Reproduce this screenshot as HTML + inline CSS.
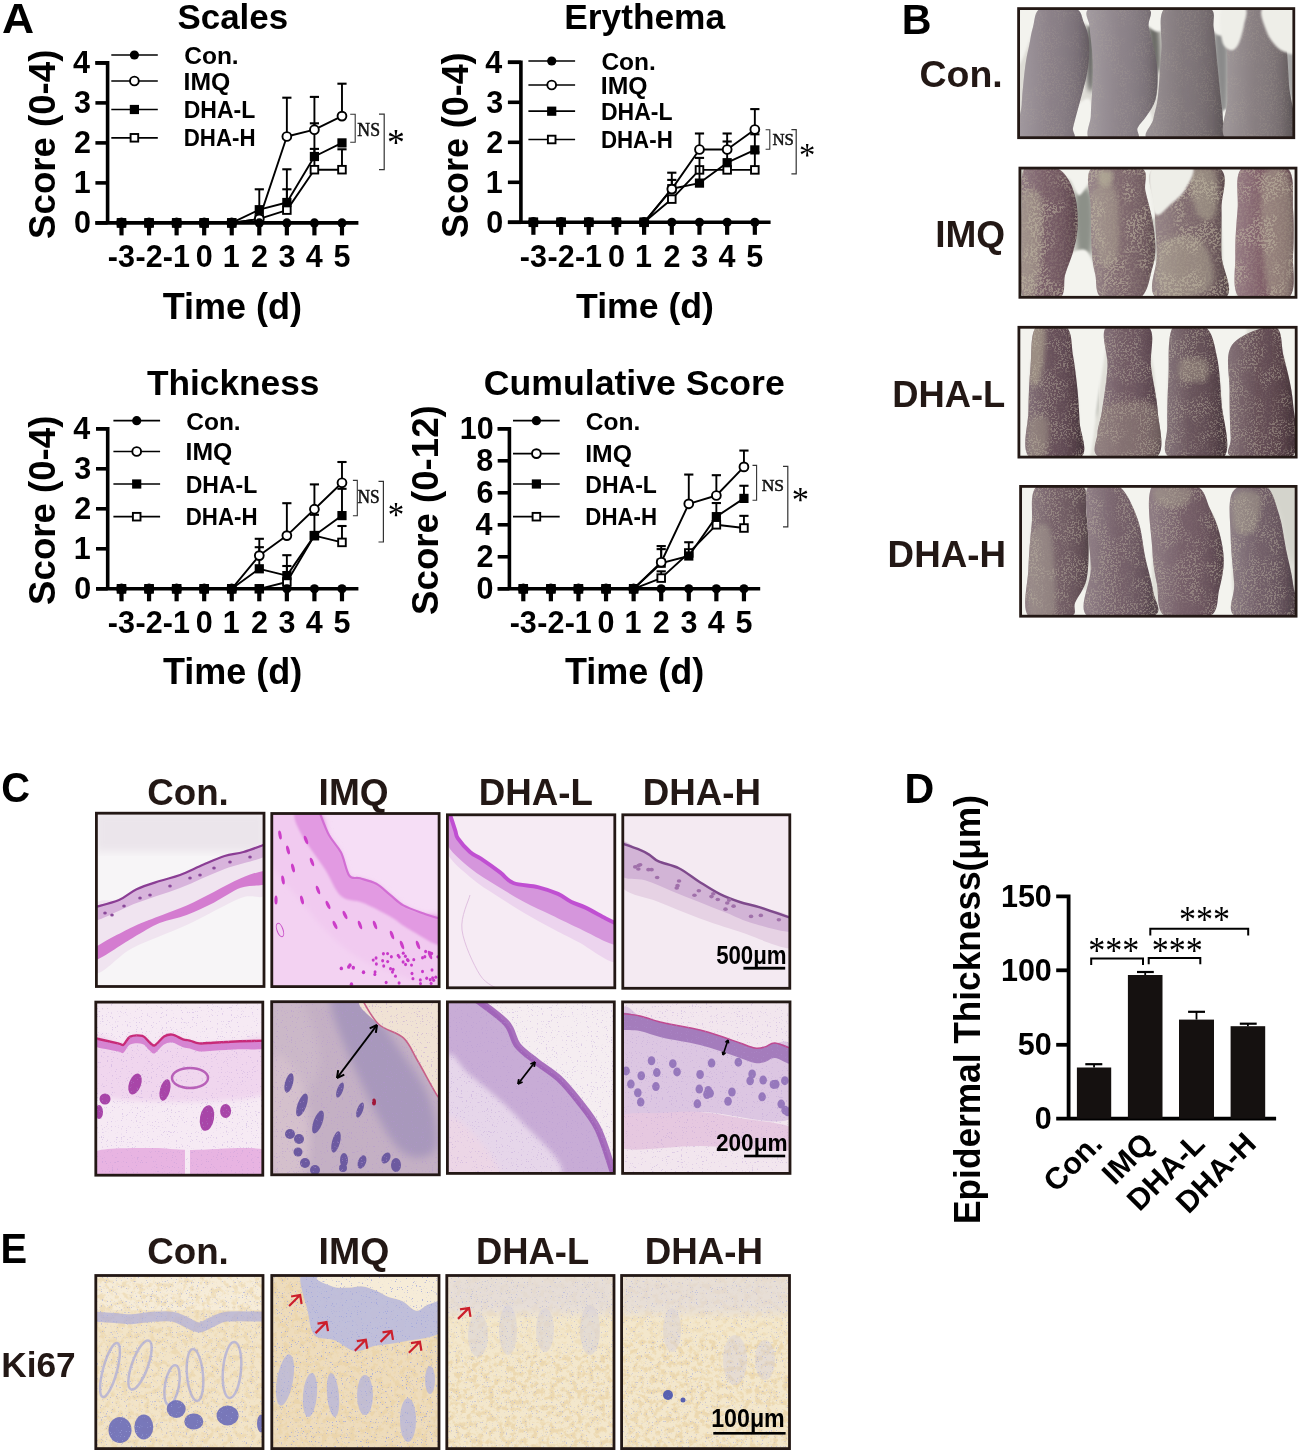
<!DOCTYPE html>
<html><head><meta charset="utf-8"><title>Figure</title>
<style>html,body{margin:0;padding:0;background:#fff;} svg{display:block;}</style></head>
<body><svg width="1301" height="1454" viewBox="0 0 1301 1454">
<rect width="1301" height="1454" fill="#fff"/>
<text transform="translate(2.09 32.8) scale(1.06 1)" font-family='"Liberation Sans", Arial, sans-serif' font-weight="bold" font-size="42" fill="#000" >A</text>
<text transform="translate(901.83 33.7) scale(0.98 1)" font-family='"Liberation Sans", Arial, sans-serif' font-weight="bold" font-size="42" fill="#000" >B</text>
<text transform="translate(1.21 802.3) scale(0.95 1)" font-family='"Liberation Sans", Arial, sans-serif' font-weight="bold" font-size="42" fill="#000" >C</text>
<text transform="translate(904.52 802.8) scale(0.98 1)" font-family='"Liberation Sans", Arial, sans-serif' font-weight="bold" font-size="42" fill="#000" >D</text>
<text transform="translate(0.6 1262.9) scale(0.95 1)" font-family='"Liberation Sans", Arial, sans-serif' font-weight="bold" font-size="42" fill="#000" >E</text>
<text transform="translate(177.45 29) scale(0.97 1)" font-family='"Liberation Sans", Arial, sans-serif' font-weight="bold" font-size="36" fill="#000" >Scales</text>
<text transform="translate(54.7 238.9) rotate(-90) scale(0.99 1)" font-family='"Liberation Sans", Arial, sans-serif' font-weight="bold" font-size="37" fill="#000">Score (0-4)</text>
<path d="M95.4 222.9 H358.4 M107.6 224.7 V61.1 M107.6 62.9 H95.4" fill="none" stroke="#000" stroke-width="3.6"/>
<line x1="95.4" y1="222.9" x2="107.6" y2="222.9" stroke="#000" stroke-width="3.6" stroke-linecap="butt"/>
<text transform="translate(74.09 233.3) scale(1 1)" font-family='"Liberation Sans", Arial, sans-serif' font-weight="bold" font-size="30.5" fill="#000" >0</text>
<line x1="95.4" y1="182.9" x2="107.6" y2="182.9" stroke="#000" stroke-width="3.6" stroke-linecap="butt"/>
<text transform="translate(73.64 193.3) scale(1 1)" font-family='"Liberation Sans", Arial, sans-serif' font-weight="bold" font-size="30.5" fill="#000" >1</text>
<line x1="95.4" y1="142.9" x2="107.6" y2="142.9" stroke="#000" stroke-width="3.6" stroke-linecap="butt"/>
<text transform="translate(74.09 153.3) scale(1 1)" font-family='"Liberation Sans", Arial, sans-serif' font-weight="bold" font-size="30.5" fill="#000" >2</text>
<line x1="95.4" y1="102.9" x2="107.6" y2="102.9" stroke="#000" stroke-width="3.6" stroke-linecap="butt"/>
<text transform="translate(73.94 113.3) scale(1 1)" font-family='"Liberation Sans", Arial, sans-serif' font-weight="bold" font-size="30.5" fill="#000" >3</text>
<line x1="95.4" y1="62.9" x2="107.6" y2="62.9" stroke="#000" stroke-width="3.6" stroke-linecap="butt"/>
<text transform="translate(73.03 73.3) scale(1 1)" font-family='"Liberation Sans", Arial, sans-serif' font-weight="bold" font-size="30.5" fill="#000" >4</text>
<line x1="121.5" y1="222.9" x2="121.5" y2="235.4" stroke="#000" stroke-width="4.2" stroke-linecap="butt"/>
<text transform="translate(107.85 267.2) scale(1 1)" font-family='"Liberation Sans", Arial, sans-serif' font-weight="bold" font-size="30.5" fill="#000" >-3</text>
<line x1="149.06" y1="222.9" x2="149.06" y2="235.4" stroke="#000" stroke-width="4.2" stroke-linecap="butt"/>
<text transform="translate(135.49 267.2) scale(1 1)" font-family='"Liberation Sans", Arial, sans-serif' font-weight="bold" font-size="30.5" fill="#000" >-2</text>
<line x1="176.62" y1="222.9" x2="176.62" y2="235.4" stroke="#000" stroke-width="4.2" stroke-linecap="butt"/>
<text transform="translate(162.82 267.2) scale(1 1)" font-family='"Liberation Sans", Arial, sans-serif' font-weight="bold" font-size="30.5" fill="#000" >-1</text>
<line x1="204.18" y1="222.9" x2="204.18" y2="235.4" stroke="#000" stroke-width="4.2" stroke-linecap="butt"/>
<text transform="translate(195.72 267.2) scale(1 1)" font-family='"Liberation Sans", Arial, sans-serif' font-weight="bold" font-size="30.5" fill="#000" >0</text>
<line x1="231.74" y1="222.9" x2="231.74" y2="235.4" stroke="#000" stroke-width="4.2" stroke-linecap="butt"/>
<text transform="translate(222.74 267.2) scale(1 1)" font-family='"Liberation Sans", Arial, sans-serif' font-weight="bold" font-size="30.5" fill="#000" >1</text>
<line x1="259.3" y1="222.9" x2="259.3" y2="235.4" stroke="#000" stroke-width="4.2" stroke-linecap="butt"/>
<text transform="translate(250.91 267.2) scale(1 1)" font-family='"Liberation Sans", Arial, sans-serif' font-weight="bold" font-size="30.5" fill="#000" >2</text>
<line x1="286.86" y1="222.9" x2="286.86" y2="235.4" stroke="#000" stroke-width="4.2" stroke-linecap="butt"/>
<text transform="translate(278.55 267.2) scale(1 1)" font-family='"Liberation Sans", Arial, sans-serif' font-weight="bold" font-size="30.5" fill="#000" >3</text>
<line x1="314.42" y1="222.9" x2="314.42" y2="235.4" stroke="#000" stroke-width="4.2" stroke-linecap="butt"/>
<text transform="translate(305.8 267.2) scale(1 1)" font-family='"Liberation Sans", Arial, sans-serif' font-weight="bold" font-size="30.5" fill="#000" >4</text>
<line x1="341.98" y1="222.9" x2="341.98" y2="235.4" stroke="#000" stroke-width="4.2" stroke-linecap="butt"/>
<text transform="translate(333.44 267.2) scale(1 1)" font-family='"Liberation Sans", Arial, sans-serif' font-weight="bold" font-size="30.5" fill="#000" >5</text>
<text transform="translate(162.64 319) scale(1 1)" font-family='"Liberation Sans", Arial, sans-serif' font-weight="bold" font-size="36" fill="#000" >Time (d)</text>
<line x1="286.86" y1="210.1" x2="286.86" y2="189.3" stroke="#000" stroke-width="1.9" stroke-linecap="butt"/>
<line x1="282.26" y1="189.3" x2="291.46" y2="189.3" stroke="#000" stroke-width="2.1" stroke-linecap="butt"/>
<line x1="314.42" y1="169.7" x2="314.42" y2="148.9" stroke="#000" stroke-width="1.9" stroke-linecap="butt"/>
<line x1="309.82" y1="148.9" x2="319.02" y2="148.9" stroke="#000" stroke-width="2.1" stroke-linecap="butt"/>
<line x1="341.98" y1="169.7" x2="341.98" y2="149.3" stroke="#000" stroke-width="1.9" stroke-linecap="butt"/>
<line x1="337.38" y1="149.3" x2="346.58" y2="149.3" stroke="#000" stroke-width="2.1" stroke-linecap="butt"/>
<polyline points="121.5,222.9 149.06,222.9 176.62,222.9 204.18,222.9 231.74,222.9 259.3,218.9 286.86,210.1 314.42,169.7 341.98,169.7" fill="none" stroke="#000" stroke-width="1.9" stroke-linejoin="round"/>
<rect x="117.7" y="219.1" width="7.6" height="7.6" fill="#fff" stroke="#000" stroke-width="1.9"/>
<rect x="145.26" y="219.1" width="7.6" height="7.6" fill="#fff" stroke="#000" stroke-width="1.9"/>
<rect x="172.82" y="219.1" width="7.6" height="7.6" fill="#fff" stroke="#000" stroke-width="1.9"/>
<rect x="200.38" y="219.1" width="7.6" height="7.6" fill="#fff" stroke="#000" stroke-width="1.9"/>
<rect x="227.94" y="219.1" width="7.6" height="7.6" fill="#fff" stroke="#000" stroke-width="1.9"/>
<rect x="255.5" y="215.1" width="7.6" height="7.6" fill="#fff" stroke="#000" stroke-width="1.9"/>
<rect x="283.06" y="206.3" width="7.6" height="7.6" fill="#fff" stroke="#000" stroke-width="1.9"/>
<rect x="310.62" y="165.9" width="7.6" height="7.6" fill="#fff" stroke="#000" stroke-width="1.9"/>
<rect x="338.18" y="165.9" width="7.6" height="7.6" fill="#fff" stroke="#000" stroke-width="1.9"/>
<line x1="259.3" y1="209.7" x2="259.3" y2="189.3" stroke="#000" stroke-width="1.9" stroke-linecap="butt"/>
<line x1="254.7" y1="189.3" x2="263.9" y2="189.3" stroke="#000" stroke-width="2.1" stroke-linecap="butt"/>
<line x1="286.86" y1="202.5" x2="286.86" y2="169.3" stroke="#000" stroke-width="1.9" stroke-linecap="butt"/>
<line x1="282.26" y1="169.3" x2="291.46" y2="169.3" stroke="#000" stroke-width="2.1" stroke-linecap="butt"/>
<line x1="314.42" y1="156.5" x2="314.42" y2="123.3" stroke="#000" stroke-width="1.9" stroke-linecap="butt"/>
<line x1="309.82" y1="123.3" x2="319.02" y2="123.3" stroke="#000" stroke-width="2.1" stroke-linecap="butt"/>
<polyline points="121.5,222.9 149.06,222.9 176.62,222.9 204.18,222.9 231.74,222.9 259.3,209.7 286.86,202.5 314.42,156.5 341.98,142.9" fill="none" stroke="#000" stroke-width="1.9" stroke-linejoin="round"/>
<rect x="116.9" y="218.3" width="9.2" height="9.2" fill="#000"/>
<rect x="144.46" y="218.3" width="9.2" height="9.2" fill="#000"/>
<rect x="172.02" y="218.3" width="9.2" height="9.2" fill="#000"/>
<rect x="199.58" y="218.3" width="9.2" height="9.2" fill="#000"/>
<rect x="227.14" y="218.3" width="9.2" height="9.2" fill="#000"/>
<rect x="254.7" y="205.1" width="9.2" height="9.2" fill="#000"/>
<rect x="282.26" y="197.9" width="9.2" height="9.2" fill="#000"/>
<rect x="309.82" y="151.9" width="9.2" height="9.2" fill="#000"/>
<rect x="337.38" y="138.3" width="9.2" height="9.2" fill="#000"/>
<line x1="286.86" y1="136.5" x2="286.86" y2="97.7" stroke="#000" stroke-width="1.9" stroke-linecap="butt"/>
<line x1="282.26" y1="97.7" x2="291.46" y2="97.7" stroke="#000" stroke-width="2.1" stroke-linecap="butt"/>
<line x1="314.42" y1="129.7" x2="314.42" y2="96.9" stroke="#000" stroke-width="1.9" stroke-linecap="butt"/>
<line x1="309.82" y1="96.9" x2="319.02" y2="96.9" stroke="#000" stroke-width="2.1" stroke-linecap="butt"/>
<line x1="341.98" y1="116.1" x2="341.98" y2="83.7" stroke="#000" stroke-width="1.9" stroke-linecap="butt"/>
<line x1="337.38" y1="83.7" x2="346.58" y2="83.7" stroke="#000" stroke-width="2.1" stroke-linecap="butt"/>
<polyline points="121.5,222.9 149.06,222.9 176.62,222.9 204.18,222.9 231.74,222.9 259.3,218.9 286.86,136.5 314.42,129.7 341.98,116.1" fill="none" stroke="#000" stroke-width="1.9" stroke-linejoin="round"/>
<circle cx="121.5" cy="222.9" r="4.4" fill="#fff" stroke="#000" stroke-width="1.9"/>
<circle cx="149.06" cy="222.9" r="4.4" fill="#fff" stroke="#000" stroke-width="1.9"/>
<circle cx="176.62" cy="222.9" r="4.4" fill="#fff" stroke="#000" stroke-width="1.9"/>
<circle cx="204.18" cy="222.9" r="4.4" fill="#fff" stroke="#000" stroke-width="1.9"/>
<circle cx="231.74" cy="222.9" r="4.4" fill="#fff" stroke="#000" stroke-width="1.9"/>
<circle cx="259.3" cy="218.9" r="4.4" fill="#fff" stroke="#000" stroke-width="1.9"/>
<circle cx="286.86" cy="136.5" r="4.4" fill="#fff" stroke="#000" stroke-width="1.9"/>
<circle cx="314.42" cy="129.7" r="4.4" fill="#fff" stroke="#000" stroke-width="1.9"/>
<circle cx="341.98" cy="116.1" r="4.4" fill="#fff" stroke="#000" stroke-width="1.9"/>
<polyline points="121.5,222.9 149.06,222.9 176.62,222.9 204.18,222.9 231.74,222.9 259.3,222.9 286.86,222.9 314.42,222.9 341.98,222.9" fill="none" stroke="#000" stroke-width="1.9" stroke-linejoin="round"/>
<circle cx="121.5" cy="222.9" r="4.6" fill="#000"/>
<circle cx="149.06" cy="222.9" r="4.6" fill="#000"/>
<circle cx="176.62" cy="222.9" r="4.6" fill="#000"/>
<circle cx="204.18" cy="222.9" r="4.6" fill="#000"/>
<circle cx="231.74" cy="222.9" r="4.6" fill="#000"/>
<circle cx="259.3" cy="222.9" r="4.6" fill="#000"/>
<circle cx="286.86" cy="222.9" r="4.6" fill="#000"/>
<circle cx="314.42" cy="222.9" r="4.6" fill="#000"/>
<circle cx="341.98" cy="222.9" r="4.6" fill="#000"/>
<line x1="111.3" y1="55" x2="157.8" y2="55" stroke="#000" stroke-width="1.7" stroke-linecap="butt"/>
<circle cx="134.4" cy="55" r="4.6" fill="#000"/>
<text transform="translate(184.22 63.6) scale(1 1)" font-family='"Liberation Sans", Arial, sans-serif' font-weight="bold" font-size="24.5" fill="#000" >Con.</text>
<line x1="111.3" y1="81" x2="157.8" y2="81" stroke="#000" stroke-width="1.7" stroke-linecap="butt"/>
<circle cx="134.4" cy="81" r="4.4" fill="#fff" stroke="#000" stroke-width="1.9"/>
<text transform="translate(183.59 89.8) scale(1.01 1)" font-family='"Liberation Sans", Arial, sans-serif' font-weight="bold" font-size="24.5" fill="#000" >IMQ</text>
<line x1="111.3" y1="109.5" x2="157.8" y2="109.5" stroke="#000" stroke-width="1.7" stroke-linecap="butt"/>
<rect x="129.8" y="104.9" width="9.2" height="9.2" fill="#000"/>
<text transform="translate(183.7 117.8) scale(0.94 1)" font-family='"Liberation Sans", Arial, sans-serif' font-weight="bold" font-size="24.5" fill="#000" >DHA-L</text>
<line x1="111.3" y1="137.8" x2="157.8" y2="137.8" stroke="#000" stroke-width="1.7" stroke-linecap="butt"/>
<rect x="130.6" y="134" width="7.6" height="7.6" fill="#fff" stroke="#000" stroke-width="1.9"/>
<text transform="translate(183.74 146) scale(0.91 1)" font-family='"Liberation Sans", Arial, sans-serif' font-weight="bold" font-size="24.5" fill="#000" >DHA-H</text>
<path d="M350.2 114.2 H355.2 V142.2 H350.2" fill="none" stroke="#333" stroke-width="1.1"/>
<text transform="translate(357.37 135.7) scale(0.96 1)" font-family='"Liberation Serif", "Times New Roman", serif' font-weight="normal" font-size="18.5" fill="#111" stroke="#111" stroke-width="0.5">NS</text>
<path d="M379 114.2 H384.2 V169.7 H379" fill="none" stroke="#333" stroke-width="1.2"/>
<text transform="translate(386.91 154.62) scale(0.93 1)" font-family='"Liberation Serif", "Times New Roman", serif' font-weight="normal" font-size="38.36" fill="#000">*</text>
<text transform="translate(564.31 29) scale(0.98 1)" font-family='"Liberation Sans", Arial, sans-serif' font-weight="bold" font-size="36" fill="#000" >Erythema</text>
<text transform="translate(467.5 237.88) rotate(-90) scale(0.97 1)" font-family='"Liberation Sans", Arial, sans-serif' font-weight="bold" font-size="37" fill="#000">Score (0-4)</text>
<path d="M507.9 222.3 H770.6 M520.9 224.1 V60.5 M520.9 62.3 H507.9" fill="none" stroke="#000" stroke-width="3.6"/>
<line x1="507.9" y1="222.3" x2="520.9" y2="222.3" stroke="#000" stroke-width="3.6" stroke-linecap="butt"/>
<text transform="translate(486.29 232.7) scale(1 1)" font-family='"Liberation Sans", Arial, sans-serif' font-weight="bold" font-size="30.5" fill="#000" >0</text>
<line x1="507.9" y1="182.3" x2="520.9" y2="182.3" stroke="#000" stroke-width="3.6" stroke-linecap="butt"/>
<text transform="translate(485.84 192.7) scale(1 1)" font-family='"Liberation Sans", Arial, sans-serif' font-weight="bold" font-size="30.5" fill="#000" >1</text>
<line x1="507.9" y1="142.3" x2="520.9" y2="142.3" stroke="#000" stroke-width="3.6" stroke-linecap="butt"/>
<text transform="translate(486.29 152.7) scale(1 1)" font-family='"Liberation Sans", Arial, sans-serif' font-weight="bold" font-size="30.5" fill="#000" >2</text>
<line x1="507.9" y1="102.3" x2="520.9" y2="102.3" stroke="#000" stroke-width="3.6" stroke-linecap="butt"/>
<text transform="translate(486.14 112.7) scale(1 1)" font-family='"Liberation Sans", Arial, sans-serif' font-weight="bold" font-size="30.5" fill="#000" >3</text>
<line x1="507.9" y1="62.3" x2="520.9" y2="62.3" stroke="#000" stroke-width="3.6" stroke-linecap="butt"/>
<text transform="translate(485.23 72.7) scale(1 1)" font-family='"Liberation Sans", Arial, sans-serif' font-weight="bold" font-size="30.5" fill="#000" >4</text>
<line x1="533.4" y1="222.3" x2="533.4" y2="234.8" stroke="#000" stroke-width="4.2" stroke-linecap="butt"/>
<text transform="translate(519.75 266.9) scale(1 1)" font-family='"Liberation Sans", Arial, sans-serif' font-weight="bold" font-size="30.5" fill="#000" >-3</text>
<line x1="561.08" y1="222.3" x2="561.08" y2="234.8" stroke="#000" stroke-width="4.2" stroke-linecap="butt"/>
<text transform="translate(547.51 266.9) scale(1 1)" font-family='"Liberation Sans", Arial, sans-serif' font-weight="bold" font-size="30.5" fill="#000" >-2</text>
<line x1="588.76" y1="222.3" x2="588.76" y2="234.8" stroke="#000" stroke-width="4.2" stroke-linecap="butt"/>
<text transform="translate(574.96 266.9) scale(1 1)" font-family='"Liberation Sans", Arial, sans-serif' font-weight="bold" font-size="30.5" fill="#000" >-1</text>
<line x1="616.44" y1="222.3" x2="616.44" y2="234.8" stroke="#000" stroke-width="4.2" stroke-linecap="butt"/>
<text transform="translate(607.98 266.9) scale(1 1)" font-family='"Liberation Sans", Arial, sans-serif' font-weight="bold" font-size="30.5" fill="#000" >0</text>
<line x1="644.12" y1="222.3" x2="644.12" y2="234.8" stroke="#000" stroke-width="4.2" stroke-linecap="butt"/>
<text transform="translate(635.12 266.9) scale(1 1)" font-family='"Liberation Sans", Arial, sans-serif' font-weight="bold" font-size="30.5" fill="#000" >1</text>
<line x1="671.8" y1="222.3" x2="671.8" y2="234.8" stroke="#000" stroke-width="4.2" stroke-linecap="butt"/>
<text transform="translate(663.41 266.9) scale(1 1)" font-family='"Liberation Sans", Arial, sans-serif' font-weight="bold" font-size="30.5" fill="#000" >2</text>
<line x1="699.48" y1="222.3" x2="699.48" y2="234.8" stroke="#000" stroke-width="4.2" stroke-linecap="butt"/>
<text transform="translate(691.17 266.9) scale(1 1)" font-family='"Liberation Sans", Arial, sans-serif' font-weight="bold" font-size="30.5" fill="#000" >3</text>
<line x1="727.16" y1="222.3" x2="727.16" y2="234.8" stroke="#000" stroke-width="4.2" stroke-linecap="butt"/>
<text transform="translate(718.54 266.9) scale(1 1)" font-family='"Liberation Sans", Arial, sans-serif' font-weight="bold" font-size="30.5" fill="#000" >4</text>
<line x1="754.84" y1="222.3" x2="754.84" y2="234.8" stroke="#000" stroke-width="4.2" stroke-linecap="butt"/>
<text transform="translate(746.3 266.9) scale(1 1)" font-family='"Liberation Sans", Arial, sans-serif' font-weight="bold" font-size="30.5" fill="#000" >5</text>
<text transform="translate(576.04 317.7) scale(0.99 1)" font-family='"Liberation Sans", Arial, sans-serif' font-weight="bold" font-size="36" fill="#000" >Time (d)</text>
<line x1="754.84" y1="169.9" x2="754.84" y2="152.3" stroke="#000" stroke-width="1.9" stroke-linecap="butt"/>
<line x1="750.24" y1="152.3" x2="759.44" y2="152.3" stroke="#000" stroke-width="2.1" stroke-linecap="butt"/>
<polyline points="533.4,222.3 561.08,222.3 588.76,222.3 616.44,222.3 644.12,222.3 671.8,199.1 699.48,169.9 727.16,169.9 754.84,169.9" fill="none" stroke="#000" stroke-width="1.9" stroke-linejoin="round"/>
<rect x="529.6" y="218.5" width="7.6" height="7.6" fill="#fff" stroke="#000" stroke-width="1.9"/>
<rect x="557.28" y="218.5" width="7.6" height="7.6" fill="#fff" stroke="#000" stroke-width="1.9"/>
<rect x="584.96" y="218.5" width="7.6" height="7.6" fill="#fff" stroke="#000" stroke-width="1.9"/>
<rect x="612.64" y="218.5" width="7.6" height="7.6" fill="#fff" stroke="#000" stroke-width="1.9"/>
<rect x="640.32" y="218.5" width="7.6" height="7.6" fill="#fff" stroke="#000" stroke-width="1.9"/>
<rect x="668" y="195.3" width="7.6" height="7.6" fill="#fff" stroke="#000" stroke-width="1.9"/>
<rect x="695.68" y="166.1" width="7.6" height="7.6" fill="#fff" stroke="#000" stroke-width="1.9"/>
<rect x="723.36" y="166.1" width="7.6" height="7.6" fill="#fff" stroke="#000" stroke-width="1.9"/>
<rect x="751.04" y="166.1" width="7.6" height="7.6" fill="#fff" stroke="#000" stroke-width="1.9"/>
<line x1="671.8" y1="188.7" x2="671.8" y2="179.9" stroke="#000" stroke-width="1.9" stroke-linecap="butt"/>
<line x1="667.2" y1="179.9" x2="676.4" y2="179.9" stroke="#000" stroke-width="2.1" stroke-linecap="butt"/>
<line x1="699.48" y1="183.1" x2="699.48" y2="157.9" stroke="#000" stroke-width="1.9" stroke-linecap="butt"/>
<line x1="694.88" y1="157.9" x2="704.08" y2="157.9" stroke="#000" stroke-width="2.1" stroke-linecap="butt"/>
<line x1="727.16" y1="162.7" x2="727.16" y2="141.5" stroke="#000" stroke-width="1.9" stroke-linecap="butt"/>
<line x1="722.56" y1="141.5" x2="731.76" y2="141.5" stroke="#000" stroke-width="2.1" stroke-linecap="butt"/>
<line x1="754.84" y1="149.9" x2="754.84" y2="134.3" stroke="#000" stroke-width="1.9" stroke-linecap="butt"/>
<line x1="750.24" y1="134.3" x2="759.44" y2="134.3" stroke="#000" stroke-width="2.1" stroke-linecap="butt"/>
<polyline points="533.4,222.3 561.08,222.3 588.76,222.3 616.44,222.3 644.12,222.3 671.8,188.7 699.48,183.1 727.16,162.7 754.84,149.9" fill="none" stroke="#000" stroke-width="1.9" stroke-linejoin="round"/>
<rect x="528.8" y="217.7" width="9.2" height="9.2" fill="#000"/>
<rect x="556.48" y="217.7" width="9.2" height="9.2" fill="#000"/>
<rect x="584.16" y="217.7" width="9.2" height="9.2" fill="#000"/>
<rect x="611.84" y="217.7" width="9.2" height="9.2" fill="#000"/>
<rect x="639.52" y="217.7" width="9.2" height="9.2" fill="#000"/>
<rect x="667.2" y="184.1" width="9.2" height="9.2" fill="#000"/>
<rect x="694.88" y="178.5" width="9.2" height="9.2" fill="#000"/>
<rect x="722.56" y="158.1" width="9.2" height="9.2" fill="#000"/>
<rect x="750.24" y="145.3" width="9.2" height="9.2" fill="#000"/>
<line x1="671.8" y1="189.1" x2="671.8" y2="172.7" stroke="#000" stroke-width="1.9" stroke-linecap="butt"/>
<line x1="667.2" y1="172.7" x2="676.4" y2="172.7" stroke="#000" stroke-width="2.1" stroke-linecap="butt"/>
<line x1="699.48" y1="149.5" x2="699.48" y2="133.5" stroke="#000" stroke-width="1.9" stroke-linecap="butt"/>
<line x1="694.88" y1="133.5" x2="704.08" y2="133.5" stroke="#000" stroke-width="2.1" stroke-linecap="butt"/>
<line x1="727.16" y1="149.5" x2="727.16" y2="133.5" stroke="#000" stroke-width="1.9" stroke-linecap="butt"/>
<line x1="722.56" y1="133.5" x2="731.76" y2="133.5" stroke="#000" stroke-width="2.1" stroke-linecap="butt"/>
<line x1="754.84" y1="129.5" x2="754.84" y2="109.1" stroke="#000" stroke-width="1.9" stroke-linecap="butt"/>
<line x1="750.24" y1="109.1" x2="759.44" y2="109.1" stroke="#000" stroke-width="2.1" stroke-linecap="butt"/>
<polyline points="533.4,222.3 561.08,222.3 588.76,222.3 616.44,222.3 644.12,222.3 671.8,189.1 699.48,149.5 727.16,149.5 754.84,129.5" fill="none" stroke="#000" stroke-width="1.9" stroke-linejoin="round"/>
<circle cx="533.4" cy="222.3" r="4.4" fill="#fff" stroke="#000" stroke-width="1.9"/>
<circle cx="561.08" cy="222.3" r="4.4" fill="#fff" stroke="#000" stroke-width="1.9"/>
<circle cx="588.76" cy="222.3" r="4.4" fill="#fff" stroke="#000" stroke-width="1.9"/>
<circle cx="616.44" cy="222.3" r="4.4" fill="#fff" stroke="#000" stroke-width="1.9"/>
<circle cx="644.12" cy="222.3" r="4.4" fill="#fff" stroke="#000" stroke-width="1.9"/>
<circle cx="671.8" cy="189.1" r="4.4" fill="#fff" stroke="#000" stroke-width="1.9"/>
<circle cx="699.48" cy="149.5" r="4.4" fill="#fff" stroke="#000" stroke-width="1.9"/>
<circle cx="727.16" cy="149.5" r="4.4" fill="#fff" stroke="#000" stroke-width="1.9"/>
<circle cx="754.84" cy="129.5" r="4.4" fill="#fff" stroke="#000" stroke-width="1.9"/>
<polyline points="533.4,222.3 561.08,222.3 588.76,222.3 616.44,222.3 644.12,222.3 671.8,222.3 699.48,222.3 727.16,222.3 754.84,222.3" fill="none" stroke="#000" stroke-width="1.9" stroke-linejoin="round"/>
<circle cx="533.4" cy="222.3" r="4.6" fill="#000"/>
<circle cx="561.08" cy="222.3" r="4.6" fill="#000"/>
<circle cx="588.76" cy="222.3" r="4.6" fill="#000"/>
<circle cx="616.44" cy="222.3" r="4.6" fill="#000"/>
<circle cx="644.12" cy="222.3" r="4.6" fill="#000"/>
<circle cx="671.8" cy="222.3" r="4.6" fill="#000"/>
<circle cx="699.48" cy="222.3" r="4.6" fill="#000"/>
<circle cx="727.16" cy="222.3" r="4.6" fill="#000"/>
<circle cx="754.84" cy="222.3" r="4.6" fill="#000"/>
<line x1="528.4" y1="61" x2="575.1" y2="61" stroke="#000" stroke-width="1.7" stroke-linecap="butt"/>
<circle cx="551.7" cy="61" r="4.6" fill="#000"/>
<text transform="translate(601.42 70.2) scale(1 1)" font-family='"Liberation Sans", Arial, sans-serif' font-weight="bold" font-size="24.5" fill="#000" >Con.</text>
<line x1="528.4" y1="85" x2="575.1" y2="85" stroke="#000" stroke-width="1.7" stroke-linecap="butt"/>
<circle cx="551.7" cy="85" r="4.4" fill="#fff" stroke="#000" stroke-width="1.9"/>
<text transform="translate(600.79 94) scale(1.01 1)" font-family='"Liberation Sans", Arial, sans-serif' font-weight="bold" font-size="24.5" fill="#000" >IMQ</text>
<line x1="528.4" y1="111.2" x2="575.1" y2="111.2" stroke="#000" stroke-width="1.7" stroke-linecap="butt"/>
<rect x="547.1" y="106.6" width="9.2" height="9.2" fill="#000"/>
<text transform="translate(600.9 119.8) scale(0.94 1)" font-family='"Liberation Sans", Arial, sans-serif' font-weight="bold" font-size="24.5" fill="#000" >DHA-L</text>
<line x1="528.4" y1="139.5" x2="575.1" y2="139.5" stroke="#000" stroke-width="1.7" stroke-linecap="butt"/>
<rect x="547.9" y="135.7" width="7.6" height="7.6" fill="#fff" stroke="#000" stroke-width="1.9"/>
<text transform="translate(600.94 148.1) scale(0.91 1)" font-family='"Liberation Sans", Arial, sans-serif' font-weight="bold" font-size="24.5" fill="#000" >DHA-H</text>
<path d="M765.6 129.7 H769.8 V149.2 H765.6" fill="none" stroke="#333" stroke-width="1.1"/>
<text transform="translate(772.49 145.3) scale(0.96 1)" font-family='"Liberation Serif", "Times New Roman", serif' font-weight="normal" font-size="17.5" fill="#111" stroke="#111" stroke-width="0.5">NS</text>
<path d="M791.4 129.7 H796.2 V173.8 H791.4" fill="none" stroke="#333" stroke-width="1.2"/>
<text transform="translate(798.96 165.87) scale(0.97 1)" font-family='"Liberation Serif", "Times New Roman", serif' font-weight="normal" font-size="33.7" fill="#000">*</text>
<text transform="translate(146.95 395.1) scale(0.98 1)" font-family='"Liberation Sans", Arial, sans-serif' font-weight="bold" font-size="36" fill="#000" >Thickness</text>
<text transform="translate(54.6 604.9) rotate(-90) scale(0.99 1)" font-family='"Liberation Sans", Arial, sans-serif' font-weight="bold" font-size="37" fill="#000">Score (0-4)</text>
<path d="M96 588.8 H358.4 M107.7 590.6 V427 M107.7 428.8 H96" fill="none" stroke="#000" stroke-width="3.6"/>
<line x1="96" y1="588.8" x2="107.7" y2="588.8" stroke="#000" stroke-width="3.6" stroke-linecap="butt"/>
<text transform="translate(74.29 599.2) scale(1 1)" font-family='"Liberation Sans", Arial, sans-serif' font-weight="bold" font-size="30.5" fill="#000" >0</text>
<line x1="96" y1="548.8" x2="107.7" y2="548.8" stroke="#000" stroke-width="3.6" stroke-linecap="butt"/>
<text transform="translate(73.84 559.2) scale(1 1)" font-family='"Liberation Sans", Arial, sans-serif' font-weight="bold" font-size="30.5" fill="#000" >1</text>
<line x1="96" y1="508.8" x2="107.7" y2="508.8" stroke="#000" stroke-width="3.6" stroke-linecap="butt"/>
<text transform="translate(74.29 519.2) scale(1 1)" font-family='"Liberation Sans", Arial, sans-serif' font-weight="bold" font-size="30.5" fill="#000" >2</text>
<line x1="96" y1="468.8" x2="107.7" y2="468.8" stroke="#000" stroke-width="3.6" stroke-linecap="butt"/>
<text transform="translate(74.14 479.2) scale(1 1)" font-family='"Liberation Sans", Arial, sans-serif' font-weight="bold" font-size="30.5" fill="#000" >3</text>
<line x1="96" y1="428.8" x2="107.7" y2="428.8" stroke="#000" stroke-width="3.6" stroke-linecap="butt"/>
<text transform="translate(73.23 439.2) scale(1 1)" font-family='"Liberation Sans", Arial, sans-serif' font-weight="bold" font-size="30.5" fill="#000" >4</text>
<line x1="121.5" y1="588.8" x2="121.5" y2="601.3" stroke="#000" stroke-width="4.2" stroke-linecap="butt"/>
<text transform="translate(107.85 632.9) scale(1 1)" font-family='"Liberation Sans", Arial, sans-serif' font-weight="bold" font-size="30.5" fill="#000" >-3</text>
<line x1="149.06" y1="588.8" x2="149.06" y2="601.3" stroke="#000" stroke-width="4.2" stroke-linecap="butt"/>
<text transform="translate(135.49 632.9) scale(1 1)" font-family='"Liberation Sans", Arial, sans-serif' font-weight="bold" font-size="30.5" fill="#000" >-2</text>
<line x1="176.62" y1="588.8" x2="176.62" y2="601.3" stroke="#000" stroke-width="4.2" stroke-linecap="butt"/>
<text transform="translate(162.82 632.9) scale(1 1)" font-family='"Liberation Sans", Arial, sans-serif' font-weight="bold" font-size="30.5" fill="#000" >-1</text>
<line x1="204.18" y1="588.8" x2="204.18" y2="601.3" stroke="#000" stroke-width="4.2" stroke-linecap="butt"/>
<text transform="translate(195.72 632.9) scale(1 1)" font-family='"Liberation Sans", Arial, sans-serif' font-weight="bold" font-size="30.5" fill="#000" >0</text>
<line x1="231.74" y1="588.8" x2="231.74" y2="601.3" stroke="#000" stroke-width="4.2" stroke-linecap="butt"/>
<text transform="translate(222.74 632.9) scale(1 1)" font-family='"Liberation Sans", Arial, sans-serif' font-weight="bold" font-size="30.5" fill="#000" >1</text>
<line x1="259.3" y1="588.8" x2="259.3" y2="601.3" stroke="#000" stroke-width="4.2" stroke-linecap="butt"/>
<text transform="translate(250.91 632.9) scale(1 1)" font-family='"Liberation Sans", Arial, sans-serif' font-weight="bold" font-size="30.5" fill="#000" >2</text>
<line x1="286.86" y1="588.8" x2="286.86" y2="601.3" stroke="#000" stroke-width="4.2" stroke-linecap="butt"/>
<text transform="translate(278.55 632.9) scale(1 1)" font-family='"Liberation Sans", Arial, sans-serif' font-weight="bold" font-size="30.5" fill="#000" >3</text>
<line x1="314.42" y1="588.8" x2="314.42" y2="601.3" stroke="#000" stroke-width="4.2" stroke-linecap="butt"/>
<text transform="translate(305.8 632.9) scale(1 1)" font-family='"Liberation Sans", Arial, sans-serif' font-weight="bold" font-size="30.5" fill="#000" >4</text>
<line x1="341.98" y1="588.8" x2="341.98" y2="601.3" stroke="#000" stroke-width="4.2" stroke-linecap="butt"/>
<text transform="translate(333.44 632.9) scale(1 1)" font-family='"Liberation Sans", Arial, sans-serif' font-weight="bold" font-size="30.5" fill="#000" >5</text>
<text transform="translate(162.94 683.8) scale(1 1)" font-family='"Liberation Sans", Arial, sans-serif' font-weight="bold" font-size="36" fill="#000" >Time (d)</text>
<line x1="286.86" y1="582" x2="286.86" y2="566" stroke="#000" stroke-width="1.9" stroke-linecap="butt"/>
<line x1="282.26" y1="566" x2="291.46" y2="566" stroke="#000" stroke-width="2.1" stroke-linecap="butt"/>
<line x1="341.98" y1="542.4" x2="341.98" y2="526" stroke="#000" stroke-width="1.9" stroke-linecap="butt"/>
<line x1="337.38" y1="526" x2="346.58" y2="526" stroke="#000" stroke-width="2.1" stroke-linecap="butt"/>
<polyline points="121.5,588.8 149.06,588.8 176.62,588.8 204.18,588.8 231.74,588.8 259.3,588.8 286.86,582 314.42,535.6 341.98,542.4" fill="none" stroke="#000" stroke-width="1.9" stroke-linejoin="round"/>
<rect x="117.7" y="585" width="7.6" height="7.6" fill="#fff" stroke="#000" stroke-width="1.9"/>
<rect x="145.26" y="585" width="7.6" height="7.6" fill="#fff" stroke="#000" stroke-width="1.9"/>
<rect x="172.82" y="585" width="7.6" height="7.6" fill="#fff" stroke="#000" stroke-width="1.9"/>
<rect x="200.38" y="585" width="7.6" height="7.6" fill="#fff" stroke="#000" stroke-width="1.9"/>
<rect x="227.94" y="585" width="7.6" height="7.6" fill="#fff" stroke="#000" stroke-width="1.9"/>
<rect x="255.5" y="585" width="7.6" height="7.6" fill="#fff" stroke="#000" stroke-width="1.9"/>
<rect x="283.06" y="578.2" width="7.6" height="7.6" fill="#fff" stroke="#000" stroke-width="1.9"/>
<rect x="310.62" y="531.8" width="7.6" height="7.6" fill="#fff" stroke="#000" stroke-width="1.9"/>
<rect x="338.18" y="538.6" width="7.6" height="7.6" fill="#fff" stroke="#000" stroke-width="1.9"/>
<line x1="259.3" y1="568.8" x2="259.3" y2="547.2" stroke="#000" stroke-width="1.9" stroke-linecap="butt"/>
<line x1="254.7" y1="547.2" x2="263.9" y2="547.2" stroke="#000" stroke-width="2.1" stroke-linecap="butt"/>
<line x1="286.86" y1="575.6" x2="286.86" y2="555.2" stroke="#000" stroke-width="1.9" stroke-linecap="butt"/>
<line x1="282.26" y1="555.2" x2="291.46" y2="555.2" stroke="#000" stroke-width="2.1" stroke-linecap="butt"/>
<line x1="314.42" y1="535.6" x2="314.42" y2="514.8" stroke="#000" stroke-width="1.9" stroke-linecap="butt"/>
<line x1="309.82" y1="514.8" x2="319.02" y2="514.8" stroke="#000" stroke-width="2.1" stroke-linecap="butt"/>
<line x1="341.98" y1="515.6" x2="341.98" y2="488.8" stroke="#000" stroke-width="1.9" stroke-linecap="butt"/>
<line x1="337.38" y1="488.8" x2="346.58" y2="488.8" stroke="#000" stroke-width="2.1" stroke-linecap="butt"/>
<polyline points="121.5,588.8 149.06,588.8 176.62,588.8 204.18,588.8 231.74,588.8 259.3,568.8 286.86,575.6 314.42,535.6 341.98,515.6" fill="none" stroke="#000" stroke-width="1.9" stroke-linejoin="round"/>
<rect x="116.9" y="584.2" width="9.2" height="9.2" fill="#000"/>
<rect x="144.46" y="584.2" width="9.2" height="9.2" fill="#000"/>
<rect x="172.02" y="584.2" width="9.2" height="9.2" fill="#000"/>
<rect x="199.58" y="584.2" width="9.2" height="9.2" fill="#000"/>
<rect x="227.14" y="584.2" width="9.2" height="9.2" fill="#000"/>
<rect x="254.7" y="564.2" width="9.2" height="9.2" fill="#000"/>
<rect x="282.26" y="571" width="9.2" height="9.2" fill="#000"/>
<rect x="309.82" y="531" width="9.2" height="9.2" fill="#000"/>
<rect x="337.38" y="511" width="9.2" height="9.2" fill="#000"/>
<line x1="259.3" y1="555.6" x2="259.3" y2="538.8" stroke="#000" stroke-width="1.9" stroke-linecap="butt"/>
<line x1="254.7" y1="538.8" x2="263.9" y2="538.8" stroke="#000" stroke-width="2.1" stroke-linecap="butt"/>
<line x1="286.86" y1="535.6" x2="286.86" y2="503.2" stroke="#000" stroke-width="1.9" stroke-linecap="butt"/>
<line x1="282.26" y1="503.2" x2="291.46" y2="503.2" stroke="#000" stroke-width="2.1" stroke-linecap="butt"/>
<line x1="314.42" y1="509.2" x2="314.42" y2="484.4" stroke="#000" stroke-width="1.9" stroke-linecap="butt"/>
<line x1="309.82" y1="484.4" x2="319.02" y2="484.4" stroke="#000" stroke-width="2.1" stroke-linecap="butt"/>
<line x1="341.98" y1="482.8" x2="341.98" y2="462" stroke="#000" stroke-width="1.9" stroke-linecap="butt"/>
<line x1="337.38" y1="462" x2="346.58" y2="462" stroke="#000" stroke-width="2.1" stroke-linecap="butt"/>
<polyline points="121.5,588.8 149.06,588.8 176.62,588.8 204.18,588.8 231.74,588.8 259.3,555.6 286.86,535.6 314.42,509.2 341.98,482.8" fill="none" stroke="#000" stroke-width="1.9" stroke-linejoin="round"/>
<circle cx="121.5" cy="588.8" r="4.4" fill="#fff" stroke="#000" stroke-width="1.9"/>
<circle cx="149.06" cy="588.8" r="4.4" fill="#fff" stroke="#000" stroke-width="1.9"/>
<circle cx="176.62" cy="588.8" r="4.4" fill="#fff" stroke="#000" stroke-width="1.9"/>
<circle cx="204.18" cy="588.8" r="4.4" fill="#fff" stroke="#000" stroke-width="1.9"/>
<circle cx="231.74" cy="588.8" r="4.4" fill="#fff" stroke="#000" stroke-width="1.9"/>
<circle cx="259.3" cy="555.6" r="4.4" fill="#fff" stroke="#000" stroke-width="1.9"/>
<circle cx="286.86" cy="535.6" r="4.4" fill="#fff" stroke="#000" stroke-width="1.9"/>
<circle cx="314.42" cy="509.2" r="4.4" fill="#fff" stroke="#000" stroke-width="1.9"/>
<circle cx="341.98" cy="482.8" r="4.4" fill="#fff" stroke="#000" stroke-width="1.9"/>
<polyline points="121.5,588.8 149.06,588.8 176.62,588.8 204.18,588.8 231.74,588.8 259.3,588.8 286.86,588.8 314.42,588.8 341.98,588.8" fill="none" stroke="#000" stroke-width="1.9" stroke-linejoin="round"/>
<circle cx="121.5" cy="588.8" r="4.6" fill="#000"/>
<circle cx="149.06" cy="588.8" r="4.6" fill="#000"/>
<circle cx="176.62" cy="588.8" r="4.6" fill="#000"/>
<circle cx="204.18" cy="588.8" r="4.6" fill="#000"/>
<circle cx="231.74" cy="588.8" r="4.6" fill="#000"/>
<circle cx="259.3" cy="588.8" r="4.6" fill="#000"/>
<circle cx="286.86" cy="588.8" r="4.6" fill="#000"/>
<circle cx="314.42" cy="588.8" r="4.6" fill="#000"/>
<circle cx="341.98" cy="588.8" r="4.6" fill="#000"/>
<line x1="113.4" y1="420.7" x2="160.1" y2="420.7" stroke="#000" stroke-width="1.7" stroke-linecap="butt"/>
<circle cx="136.7" cy="420.7" r="4.6" fill="#000"/>
<text transform="translate(186.22 429.6) scale(1 1)" font-family='"Liberation Sans", Arial, sans-serif' font-weight="bold" font-size="24.5" fill="#000" >Con.</text>
<line x1="113.4" y1="451.5" x2="160.1" y2="451.5" stroke="#000" stroke-width="1.7" stroke-linecap="butt"/>
<circle cx="136.7" cy="451.5" r="4.4" fill="#fff" stroke="#000" stroke-width="1.9"/>
<text transform="translate(185.59 459.7) scale(1.01 1)" font-family='"Liberation Sans", Arial, sans-serif' font-weight="bold" font-size="24.5" fill="#000" >IMQ</text>
<line x1="113.4" y1="484" x2="160.1" y2="484" stroke="#000" stroke-width="1.7" stroke-linecap="butt"/>
<rect x="132.1" y="479.4" width="9.2" height="9.2" fill="#000"/>
<text transform="translate(185.7 492.6) scale(0.94 1)" font-family='"Liberation Sans", Arial, sans-serif' font-weight="bold" font-size="24.5" fill="#000" >DHA-L</text>
<line x1="113.4" y1="516.7" x2="160.1" y2="516.7" stroke="#000" stroke-width="1.7" stroke-linecap="butt"/>
<rect x="132.9" y="512.9" width="7.6" height="7.6" fill="#fff" stroke="#000" stroke-width="1.9"/>
<text transform="translate(185.74 524.5) scale(0.91 1)" font-family='"Liberation Sans", Arial, sans-serif' font-weight="bold" font-size="24.5" fill="#000" >DHA-H</text>
<path d="M352.9 480.4 H357.3 V515.7 H352.9" fill="none" stroke="#333" stroke-width="1.1"/>
<text transform="translate(357.48 502.6) scale(0.94 1)" font-family='"Liberation Serif", "Times New Roman", serif' font-weight="normal" font-size="18.5" fill="#111" stroke="#111" stroke-width="0.5">NS</text>
<path d="M378.5 481.4 H383.4 V542 H378.5" fill="none" stroke="#333" stroke-width="1.2"/>
<text transform="translate(387.75 526.99) scale(0.91 1)" font-family='"Liberation Serif", "Times New Roman", serif' font-weight="normal" font-size="36.16" fill="#000">*</text>
<text transform="translate(483.78 395) scale(0.99 1)" font-family='"Liberation Sans", Arial, sans-serif' font-weight="bold" font-size="36" fill="#000" >Cumulative Score</text>
<text transform="translate(437.9 614.9) rotate(-90) scale(0.99 1)" font-family='"Liberation Sans", Arial, sans-serif' font-weight="bold" font-size="37" fill="#000">Score (0-12)</text>
<path d="M497.7 588.8 H760.2 M509.4 590.6 V427 M509.4 428.8 H497.7" fill="none" stroke="#000" stroke-width="3.6"/>
<line x1="497.7" y1="588.8" x2="509.4" y2="588.8" stroke="#000" stroke-width="3.6" stroke-linecap="butt"/>
<text transform="translate(476.59 599.2) scale(1 1)" font-family='"Liberation Sans", Arial, sans-serif' font-weight="bold" font-size="30.5" fill="#000" >0</text>
<line x1="497.7" y1="556.8" x2="509.4" y2="556.8" stroke="#000" stroke-width="3.6" stroke-linecap="butt"/>
<text transform="translate(476.59 567.2) scale(1 1)" font-family='"Liberation Sans", Arial, sans-serif' font-weight="bold" font-size="30.5" fill="#000" >2</text>
<line x1="497.7" y1="524.8" x2="509.4" y2="524.8" stroke="#000" stroke-width="3.6" stroke-linecap="butt"/>
<text transform="translate(475.53 535.2) scale(1 1)" font-family='"Liberation Sans", Arial, sans-serif' font-weight="bold" font-size="30.5" fill="#000" >4</text>
<line x1="497.7" y1="492.8" x2="509.4" y2="492.8" stroke="#000" stroke-width="3.6" stroke-linecap="butt"/>
<text transform="translate(476.44 503.2) scale(1 1)" font-family='"Liberation Sans", Arial, sans-serif' font-weight="bold" font-size="30.5" fill="#000" >6</text>
<line x1="497.7" y1="460.8" x2="509.4" y2="460.8" stroke="#000" stroke-width="3.6" stroke-linecap="butt"/>
<text transform="translate(476.29 471.2) scale(1 1)" font-family='"Liberation Sans", Arial, sans-serif' font-weight="bold" font-size="30.5" fill="#000" >8</text>
<line x1="497.7" y1="428.8" x2="509.4" y2="428.8" stroke="#000" stroke-width="3.6" stroke-linecap="butt"/>
<text transform="translate(459.67 439.2) scale(1 1)" font-family='"Liberation Sans", Arial, sans-serif' font-weight="bold" font-size="30.5" fill="#000" >10</text>
<line x1="523.3" y1="588.8" x2="523.3" y2="601.3" stroke="#000" stroke-width="4.2" stroke-linecap="butt"/>
<text transform="translate(509.65 632.7) scale(1 1)" font-family='"Liberation Sans", Arial, sans-serif' font-weight="bold" font-size="30.5" fill="#000" >-3</text>
<line x1="550.88" y1="588.8" x2="550.88" y2="601.3" stroke="#000" stroke-width="4.2" stroke-linecap="butt"/>
<text transform="translate(537.31 632.7) scale(1 1)" font-family='"Liberation Sans", Arial, sans-serif' font-weight="bold" font-size="30.5" fill="#000" >-2</text>
<line x1="578.46" y1="588.8" x2="578.46" y2="601.3" stroke="#000" stroke-width="4.2" stroke-linecap="butt"/>
<text transform="translate(564.66 632.7) scale(1 1)" font-family='"Liberation Sans", Arial, sans-serif' font-weight="bold" font-size="30.5" fill="#000" >-1</text>
<line x1="606.04" y1="588.8" x2="606.04" y2="601.3" stroke="#000" stroke-width="4.2" stroke-linecap="butt"/>
<text transform="translate(597.58 632.7) scale(1 1)" font-family='"Liberation Sans", Arial, sans-serif' font-weight="bold" font-size="30.5" fill="#000" >0</text>
<line x1="633.62" y1="588.8" x2="633.62" y2="601.3" stroke="#000" stroke-width="4.2" stroke-linecap="butt"/>
<text transform="translate(624.62 632.7) scale(1 1)" font-family='"Liberation Sans", Arial, sans-serif' font-weight="bold" font-size="30.5" fill="#000" >1</text>
<line x1="661.2" y1="588.8" x2="661.2" y2="601.3" stroke="#000" stroke-width="4.2" stroke-linecap="butt"/>
<text transform="translate(652.81 632.7) scale(1 1)" font-family='"Liberation Sans", Arial, sans-serif' font-weight="bold" font-size="30.5" fill="#000" >2</text>
<line x1="688.78" y1="588.8" x2="688.78" y2="601.3" stroke="#000" stroke-width="4.2" stroke-linecap="butt"/>
<text transform="translate(680.47 632.7) scale(1 1)" font-family='"Liberation Sans", Arial, sans-serif' font-weight="bold" font-size="30.5" fill="#000" >3</text>
<line x1="716.36" y1="588.8" x2="716.36" y2="601.3" stroke="#000" stroke-width="4.2" stroke-linecap="butt"/>
<text transform="translate(707.74 632.7) scale(1 1)" font-family='"Liberation Sans", Arial, sans-serif' font-weight="bold" font-size="30.5" fill="#000" >4</text>
<line x1="743.94" y1="588.8" x2="743.94" y2="601.3" stroke="#000" stroke-width="4.2" stroke-linecap="butt"/>
<text transform="translate(735.4 632.7) scale(1 1)" font-family='"Liberation Sans", Arial, sans-serif' font-weight="bold" font-size="30.5" fill="#000" >5</text>
<text transform="translate(564.94 684.4) scale(1 1)" font-family='"Liberation Sans", Arial, sans-serif' font-weight="bold" font-size="36" fill="#000" >Time (d)</text>
<line x1="661.2" y1="578.08" x2="661.2" y2="571.36" stroke="#000" stroke-width="1.9" stroke-linecap="butt"/>
<line x1="656.6" y1="571.36" x2="665.8" y2="571.36" stroke="#000" stroke-width="2.1" stroke-linecap="butt"/>
<line x1="743.94" y1="528" x2="743.94" y2="515.84" stroke="#000" stroke-width="1.9" stroke-linecap="butt"/>
<line x1="739.34" y1="515.84" x2="748.54" y2="515.84" stroke="#000" stroke-width="2.1" stroke-linecap="butt"/>
<polyline points="523.3,588.8 550.88,588.8 578.46,588.8 606.04,588.8 633.62,588.8 661.2,578.08 688.78,552.96 716.36,524.8 743.94,528" fill="none" stroke="#000" stroke-width="1.9" stroke-linejoin="round"/>
<rect x="519.5" y="585" width="7.6" height="7.6" fill="#fff" stroke="#000" stroke-width="1.9"/>
<rect x="547.08" y="585" width="7.6" height="7.6" fill="#fff" stroke="#000" stroke-width="1.9"/>
<rect x="574.66" y="585" width="7.6" height="7.6" fill="#fff" stroke="#000" stroke-width="1.9"/>
<rect x="602.24" y="585" width="7.6" height="7.6" fill="#fff" stroke="#000" stroke-width="1.9"/>
<rect x="629.82" y="585" width="7.6" height="7.6" fill="#fff" stroke="#000" stroke-width="1.9"/>
<rect x="657.4" y="574.28" width="7.6" height="7.6" fill="#fff" stroke="#000" stroke-width="1.9"/>
<rect x="684.98" y="549.16" width="7.6" height="7.6" fill="#fff" stroke="#000" stroke-width="1.9"/>
<rect x="712.56" y="521" width="7.6" height="7.6" fill="#fff" stroke="#000" stroke-width="1.9"/>
<rect x="740.14" y="524.2" width="7.6" height="7.6" fill="#fff" stroke="#000" stroke-width="1.9"/>
<line x1="661.2" y1="563.2" x2="661.2" y2="549.12" stroke="#000" stroke-width="1.9" stroke-linecap="butt"/>
<line x1="656.6" y1="549.12" x2="665.8" y2="549.12" stroke="#000" stroke-width="2.1" stroke-linecap="butt"/>
<line x1="688.78" y1="556" x2="688.78" y2="542.24" stroke="#000" stroke-width="1.9" stroke-linecap="butt"/>
<line x1="684.18" y1="542.24" x2="693.38" y2="542.24" stroke="#000" stroke-width="2.1" stroke-linecap="butt"/>
<line x1="716.36" y1="516.64" x2="716.36" y2="503.04" stroke="#000" stroke-width="1.9" stroke-linecap="butt"/>
<line x1="711.76" y1="503.04" x2="720.96" y2="503.04" stroke="#000" stroke-width="2.1" stroke-linecap="butt"/>
<line x1="743.94" y1="498.4" x2="743.94" y2="485.76" stroke="#000" stroke-width="1.9" stroke-linecap="butt"/>
<line x1="739.34" y1="485.76" x2="748.54" y2="485.76" stroke="#000" stroke-width="2.1" stroke-linecap="butt"/>
<polyline points="523.3,588.8 550.88,588.8 578.46,588.8 606.04,588.8 633.62,588.8 661.2,563.2 688.78,556 716.36,516.64 743.94,498.4" fill="none" stroke="#000" stroke-width="1.9" stroke-linejoin="round"/>
<rect x="518.7" y="584.2" width="9.2" height="9.2" fill="#000"/>
<rect x="546.28" y="584.2" width="9.2" height="9.2" fill="#000"/>
<rect x="573.86" y="584.2" width="9.2" height="9.2" fill="#000"/>
<rect x="601.44" y="584.2" width="9.2" height="9.2" fill="#000"/>
<rect x="629.02" y="584.2" width="9.2" height="9.2" fill="#000"/>
<rect x="656.6" y="558.6" width="9.2" height="9.2" fill="#000"/>
<rect x="684.18" y="551.4" width="9.2" height="9.2" fill="#000"/>
<rect x="711.76" y="512.04" width="9.2" height="9.2" fill="#000"/>
<rect x="739.34" y="493.8" width="9.2" height="9.2" fill="#000"/>
<line x1="661.2" y1="562.24" x2="661.2" y2="546.08" stroke="#000" stroke-width="1.9" stroke-linecap="butt"/>
<line x1="656.6" y1="546.08" x2="665.8" y2="546.08" stroke="#000" stroke-width="2.1" stroke-linecap="butt"/>
<line x1="688.78" y1="503.84" x2="688.78" y2="474.56" stroke="#000" stroke-width="1.9" stroke-linecap="butt"/>
<line x1="684.18" y1="474.56" x2="693.38" y2="474.56" stroke="#000" stroke-width="2.1" stroke-linecap="butt"/>
<line x1="716.36" y1="495.52" x2="716.36" y2="475.2" stroke="#000" stroke-width="1.9" stroke-linecap="butt"/>
<line x1="711.76" y1="475.2" x2="720.96" y2="475.2" stroke="#000" stroke-width="2.1" stroke-linecap="butt"/>
<line x1="743.94" y1="466.88" x2="743.94" y2="450.56" stroke="#000" stroke-width="1.9" stroke-linecap="butt"/>
<line x1="739.34" y1="450.56" x2="748.54" y2="450.56" stroke="#000" stroke-width="2.1" stroke-linecap="butt"/>
<polyline points="523.3,588.8 550.88,588.8 578.46,588.8 606.04,588.8 633.62,588.8 661.2,562.24 688.78,503.84 716.36,495.52 743.94,466.88" fill="none" stroke="#000" stroke-width="1.9" stroke-linejoin="round"/>
<circle cx="523.3" cy="588.8" r="4.4" fill="#fff" stroke="#000" stroke-width="1.9"/>
<circle cx="550.88" cy="588.8" r="4.4" fill="#fff" stroke="#000" stroke-width="1.9"/>
<circle cx="578.46" cy="588.8" r="4.4" fill="#fff" stroke="#000" stroke-width="1.9"/>
<circle cx="606.04" cy="588.8" r="4.4" fill="#fff" stroke="#000" stroke-width="1.9"/>
<circle cx="633.62" cy="588.8" r="4.4" fill="#fff" stroke="#000" stroke-width="1.9"/>
<circle cx="661.2" cy="562.24" r="4.4" fill="#fff" stroke="#000" stroke-width="1.9"/>
<circle cx="688.78" cy="503.84" r="4.4" fill="#fff" stroke="#000" stroke-width="1.9"/>
<circle cx="716.36" cy="495.52" r="4.4" fill="#fff" stroke="#000" stroke-width="1.9"/>
<circle cx="743.94" cy="466.88" r="4.4" fill="#fff" stroke="#000" stroke-width="1.9"/>
<polyline points="523.3,588.8 550.88,588.8 578.46,588.8 606.04,588.8 633.62,588.8 661.2,588.8 688.78,588.8 716.36,588.8 743.94,588.8" fill="none" stroke="#000" stroke-width="1.9" stroke-linejoin="round"/>
<circle cx="523.3" cy="588.8" r="4.6" fill="#000"/>
<circle cx="550.88" cy="588.8" r="4.6" fill="#000"/>
<circle cx="578.46" cy="588.8" r="4.6" fill="#000"/>
<circle cx="606.04" cy="588.8" r="4.6" fill="#000"/>
<circle cx="633.62" cy="588.8" r="4.6" fill="#000"/>
<circle cx="661.2" cy="588.8" r="4.6" fill="#000"/>
<circle cx="688.78" cy="588.8" r="4.6" fill="#000"/>
<circle cx="716.36" cy="588.8" r="4.6" fill="#000"/>
<circle cx="743.94" cy="588.8" r="4.6" fill="#000"/>
<line x1="513" y1="420.7" x2="559.7" y2="420.7" stroke="#000" stroke-width="1.7" stroke-linecap="butt"/>
<circle cx="536.4" cy="420.7" r="4.6" fill="#000"/>
<text transform="translate(585.82 429.6) scale(1 1)" font-family='"Liberation Sans", Arial, sans-serif' font-weight="bold" font-size="24.5" fill="#000" >Con.</text>
<line x1="513" y1="453.6" x2="559.7" y2="453.6" stroke="#000" stroke-width="1.7" stroke-linecap="butt"/>
<circle cx="536.4" cy="453.6" r="4.4" fill="#fff" stroke="#000" stroke-width="1.9"/>
<text transform="translate(585.19 462.2) scale(1.01 1)" font-family='"Liberation Sans", Arial, sans-serif' font-weight="bold" font-size="24.5" fill="#000" >IMQ</text>
<line x1="513" y1="484" x2="559.7" y2="484" stroke="#000" stroke-width="1.7" stroke-linecap="butt"/>
<rect x="531.8" y="479.4" width="9.2" height="9.2" fill="#000"/>
<text transform="translate(585.3 492.6) scale(0.94 1)" font-family='"Liberation Sans", Arial, sans-serif' font-weight="bold" font-size="24.5" fill="#000" >DHA-L</text>
<line x1="513" y1="516.7" x2="559.7" y2="516.7" stroke="#000" stroke-width="1.7" stroke-linecap="butt"/>
<rect x="532.6" y="512.9" width="7.6" height="7.6" fill="#fff" stroke="#000" stroke-width="1.9"/>
<text transform="translate(585.34 524.5) scale(0.91 1)" font-family='"Liberation Sans", Arial, sans-serif' font-weight="bold" font-size="24.5" fill="#000" >DHA-H</text>
<path d="M752.5 465.4 H756.6 V500.3 H752.5" fill="none" stroke="#333" stroke-width="1.1"/>
<text transform="translate(761.67 490.7) scale(1 1)" font-family='"Liberation Serif", "Times New Roman", serif' font-weight="normal" font-size="17.5" fill="#111" stroke="#111" stroke-width="0.5">NS</text>
<path d="M783 466.4 H787.8 V526.9 H783" fill="none" stroke="#333" stroke-width="1.2"/>
<text transform="translate(791.67 511.91) scale(0.96 1)" font-family='"Liberation Serif", "Times New Roman", serif' font-weight="normal" font-size="35.89" fill="#000">*</text>
<text transform="translate(919.51 87.4) scale(1.04 1)" font-family='"Liberation Sans", Arial, sans-serif' font-weight="bold" font-size="36" fill="#231815" >Con.</text>
<text transform="translate(935.19 247.2) scale(1.03 1)" font-family='"Liberation Sans", Arial, sans-serif' font-weight="bold" font-size="36" fill="#231815" >IMQ</text>
<text transform="translate(892.23 407) scale(1.01 1)" font-family='"Liberation Sans", Arial, sans-serif' font-weight="bold" font-size="36" fill="#231815" >DHA-L</text>
<text transform="translate(887.61 566.5) scale(1.02 1)" font-family='"Liberation Sans", Arial, sans-serif' font-weight="bold" font-size="36" fill="#231815" >DHA-H</text>
<text transform="translate(147.23 804.6) scale(1.02 1)" font-family='"Liberation Sans", Arial, sans-serif' font-weight="bold" font-size="36" fill="#231815" >Con.</text>
<text transform="translate(318.6 804.6) scale(1.03 1)" font-family='"Liberation Sans", Arial, sans-serif' font-weight="bold" font-size="36" fill="#231815" >IMQ</text>
<text transform="translate(478.81 804.6) scale(1.02 1)" font-family='"Liberation Sans", Arial, sans-serif' font-weight="bold" font-size="36" fill="#231815" >DHA-L</text>
<text transform="translate(642.81 804.6) scale(1.02 1)" font-family='"Liberation Sans", Arial, sans-serif' font-weight="bold" font-size="36" fill="#231815" >DHA-H</text>
<text transform="translate(147.23 1264.3) scale(1.02 1)" font-family='"Liberation Sans", Arial, sans-serif' font-weight="bold" font-size="36" fill="#231815" >Con.</text>
<text transform="translate(318.58 1264.3) scale(1.04 1)" font-family='"Liberation Sans", Arial, sans-serif' font-weight="bold" font-size="36" fill="#231815" >IMQ</text>
<text transform="translate(476.03 1264.3) scale(1.01 1)" font-family='"Liberation Sans", Arial, sans-serif' font-weight="bold" font-size="36" fill="#231815" >DHA-L</text>
<text transform="translate(644.82 1264.3) scale(1.02 1)" font-family='"Liberation Sans", Arial, sans-serif' font-weight="bold" font-size="36" fill="#231815" >DHA-H</text>
<text transform="translate(1.2 1377.4) scale(0.98 1)" font-family='"Liberation Sans", Arial, sans-serif' font-weight="bold" font-size="36" fill="#231815" >Ki67</text>
<defs>
<filter id="tx1" x="0" y="0" width="100%" height="100%" filterUnits="objectBoundingBox">
  <feTurbulence type="fractalNoise" baseFrequency="0.45" numOctaves="2" seed="2" result="hi"/>
  <feTurbulence type="fractalNoise" baseFrequency="0.04" numOctaves="2" seed="9" result="lo"/>
  <feColorMatrix in="hi" type="matrix" values="0 0 0 0 0  0 0 0 0 0  0 0 0 0 0  8 0 0 0 -3.7" result="hiA"/>
  <feColorMatrix in="lo" type="matrix" values="0 0 0 0 0  0 0 0 0 0  0 0 0 0 0  5 0 0 0 -2.2" result="loA"/>
  <feComposite in="hiA" in2="loA" operator="arithmetic" k1="1.0" k2="0.3" k3="0" k4="0" result="m"/>
  <feFlood flood-color="#c4bca6"/>
  <feComposite in2="m" operator="in"/>
</filter>
<filter id="tx2" x="0" y="0" width="100%" height="100%" filterUnits="objectBoundingBox">
  <feTurbulence type="fractalNoise" baseFrequency="0.55" numOctaves="2" seed="4" result="hi"/>
  <feTurbulence type="fractalNoise" baseFrequency="0.05" numOctaves="2" seed="13" result="lo"/>
  <feColorMatrix in="hi" type="matrix" values="0 0 0 0 0  0 0 0 0 0  0 0 0 0 0  8 0 0 0 -3.9" result="hiA"/>
  <feColorMatrix in="lo" type="matrix" values="0 0 0 0 0  0 0 0 0 0  0 0 0 0 0  4 0 0 0 -1.4" result="loA"/>
  <feComposite in="hiA" in2="loA" operator="arithmetic" k1="1.0" k2="0.2" k3="0" k4="0" result="m"/>
  <feFlood flood-color="#c0b8a6"/>
  <feComposite in2="m" operator="in"/>
</filter>
<filter id="grainD" x="0" y="0" width="100%" height="100%" filterUnits="objectBoundingBox">
  <feTurbulence type="fractalNoise" baseFrequency="0.7" numOctaves="1" seed="21" result="hi"/>
  <feColorMatrix in="hi" type="matrix" values="0 0 0 0 0  0 0 0 0 0  0 0 0 0 0  -6 0 0 0 3.2" result="m"/>
  <feFlood flood-color="#2a1c22"/>
  <feComposite in2="m" operator="in"/>
</filter>
<filter id="dots" x="0" y="0" width="100%" height="100%" filterUnits="objectBoundingBox">
  <feTurbulence type="fractalNoise" baseFrequency="0.45" numOctaves="1" seed="11" result="n"/>
  <feColorMatrix in="n" type="matrix" values="0 0 0 0 0.35  0 0 0 0 0.35  0 0 0 0 0.7  0 0 0 -14 8.0" result="m"/>
  <feComposite in="m" in2="SourceGraphic" operator="in"/>
</filter>
<filter id="dotsP" x="0" y="0" width="100%" height="100%" filterUnits="objectBoundingBox">
  <feTurbulence type="fractalNoise" baseFrequency="0.8" numOctaves="1" seed="31" result="n"/>
  <feColorMatrix in="n" type="matrix" values="0 0 0 0 0.45  0 0 0 0 0.3  0 0 0 0 0.65  14 0 0 0 -9.0" result="m"/>
  <feComposite in="m" in2="SourceGraphic" operator="in"/>
</filter>
<filter id="dotsB" x="0" y="0" width="100%" height="100%" filterUnits="objectBoundingBox">
  <feTurbulence type="fractalNoise" baseFrequency="0.8" numOctaves="1" seed="37" result="n"/>
  <feColorMatrix in="n" type="matrix" values="0 0 0 0 0.35  0 0 0 0 0.38  0 0 0 0 0.72  14 0 0 0 -9.2" result="m"/>
  <feComposite in="m" in2="SourceGraphic" operator="in"/>
</filter>
<filter id="brown" x="0" y="0" width="100%" height="100%" filterUnits="objectBoundingBox">
  <feTurbulence type="fractalNoise" baseFrequency="0.18" numOctaves="3" seed="5" result="n"/>
  <feColorMatrix in="n" type="matrix" values="0 0 0 0 0.82  0 0 0 0 0.64  0 0 0 0 0.36  5 0 0 0 -2.3" result="m"/>
  <feComposite in="m" in2="SourceGraphic" operator="in"/>
</filter>
<filter id="soft"><feGaussianBlur stdDeviation="0.6"/></filter>
<filter id="blur1"><feGaussianBlur stdDeviation="1.2"/></filter>
<filter id="blur2"><feGaussianBlur stdDeviation="2.5"/></filter>
<filter id="blur4"><feGaussianBlur stdDeviation="4"/></filter>
<linearGradient id="gmouse" x1="0" y1="0" x2="1" y2="0">
  <stop offset="0" stop-color="#a8a0a0"/><stop offset="0.45" stop-color="#8e8488"/><stop offset="1" stop-color="#5e5456"/>
</linearGradient>
<clipPath id="m1"><path d="M1041 8 C1034 11.17 1034.92 21 1033 27 C1031.08 33 1030.67 38.33 1029.5 44 C1028.33 49.67 1027.02 54.5 1026 61 C1024.98 67.5 1024.12 75.67 1023.4 83 C1022.68 90.33 1022.17 95.5 1021.7 105 C1021.23 114.5 1012.43 134.17 1020.6 140 C1028.77 145.83 1061.97 142 1070.7 140 C1079.43 138 1071.88 132.83 1073 128 C1074.12 123.17 1075.9 116.67 1077.4 111 C1078.9 105.33 1080.52 99.67 1082 94 C1083.48 88.33 1085.13 83 1086.3 77 C1087.47 71 1088.62 64.5 1089 58 C1089.38 51.5 1089.43 43.83 1088.6 38 C1087.77 32.17 1086.27 28 1084 23 C1081.73 18 1082.17 10.5 1075 8 C1067.83 5.5 1048 4.83 1041 8 Z"/><path d="M1091 8 C1081.53 11.17 1089.53 20 1089.7 27 C1089.87 34 1091.45 42.5 1092 50 C1092.55 57.5 1093 64.67 1093 72 C1093 79.33 1092.37 86.67 1092 94 C1091.63 101.33 1091 108.33 1090.8 116 C1090.6 123.67 1083.37 136 1090.8 140 C1098.23 144 1127.6 142 1135.4 140 C1143.2 138 1135.75 132 1137.6 128 C1139.45 124 1143.53 120.67 1146.5 116 C1149.47 111.33 1153.53 106.5 1155.4 100 C1157.27 93.5 1157.7 84.5 1157.7 77 C1157.7 69.5 1156.9 63.33 1155.4 55 C1153.9 46.67 1150.18 34.83 1148.7 27 C1147.22 19.17 1156.12 11.17 1146.5 8 C1136.88 4.83 1100.47 4.83 1091 8 Z"/><path d="M1165 8 C1157.07 15 1162.57 35.33 1161.4 50 C1160.23 64.67 1159.33 84.5 1158 96 C1156.67 107.5 1154.73 111.67 1153.4 119 C1152.07 126.33 1138.82 136.5 1150 140 C1161.18 143.5 1208.37 143.5 1220.5 140 C1232.63 136.5 1222.8 126.33 1222.8 119 C1222.8 111.67 1221.45 105.5 1220.5 96 C1219.55 86.5 1218.23 73.33 1217.1 62 C1215.97 50.67 1215.05 37 1213.7 28 C1212.35 19 1217.12 11.33 1209 8 C1200.88 4.67 1172.93 1 1165 8 Z"/><path d="M1228 8 C1218.4 16.67 1227.5 44.67 1227.4 60 C1227.3 75.33 1227.4 86.67 1227.4 100 C1227.4 113.33 1216.8 133.33 1227.4 140 C1238 146.67 1280.73 149.17 1291 140 C1301.27 130.83 1289.67 100 1289 85 C1288.33 70 1287.67 62.83 1287 50 C1286.33 37.17 1294.83 15 1285 8 C1275.17 1 1237.6 -0.67 1228 8 Z"/></clipPath><linearGradient id="g2" gradientUnits="userSpaceOnUse" x1="1020.6" y1="0" x2="1089" y2="0"><stop offset="0" stop-color="#fff" stop-opacity="0.22"/><stop offset="0.45" stop-color="#fff" stop-opacity="0.05"/><stop offset="0.85" stop-color="#000" stop-opacity="0.1"/><stop offset="1" stop-color="#000" stop-opacity="0.25"/></linearGradient><linearGradient id="g3" gradientUnits="userSpaceOnUse" x1="1089.7" y1="0" x2="1157.7" y2="0"><stop offset="0" stop-color="#fff" stop-opacity="0.22"/><stop offset="0.45" stop-color="#fff" stop-opacity="0.05"/><stop offset="0.85" stop-color="#000" stop-opacity="0.1"/><stop offset="1" stop-color="#000" stop-opacity="0.25"/></linearGradient><linearGradient id="g4" gradientUnits="userSpaceOnUse" x1="1150" y1="0" x2="1222.8" y2="0"><stop offset="0" stop-color="#fff" stop-opacity="0.22"/><stop offset="0.45" stop-color="#fff" stop-opacity="0.05"/><stop offset="0.85" stop-color="#000" stop-opacity="0.1"/><stop offset="1" stop-color="#000" stop-opacity="0.25"/></linearGradient><linearGradient id="g5" gradientUnits="userSpaceOnUse" x1="1227.4" y1="0" x2="1291" y2="0"><stop offset="0" stop-color="#fff" stop-opacity="0.22"/><stop offset="0.45" stop-color="#fff" stop-opacity="0.05"/><stop offset="0.85" stop-color="#000" stop-opacity="0.1"/><stop offset="1" stop-color="#000" stop-opacity="0.25"/></linearGradient><clipPath id="c6"><rect x="1018.6" y="8.6" width="275.2" height="129.1"/></clipPath><clipPath id="m7"><path d="M1025 168 C1019.45 174.6 1022.25 193.6 1021.7 207.6 C1021.15 221.6 1021.33 236.93 1021.7 252 C1022.07 267.07 1017.58 290.33 1023.9 298 C1030.22 305.67 1052.72 301.92 1059.6 298 C1066.48 294.08 1062.97 282.17 1065.2 274.5 C1067.43 266.83 1070.97 259.42 1073 252 C1075.03 244.58 1076.85 238.33 1077.4 230 C1077.95 221.67 1077.78 210.38 1076.3 202 C1074.82 193.62 1072.05 185.37 1068.5 179.7 C1064.95 174.03 1062.25 169.95 1055 168 C1047.75 166.05 1030.55 161.4 1025 168 Z"/><path d="M1092 168 C1083.63 174.6 1090.82 193.6 1090.8 207.6 C1090.78 221.6 1091.15 240.85 1091.9 252 C1092.65 263.15 1093.62 266.83 1095.3 274.5 C1096.98 282.17 1094.58 294.08 1102 298 C1109.42 301.92 1131.45 302.83 1139.8 298 C1148.15 293.17 1149.5 277.57 1152.1 269 C1154.7 260.43 1155.4 254.98 1155.4 246.6 C1155.4 238.22 1153.77 227.97 1152.1 218.7 C1150.43 209.43 1147.25 199.45 1145.4 191 C1143.55 182.55 1149.9 171.83 1141 168 C1132.1 164.17 1100.37 161.4 1092 168 Z"/><path d="M1154 168 C1143.23 174.83 1154.12 194.5 1154.6 209 C1155.08 223.5 1156.52 240.17 1156.9 255 C1157.28 269.83 1145.55 290.83 1156.9 298 C1168.25 305.17 1214.23 305.17 1225 298 C1235.77 290.83 1222.08 269.83 1221.5 255 C1220.92 240.17 1221.88 223.5 1221.5 209 C1221.12 194.5 1230.45 174.83 1219.2 168 C1207.95 161.17 1164.77 161.17 1154 168 Z"/><path d="M1242.2 168 C1233.93 174.83 1238.75 194.5 1237.6 209 C1236.45 223.5 1234.9 240.17 1235.3 255 C1235.7 269.83 1231.15 290.83 1240 298 C1248.85 305.17 1279.57 305.17 1288.4 298 C1297.23 290.83 1292.23 269.83 1293 255 C1293.77 240.17 1293.97 223.5 1293 209 C1292.03 194.5 1295.67 174.83 1287.2 168 C1278.73 161.17 1250.47 161.17 1242.2 168 Z"/></clipPath><linearGradient id="g8" gradientUnits="userSpaceOnUse" x1="1021.7" y1="0" x2="1077.4" y2="0"><stop offset="0" stop-color="#fff" stop-opacity="0.22"/><stop offset="0.45" stop-color="#fff" stop-opacity="0.05"/><stop offset="0.85" stop-color="#000" stop-opacity="0.1"/><stop offset="1" stop-color="#000" stop-opacity="0.25"/></linearGradient><linearGradient id="g9" gradientUnits="userSpaceOnUse" x1="1090.8" y1="0" x2="1155.4" y2="0"><stop offset="0" stop-color="#fff" stop-opacity="0.22"/><stop offset="0.45" stop-color="#fff" stop-opacity="0.05"/><stop offset="0.85" stop-color="#000" stop-opacity="0.1"/><stop offset="1" stop-color="#000" stop-opacity="0.25"/></linearGradient><linearGradient id="g10" gradientUnits="userSpaceOnUse" x1="1154" y1="0" x2="1225" y2="0"><stop offset="0" stop-color="#fff" stop-opacity="0.22"/><stop offset="0.45" stop-color="#fff" stop-opacity="0.05"/><stop offset="0.85" stop-color="#000" stop-opacity="0.1"/><stop offset="1" stop-color="#000" stop-opacity="0.25"/></linearGradient><linearGradient id="g11" gradientUnits="userSpaceOnUse" x1="1235.3" y1="0" x2="1293" y2="0"><stop offset="0" stop-color="#fff" stop-opacity="0.22"/><stop offset="0.45" stop-color="#fff" stop-opacity="0.05"/><stop offset="0.85" stop-color="#000" stop-opacity="0.1"/><stop offset="1" stop-color="#000" stop-opacity="0.25"/></linearGradient><clipPath id="c12"><rect x="1019.9" y="168.1" width="276.1" height="129.2"/></clipPath><clipPath id="m13"><path d="M1036.2 327 C1030.25 333.6 1031.9 352.6 1030.6 366.6 C1029.3 380.6 1028.58 395.93 1028.4 411 C1028.22 426.07 1020.77 449.33 1029.5 457 C1038.23 464.67 1072.45 462.83 1080.8 457 C1089.15 451.17 1080.17 433.33 1079.6 422 C1079.03 410.67 1078.5 400.1 1077.4 389 C1076.3 377.9 1074.85 365.73 1073 355.4 C1071.15 345.07 1072.43 331.73 1066.3 327 C1060.17 322.27 1042.15 320.4 1036.2 327 Z"/><path d="M1106.4 327 C1099.53 333.6 1108.23 352.6 1107.5 366.6 C1106.77 380.6 1103.67 399.85 1102 411 C1100.33 422.15 1097.88 425.83 1097.5 433.5 C1097.12 441.17 1089.85 453.08 1099.7 457 C1109.55 460.92 1146.93 464.67 1156.6 457 C1166.27 449.33 1158.63 426.07 1157.7 411 C1156.77 395.93 1152.5 380.6 1151 366.6 C1149.5 352.6 1156.13 333.6 1148.7 327 C1141.27 320.4 1113.27 320.4 1106.4 327 Z"/><path d="M1173 327 C1166.85 335.77 1169.35 363.13 1168.4 379.6 C1167.45 396.07 1167.1 412.9 1167.3 425.8 C1167.5 438.7 1160.18 451.8 1169.6 457 C1179.02 462.2 1215.15 466.05 1223.8 457 C1232.45 447.95 1222.65 419.43 1221.5 402.7 C1220.35 385.97 1219.6 369.22 1216.9 356.6 C1214.2 343.98 1212.62 331.93 1205.3 327 C1197.98 322.07 1179.15 318.23 1173 327 Z"/><path d="M1232 345 C1224.52 355.7 1229.82 375.82 1229.6 391.2 C1229.38 406.58 1230.13 426.33 1230.7 437.3 C1231.27 448.27 1222.82 453.72 1233 457 C1243.18 460.28 1281.8 466.05 1291.8 457 C1301.8 447.95 1294.35 419.43 1293 402.7 C1291.65 385.97 1286.78 369.22 1283.7 356.6 C1280.62 343.98 1283.12 328.93 1274.5 327 C1265.88 325.07 1239.48 334.3 1232 345 Z"/></clipPath><linearGradient id="g14" gradientUnits="userSpaceOnUse" x1="1028.4" y1="0" x2="1080.8" y2="0"><stop offset="0" stop-color="#fff" stop-opacity="0.22"/><stop offset="0.45" stop-color="#fff" stop-opacity="0.05"/><stop offset="0.85" stop-color="#000" stop-opacity="0.1"/><stop offset="1" stop-color="#000" stop-opacity="0.25"/></linearGradient><linearGradient id="g15" gradientUnits="userSpaceOnUse" x1="1097.5" y1="0" x2="1157.7" y2="0"><stop offset="0" stop-color="#fff" stop-opacity="0.22"/><stop offset="0.45" stop-color="#fff" stop-opacity="0.05"/><stop offset="0.85" stop-color="#000" stop-opacity="0.1"/><stop offset="1" stop-color="#000" stop-opacity="0.25"/></linearGradient><linearGradient id="g16" gradientUnits="userSpaceOnUse" x1="1167.3" y1="0" x2="1223.8" y2="0"><stop offset="0" stop-color="#fff" stop-opacity="0.22"/><stop offset="0.45" stop-color="#fff" stop-opacity="0.05"/><stop offset="0.85" stop-color="#000" stop-opacity="0.1"/><stop offset="1" stop-color="#000" stop-opacity="0.25"/></linearGradient><linearGradient id="g17" gradientUnits="userSpaceOnUse" x1="1229.6" y1="0" x2="1293" y2="0"><stop offset="0" stop-color="#fff" stop-opacity="0.22"/><stop offset="0.45" stop-color="#fff" stop-opacity="0.05"/><stop offset="0.85" stop-color="#000" stop-opacity="0.1"/><stop offset="1" stop-color="#000" stop-opacity="0.25"/></linearGradient><clipPath id="c18"><rect x="1018.9" y="327.3" width="277.3" height="129.8"/></clipPath><clipPath id="m19"><path d="M1037.3 486 C1028.93 492.43 1033.18 510.77 1031.7 524.6 C1030.22 538.43 1028.95 553.77 1028.4 569 C1027.85 584.23 1021.35 608.17 1028.4 616 C1035.45 623.83 1062.9 618.23 1070.7 616 C1078.5 613.77 1072.6 608.55 1075.2 602.6 C1077.8 596.65 1084.07 589.57 1086.3 580.3 C1088.53 571.03 1088.6 558.15 1088.6 547 C1088.6 535.85 1087.42 523.57 1086.3 513.4 C1085.18 503.23 1090.07 490.57 1081.9 486 C1073.73 481.43 1045.67 479.57 1037.3 486 Z"/><path d="M1088.6 486 C1083.38 492.43 1087.03 510.77 1087.4 524.6 C1087.77 538.43 1090.8 553.77 1090.8 569 C1090.8 584.23 1077 608.17 1087.4 616 C1097.8 623.83 1142.23 620.08 1153.2 616 C1164.17 611.92 1154.5 601.17 1153.2 591.5 C1151.9 581.83 1148 570.08 1145.4 558 C1142.8 545.92 1142.05 531 1137.6 519 C1133.15 507 1126.87 491.5 1118.7 486 C1110.53 480.5 1093.82 479.57 1088.6 486 Z"/><path d="M1152.3 486 C1145 496.53 1151.53 532.9 1152.3 549.2 C1153.07 565.5 1154.78 572.67 1156.9 583.8 C1159.02 594.93 1156.15 610.63 1165 616 C1173.85 621.37 1200.97 620.42 1210 616 C1219.03 611.58 1216.9 598.72 1219.2 589.5 C1221.5 580.28 1223.8 570.28 1223.8 560.7 C1223.8 551.12 1221.5 540.65 1219.2 532 C1216.9 523.35 1213.85 516.47 1210 508.8 C1206.15 501.13 1205.72 489.8 1196.1 486 C1186.48 482.2 1159.6 475.47 1152.3 486 Z"/><path d="M1233 491.5 C1227.23 500.1 1230.5 522.22 1230.7 537.6 C1230.9 552.98 1233.43 570.73 1234.2 583.8 C1234.97 596.87 1225.5 610.63 1235.3 616 C1245.1 621.37 1283.38 621.37 1293 616 C1302.62 610.63 1294.17 594.93 1293 583.8 C1291.83 572.67 1288.32 560.73 1286 549.2 C1283.68 537.67 1282.55 525.13 1279.1 514.6 C1275.65 504.07 1272.98 489.85 1265.3 486 C1257.62 482.15 1238.77 482.9 1233 491.5 Z"/></clipPath><linearGradient id="g20" gradientUnits="userSpaceOnUse" x1="1028.4" y1="0" x2="1088.6" y2="0"><stop offset="0" stop-color="#fff" stop-opacity="0.22"/><stop offset="0.45" stop-color="#fff" stop-opacity="0.05"/><stop offset="0.85" stop-color="#000" stop-opacity="0.1"/><stop offset="1" stop-color="#000" stop-opacity="0.25"/></linearGradient><linearGradient id="g21" gradientUnits="userSpaceOnUse" x1="1087.4" y1="0" x2="1153.2" y2="0"><stop offset="0" stop-color="#fff" stop-opacity="0.22"/><stop offset="0.45" stop-color="#fff" stop-opacity="0.05"/><stop offset="0.85" stop-color="#000" stop-opacity="0.1"/><stop offset="1" stop-color="#000" stop-opacity="0.25"/></linearGradient><linearGradient id="g22" gradientUnits="userSpaceOnUse" x1="1152.3" y1="0" x2="1223.8" y2="0"><stop offset="0" stop-color="#fff" stop-opacity="0.22"/><stop offset="0.45" stop-color="#fff" stop-opacity="0.05"/><stop offset="0.85" stop-color="#000" stop-opacity="0.1"/><stop offset="1" stop-color="#000" stop-opacity="0.25"/></linearGradient><linearGradient id="g23" gradientUnits="userSpaceOnUse" x1="1230.7" y1="0" x2="1293" y2="0"><stop offset="0" stop-color="#fff" stop-opacity="0.22"/><stop offset="0.45" stop-color="#fff" stop-opacity="0.05"/><stop offset="0.85" stop-color="#000" stop-opacity="0.1"/><stop offset="1" stop-color="#000" stop-opacity="0.25"/></linearGradient><clipPath id="c24"><rect x="1020.6" y="486.4" width="275.5" height="129.8"/></clipPath><clipPath id="c25"><rect x="96.4" y="813.2" width="167.6" height="173.3"/></clipPath><clipPath id="c26"><rect x="271.8" y="813.5" width="167.3" height="173.1"/></clipPath><clipPath id="c27"><rect x="447.4" y="814.8" width="167.4" height="173"/></clipPath><clipPath id="c28"><rect x="622.8" y="814.8" width="167" height="173.5"/></clipPath><clipPath id="c29"><rect x="95.8" y="1002.1" width="167" height="173.1"/></clipPath><clipPath id="c30"><rect x="271.7" y="1001.7" width="167.6" height="173.1"/></clipPath><clipPath id="c31"><rect x="447.4" y="1001.9" width="166.9" height="171.5"/></clipPath><clipPath id="c32"><rect x="622.6" y="1001.9" width="167.4" height="171.5"/></clipPath><clipPath id="c33"><rect x="95.8" y="1275.5" width="167.2" height="173.1"/></clipPath><clipPath id="c34"><rect x="271.8" y="1275.5" width="167.2" height="173.1"/></clipPath><clipPath id="c35"><rect x="446.8" y="1275.5" width="167.2" height="173.1"/></clipPath><clipPath id="c36"><rect x="621.6" y="1275.5" width="167.9" height="173.1"/></clipPath></defs>
<g clip-path="url(#c6)"><rect x="1017.2" y="7.2" width="278" height="131.9" fill="#fff"/><g filter="url(#soft)"><rect x="1017.2" y="7.2" width="278.0" height="131.9" fill="#dedcd6"/><path d="M1214 35 C1215.17 22.17 1224.83 22.5 1227 35 C1229.17 47.5 1228.17 97.17 1227 110 C1225.83 122.83 1222.17 124.5 1220 112 C1217.83 99.5 1212.83 47.83 1214 35 Z" fill="#8a8a8a" filter="url(#blur2)"/><path d="M1087 30 C1087.83 20.83 1092 20.83 1093 30 C1094 39.17 1093.83 75.83 1093 85 C1092.17 94.17 1089 94.17 1088 85 C1087 75.83 1086.17 39.17 1087 30 Z" fill="#5a5a58" filter="url(#blur2)"/><path d="M1148 20 C1149 13.83 1156 16.67 1158 25 C1160 33.33 1161 63.83 1160 70 C1159 76.17 1154 70.33 1152 62 C1150 53.67 1147 26.17 1148 20 Z" fill="#6a6a66" filter="url(#blur2)"/><path d="M1286 55 C1287 48.33 1292.67 48.33 1294 55 C1295.33 61.67 1295 88.33 1294 95 C1293 101.67 1289.33 101.67 1288 95 C1286.67 88.33 1285 61.67 1286 55 Z" fill="#a0a0a0" filter="url(#blur2)"/><path d="M1020 8 C1023.67 -0.67 1039.33 2.67 1041 8 C1042.67 13.33 1033.17 31.33 1030 40 C1026.83 48.67 1023.83 56.67 1022 60 C1020.17 63.33 1019.33 68.67 1019 60 C1018.67 51.33 1016.33 16.67 1020 8 Z" fill="#f3f3ee" filter="url(#blur1)"/><path d="M1075 8 C1076.33 5.67 1089.5 5.17 1092 8 C1094.5 10.83 1091.33 22.67 1090 25 C1088.67 27.33 1086.5 24.83 1084 22 C1081.5 19.17 1073.67 10.33 1075 8 Z" fill="#f3f3ee" filter="url(#blur1)"/><path d="M1135 8 C1137.5 4.67 1160.5 4.33 1165 8 C1169.5 11.67 1164.5 26.67 1162 30 C1159.5 33.33 1154.5 31.67 1150 28 C1145.5 24.33 1132.5 11.33 1135 8 Z" fill="#f3f3ee" filter="url(#blur1)"/><path d="M1207 8 C1209.17 3.83 1224.5 4 1228 8 C1231.5 12 1230.17 27.83 1228 32 C1225.83 36.17 1218.5 37 1215 33 C1211.5 29 1204.83 12.17 1207 8 Z" fill="#f3f3ee" filter="url(#blur1)"/><path d="M1072 112 C1075.67 105.33 1086.67 95.33 1090 100 C1093.33 104.67 1095.67 133.33 1092 140 C1088.33 146.67 1071.33 144.67 1068 140 C1064.67 135.33 1068.33 118.67 1072 112 Z" fill="#f3f3ee" filter="url(#blur1)"/><path d="M1137 125 C1139.67 120.33 1147.5 109.5 1150 112 C1152.5 114.5 1154.67 135.33 1152 140 C1149.33 144.67 1136.5 142.5 1134 140 C1131.5 137.5 1134.33 129.67 1137 125 Z" fill="#f3f3ee" filter="url(#blur1)"/><path d="M1218 118 C1219.67 113 1226.33 106.33 1228 110 C1229.67 113.67 1229.67 135 1228 140 C1226.33 145 1219.67 143.67 1218 140 C1216.33 136.33 1216.33 123 1218 118 Z" fill="#f3f3ee" filter="url(#blur1)"/><path d="M1041 8 C1034 11.17 1034.92 21 1033 27 C1031.08 33 1030.67 38.33 1029.5 44 C1028.33 49.67 1027.02 54.5 1026 61 C1024.98 67.5 1024.12 75.67 1023.4 83 C1022.68 90.33 1022.17 95.5 1021.7 105 C1021.23 114.5 1012.43 134.17 1020.6 140 C1028.77 145.83 1061.97 142 1070.7 140 C1079.43 138 1071.88 132.83 1073 128 C1074.12 123.17 1075.9 116.67 1077.4 111 C1078.9 105.33 1080.52 99.67 1082 94 C1083.48 88.33 1085.13 83 1086.3 77 C1087.47 71 1088.62 64.5 1089 58 C1089.38 51.5 1089.43 43.83 1088.6 38 C1087.77 32.17 1086.27 28 1084 23 C1081.73 18 1082.17 10.5 1075 8 C1067.83 5.5 1048 4.83 1041 8 Z" fill="#857a82"/><path d="M1041 8 C1034 11.17 1034.92 21 1033 27 C1031.08 33 1030.67 38.33 1029.5 44 C1028.33 49.67 1027.02 54.5 1026 61 C1024.98 67.5 1024.12 75.67 1023.4 83 C1022.68 90.33 1022.17 95.5 1021.7 105 C1021.23 114.5 1012.43 134.17 1020.6 140 C1028.77 145.83 1061.97 142 1070.7 140 C1079.43 138 1071.88 132.83 1073 128 C1074.12 123.17 1075.9 116.67 1077.4 111 C1078.9 105.33 1080.52 99.67 1082 94 C1083.48 88.33 1085.13 83 1086.3 77 C1087.47 71 1088.62 64.5 1089 58 C1089.38 51.5 1089.43 43.83 1088.6 38 C1087.77 32.17 1086.27 28 1084 23 C1081.73 18 1082.17 10.5 1075 8 C1067.83 5.5 1048 4.83 1041 8 Z" fill="url(#g2)"/><path d="M1091 8 C1081.53 11.17 1089.53 20 1089.7 27 C1089.87 34 1091.45 42.5 1092 50 C1092.55 57.5 1093 64.67 1093 72 C1093 79.33 1092.37 86.67 1092 94 C1091.63 101.33 1091 108.33 1090.8 116 C1090.6 123.67 1083.37 136 1090.8 140 C1098.23 144 1127.6 142 1135.4 140 C1143.2 138 1135.75 132 1137.6 128 C1139.45 124 1143.53 120.67 1146.5 116 C1149.47 111.33 1153.53 106.5 1155.4 100 C1157.27 93.5 1157.7 84.5 1157.7 77 C1157.7 69.5 1156.9 63.33 1155.4 55 C1153.9 46.67 1150.18 34.83 1148.7 27 C1147.22 19.17 1156.12 11.17 1146.5 8 C1136.88 4.83 1100.47 4.83 1091 8 Z" fill="#877d84"/><path d="M1091 8 C1081.53 11.17 1089.53 20 1089.7 27 C1089.87 34 1091.45 42.5 1092 50 C1092.55 57.5 1093 64.67 1093 72 C1093 79.33 1092.37 86.67 1092 94 C1091.63 101.33 1091 108.33 1090.8 116 C1090.6 123.67 1083.37 136 1090.8 140 C1098.23 144 1127.6 142 1135.4 140 C1143.2 138 1135.75 132 1137.6 128 C1139.45 124 1143.53 120.67 1146.5 116 C1149.47 111.33 1153.53 106.5 1155.4 100 C1157.27 93.5 1157.7 84.5 1157.7 77 C1157.7 69.5 1156.9 63.33 1155.4 55 C1153.9 46.67 1150.18 34.83 1148.7 27 C1147.22 19.17 1156.12 11.17 1146.5 8 C1136.88 4.83 1100.47 4.83 1091 8 Z" fill="url(#g3)"/><path d="M1165 8 C1157.07 15 1162.57 35.33 1161.4 50 C1160.23 64.67 1159.33 84.5 1158 96 C1156.67 107.5 1154.73 111.67 1153.4 119 C1152.07 126.33 1138.82 136.5 1150 140 C1161.18 143.5 1208.37 143.5 1220.5 140 C1232.63 136.5 1222.8 126.33 1222.8 119 C1222.8 111.67 1221.45 105.5 1220.5 96 C1219.55 86.5 1218.23 73.33 1217.1 62 C1215.97 50.67 1215.05 37 1213.7 28 C1212.35 19 1217.12 11.33 1209 8 C1200.88 4.67 1172.93 1 1165 8 Z" fill="#7b7175"/><path d="M1165 8 C1157.07 15 1162.57 35.33 1161.4 50 C1160.23 64.67 1159.33 84.5 1158 96 C1156.67 107.5 1154.73 111.67 1153.4 119 C1152.07 126.33 1138.82 136.5 1150 140 C1161.18 143.5 1208.37 143.5 1220.5 140 C1232.63 136.5 1222.8 126.33 1222.8 119 C1222.8 111.67 1221.45 105.5 1220.5 96 C1219.55 86.5 1218.23 73.33 1217.1 62 C1215.97 50.67 1215.05 37 1213.7 28 C1212.35 19 1217.12 11.33 1209 8 C1200.88 4.67 1172.93 1 1165 8 Z" fill="url(#g4)"/><path d="M1228 8 C1218.4 16.67 1227.5 44.67 1227.4 60 C1227.3 75.33 1227.4 86.67 1227.4 100 C1227.4 113.33 1216.8 133.33 1227.4 140 C1238 146.67 1280.73 149.17 1291 140 C1301.27 130.83 1289.67 100 1289 85 C1288.33 70 1287.67 62.83 1287 50 C1286.33 37.17 1294.83 15 1285 8 C1275.17 1 1237.6 -0.67 1228 8 Z" fill="#81777a"/><path d="M1228 8 C1218.4 16.67 1227.5 44.67 1227.4 60 C1227.3 75.33 1227.4 86.67 1227.4 100 C1227.4 113.33 1216.8 133.33 1227.4 140 C1238 146.67 1280.73 149.17 1291 140 C1301.27 130.83 1289.67 100 1289 85 C1288.33 70 1287.67 62.83 1287 50 C1286.33 37.17 1294.83 15 1285 8 C1275.17 1 1237.6 -0.67 1228 8 Z" fill="url(#g5)"/><g clip-path="url(#m1)"><rect x="1017.2" y="7.2" width="278.0" height="131.9" fill="#fff" filter="url(#tx2)" opacity="0.12"/></g><path d="M1222 8 C1225.83 2.67 1241.33 5.17 1245 8 C1248.67 10.83 1245.17 18.83 1244 25 C1242.83 31.17 1240.33 40.83 1238 45 C1235.67 49.17 1232.67 50.83 1230 50 C1227.33 49.17 1223.33 47 1222 40 C1220.67 33 1218.17 13.33 1222 8 Z" fill="#eeeee8" filter="url(#blur1)"/><path d="M1263 8 C1268 4.33 1290.5 1 1296 8 C1301.5 15 1297.83 42.67 1296 50 C1294.17 57.33 1288.5 52.83 1285 52 C1281.5 51.17 1278.17 48.67 1275 45 C1271.83 41.33 1268 36.17 1266 30 C1264 23.83 1258 11.67 1263 8 Z" fill="#eeeee8" filter="url(#blur1)"/></g></g><rect x="1018.6" y="8.6" width="275.2" height="129.1" fill="none" stroke="#231815" stroke-width="2.8"/>
<g clip-path="url(#c12)"><rect x="1018.5" y="166.7" width="278.9" height="132" fill="#fff"/><g filter="url(#soft)"><rect x="1018.5" y="166.7" width="278.9000000000001" height="132.0" fill="#d0d0c8"/><path d="M1076 195 C1078.17 185.83 1088.5 185.83 1091 195 C1093.5 204.17 1093.17 240.83 1091 250 C1088.83 259.17 1080.5 259.17 1078 250 C1075.5 240.83 1073.83 204.17 1076 195 Z" fill="#8c9088" filter="url(#blur2)"/><path d="M1055 168 C1058.67 166 1087.83 163.5 1092 168 C1096.17 172.5 1083.67 193 1080 195 C1076.33 197 1074.17 184.5 1070 180 C1065.83 175.5 1051.33 170 1055 168 Z" fill="#f3f3ee" filter="url(#blur1)"/><path d="M1065 260 C1069.5 252 1080 248.33 1085 250 C1090 251.67 1092.5 262 1095 270 C1097.5 278 1106.17 293.33 1100 298 C1093.83 302.67 1063.83 304.33 1058 298 C1052.17 291.67 1060.5 268 1065 260 Z" fill="#f3f3ee" filter="url(#blur1)"/><path d="M1141 168 C1142.67 160.17 1157.17 161 1160 168 C1162.83 175 1159.67 202.17 1158 210 C1156.33 217.83 1152.83 222 1150 215 C1147.17 208 1139.33 175.83 1141 168 Z" fill="#f3f3ee" filter="url(#blur1)"/><path d="M1219 168 C1222.67 156 1240.83 157.67 1244 168 C1247.17 178.33 1239.33 208.33 1238 230 C1236.67 251.67 1238.33 286.67 1236 298 C1233.67 309.33 1226.33 307.67 1224 298 C1221.67 288.33 1222.83 261.67 1222 240 C1221.17 218.33 1215.33 180 1219 168 Z" fill="#f3f3ee" filter="url(#blur1)"/><path d="M1288 168 C1289.17 146.33 1294.67 146.33 1296 168 C1297.33 189.67 1297.17 276.33 1296 298 C1294.83 319.67 1290.33 319.67 1289 298 C1287.67 276.33 1286.83 189.67 1288 168 Z" fill="#f3f3ee" filter="url(#blur1)"/><path d="M1140 270 C1143.33 263.67 1152 255.33 1155 260 C1158 264.67 1161.33 291.67 1158 298 C1154.67 304.33 1138 302.67 1135 298 C1132 293.33 1136.67 276.33 1140 270 Z" fill="#f3f3ee" filter="url(#blur1)"/><path d="M1025 168 C1019.45 174.6 1022.25 193.6 1021.7 207.6 C1021.15 221.6 1021.33 236.93 1021.7 252 C1022.07 267.07 1017.58 290.33 1023.9 298 C1030.22 305.67 1052.72 301.92 1059.6 298 C1066.48 294.08 1062.97 282.17 1065.2 274.5 C1067.43 266.83 1070.97 259.42 1073 252 C1075.03 244.58 1076.85 238.33 1077.4 230 C1077.95 221.67 1077.78 210.38 1076.3 202 C1074.82 193.62 1072.05 185.37 1068.5 179.7 C1064.95 174.03 1062.25 169.95 1055 168 C1047.75 166.05 1030.55 161.4 1025 168 Z" fill="#725660"/><path d="M1025 168 C1019.45 174.6 1022.25 193.6 1021.7 207.6 C1021.15 221.6 1021.33 236.93 1021.7 252 C1022.07 267.07 1017.58 290.33 1023.9 298 C1030.22 305.67 1052.72 301.92 1059.6 298 C1066.48 294.08 1062.97 282.17 1065.2 274.5 C1067.43 266.83 1070.97 259.42 1073 252 C1075.03 244.58 1076.85 238.33 1077.4 230 C1077.95 221.67 1077.78 210.38 1076.3 202 C1074.82 193.62 1072.05 185.37 1068.5 179.7 C1064.95 174.03 1062.25 169.95 1055 168 C1047.75 166.05 1030.55 161.4 1025 168 Z" fill="url(#g8)"/><path d="M1020 200 C1023.33 184.17 1036.33 190 1040 195 C1043.67 200 1042.67 214.17 1042 230 C1041.33 245.83 1039.67 280 1036 290 C1032.33 300 1022.67 305 1020 290 C1017.33 275 1016.67 215.83 1020 200 Z" fill="#b4ad98" opacity="0.45" filter="url(#blur2)" clip-path="url(#m7)"/><path d="M1092 168 C1083.63 174.6 1090.82 193.6 1090.8 207.6 C1090.78 221.6 1091.15 240.85 1091.9 252 C1092.65 263.15 1093.62 266.83 1095.3 274.5 C1096.98 282.17 1094.58 294.08 1102 298 C1109.42 301.92 1131.45 302.83 1139.8 298 C1148.15 293.17 1149.5 277.57 1152.1 269 C1154.7 260.43 1155.4 254.98 1155.4 246.6 C1155.4 238.22 1153.77 227.97 1152.1 218.7 C1150.43 209.43 1147.25 199.45 1145.4 191 C1143.55 182.55 1149.9 171.83 1141 168 C1132.1 164.17 1100.37 161.4 1092 168 Z" fill="#7a6268"/><path d="M1092 168 C1083.63 174.6 1090.82 193.6 1090.8 207.6 C1090.78 221.6 1091.15 240.85 1091.9 252 C1092.65 263.15 1093.62 266.83 1095.3 274.5 C1096.98 282.17 1094.58 294.08 1102 298 C1109.42 301.92 1131.45 302.83 1139.8 298 C1148.15 293.17 1149.5 277.57 1152.1 269 C1154.7 260.43 1155.4 254.98 1155.4 246.6 C1155.4 238.22 1153.77 227.97 1152.1 218.7 C1150.43 209.43 1147.25 199.45 1145.4 191 C1143.55 182.55 1149.9 171.83 1141 168 C1132.1 164.17 1100.37 161.4 1092 168 Z" fill="url(#g9)"/><path d="M1092 195 C1094.5 183 1110.67 180 1115 190 C1119.33 200 1120.5 243 1118 255 C1115.5 267 1104.33 272 1100 262 C1095.67 252 1089.5 207 1092 195 Z" fill="#b4ad98" opacity="0.4" filter="url(#blur2)" clip-path="url(#m7)"/><path d="M1098 172 C1100 169.83 1110 169.83 1112 172 C1114 174.17 1112 182.83 1110 185 C1108 187.17 1102 187.17 1100 185 C1098 182.83 1096 174.17 1098 172 Z" fill="#b4ad98" opacity="0.8" filter="url(#blur2)" clip-path="url(#m7)"/><path d="M1154 168 C1143.23 174.83 1154.12 194.5 1154.6 209 C1155.08 223.5 1156.52 240.17 1156.9 255 C1157.28 269.83 1145.55 290.83 1156.9 298 C1168.25 305.17 1214.23 305.17 1225 298 C1235.77 290.83 1222.08 269.83 1221.5 255 C1220.92 240.17 1221.88 223.5 1221.5 209 C1221.12 194.5 1230.45 174.83 1219.2 168 C1207.95 161.17 1164.77 161.17 1154 168 Z" fill="#7a6468"/><path d="M1154 168 C1143.23 174.83 1154.12 194.5 1154.6 209 C1155.08 223.5 1156.52 240.17 1156.9 255 C1157.28 269.83 1145.55 290.83 1156.9 298 C1168.25 305.17 1214.23 305.17 1225 298 C1235.77 290.83 1222.08 269.83 1221.5 255 C1220.92 240.17 1221.88 223.5 1221.5 209 C1221.12 194.5 1230.45 174.83 1219.2 168 C1207.95 161.17 1164.77 161.17 1154 168 Z" fill="url(#g10)"/><path d="M1160 245 C1165.83 235.33 1191.33 233.33 1200 240 C1208.67 246.67 1217.83 275.33 1212 285 C1206.17 294.67 1173.67 304.67 1165 298 C1156.33 291.33 1154.17 254.67 1160 245 Z" fill="#b4ad98" opacity="0.45" filter="url(#blur2)" clip-path="url(#m7)"/><path d="M1190 172 C1192.83 164.83 1210.83 164.83 1215 172 C1219.17 179.17 1217.83 207.83 1215 215 C1212.17 222.17 1202.17 222.17 1198 215 C1193.83 207.83 1187.17 179.17 1190 172 Z" fill="#b4ad98" opacity="0.5" filter="url(#blur2)" clip-path="url(#m7)"/><path d="M1242.2 168 C1233.93 174.83 1238.75 194.5 1237.6 209 C1236.45 223.5 1234.9 240.17 1235.3 255 C1235.7 269.83 1231.15 290.83 1240 298 C1248.85 305.17 1279.57 305.17 1288.4 298 C1297.23 290.83 1292.23 269.83 1293 255 C1293.77 240.17 1293.97 223.5 1293 209 C1292.03 194.5 1295.67 174.83 1287.2 168 C1278.73 161.17 1250.47 161.17 1242.2 168 Z" fill="#7a5862"/><path d="M1242.2 168 C1233.93 174.83 1238.75 194.5 1237.6 209 C1236.45 223.5 1234.9 240.17 1235.3 255 C1235.7 269.83 1231.15 290.83 1240 298 C1248.85 305.17 1279.57 305.17 1288.4 298 C1297.23 290.83 1292.23 269.83 1293 255 C1293.77 240.17 1293.97 223.5 1293 209 C1292.03 194.5 1295.67 174.83 1287.2 168 C1278.73 161.17 1250.47 161.17 1242.2 168 Z" fill="url(#g11)"/><path d="M1262 180 C1265.67 161.67 1285 161.67 1290 180 C1295 198.33 1295.67 271.67 1292 290 C1288.33 308.33 1273 308.33 1268 290 C1263 271.67 1258.33 198.33 1262 180 Z" fill="#b4ad98" opacity="0.45" filter="url(#blur2)" clip-path="url(#m7)"/><g clip-path="url(#m7)"><rect x="1018.5" y="166.7" width="278.9000000000001" height="132.0" fill="#fff" filter="url(#tx1)" opacity="0.5"/></g><path d="M1152 166 C1158.67 159.5 1186.5 162 1192 166 C1197.5 170 1188.67 183.5 1185 190 C1181.33 196.5 1174.5 200.83 1170 205 C1165.5 209.17 1161 215 1158 215 C1155 215 1153 213.17 1152 205 C1151 196.83 1145.33 172.5 1152 166 Z" fill="#eeeee8" filter="url(#blur1)"/></g></g><rect x="1019.9" y="168.1" width="276.1" height="129.2" fill="none" stroke="#231815" stroke-width="2.8"/>
<g clip-path="url(#c18)"><rect x="1017.5" y="325.9" width="280.1" height="132.6" fill="#fff"/><g filter="url(#soft)"><rect x="1017.5" y="325.9" width="280.0999999999999" height="132.60000000000002" fill="#e0dfd8"/><path d="M1087 355 C1088.33 345.83 1094.5 345.83 1096 355 C1097.5 364.17 1097.33 400.83 1096 410 C1094.67 419.17 1089.5 419.17 1088 410 C1086.5 400.83 1085.67 364.17 1087 355 Z" fill="#7a8078" filter="url(#blur2)"/><path d="M1282 330 C1283.17 320 1292.83 320 1295 330 C1297.17 340 1296.17 380 1295 390 C1293.83 400 1290.17 400 1288 390 C1285.83 380 1280.83 340 1282 330 Z" fill="#c4c4bc" filter="url(#blur2)"/><path d="M1020 327 C1022.67 305.33 1034.33 319.83 1036 327 C1037.67 334.17 1031.5 348.33 1030 370 C1028.5 391.67 1028.67 442.5 1027 457 C1025.33 471.5 1021.17 478.67 1020 457 C1018.83 435.33 1017.33 348.67 1020 327 Z" fill="#f3f3ee" filter="url(#blur1)"/><path d="M1066 327 C1071.67 323.17 1099.33 324 1106 327 C1112.67 330 1107.33 332.83 1106 345 C1104.67 357.17 1100.67 381.33 1098 400 C1095.33 418.67 1093 447.5 1090 457 C1087 466.5 1082 466.5 1080 457 C1078 447.5 1079.33 417.83 1078 400 C1076.67 382.17 1074 362.17 1072 350 C1070 337.83 1060.33 330.83 1066 327 Z" fill="#f3f3ee" filter="url(#blur1)"/><path d="M1148 327 C1151 318.17 1169.67 318.17 1173 327 C1176.33 335.83 1169 358.33 1168 380 C1167 401.67 1168.83 444.17 1167 457 C1165.17 469.83 1159 469.83 1157 457 C1155 444.17 1156.5 401.67 1155 380 C1153.5 358.33 1145 335.83 1148 327 Z" fill="#f3f3ee" filter="url(#blur1)"/><path d="M1205 327 C1209.17 318.17 1239.17 323.17 1245 327 C1250.83 330.83 1242.17 337.83 1240 350 C1237.83 362.17 1233.33 382.17 1232 400 C1230.67 417.83 1233.5 447.5 1232 457 C1230.5 466.5 1225 469.83 1223 457 C1221 444.17 1223 401.67 1220 380 C1217 358.33 1200.83 335.83 1205 327 Z" fill="#f3f3ee" filter="url(#blur1)"/><path d="M1274 327 C1276.33 323.17 1292.33 305.33 1296 327 C1299.67 348.67 1296.67 435.33 1296 457 C1295.33 478.67 1293 466.5 1292 457 C1291 447.5 1291.67 417.83 1290 400 C1288.33 382.17 1284.67 362.17 1282 350 C1279.33 337.83 1271.67 330.83 1274 327 Z" fill="#f3f3ee" filter="url(#blur1)"/><path d="M1036.2 327 C1030.25 333.6 1031.9 352.6 1030.6 366.6 C1029.3 380.6 1028.58 395.93 1028.4 411 C1028.22 426.07 1020.77 449.33 1029.5 457 C1038.23 464.67 1072.45 462.83 1080.8 457 C1089.15 451.17 1080.17 433.33 1079.6 422 C1079.03 410.67 1078.5 400.1 1077.4 389 C1076.3 377.9 1074.85 365.73 1073 355.4 C1071.15 345.07 1072.43 331.73 1066.3 327 C1060.17 322.27 1042.15 320.4 1036.2 327 Z" fill="#604852"/><path d="M1036.2 327 C1030.25 333.6 1031.9 352.6 1030.6 366.6 C1029.3 380.6 1028.58 395.93 1028.4 411 C1028.22 426.07 1020.77 449.33 1029.5 457 C1038.23 464.67 1072.45 462.83 1080.8 457 C1089.15 451.17 1080.17 433.33 1079.6 422 C1079.03 410.67 1078.5 400.1 1077.4 389 C1076.3 377.9 1074.85 365.73 1073 355.4 C1071.15 345.07 1072.43 331.73 1066.3 327 C1060.17 322.27 1042.15 320.4 1036.2 327 Z" fill="url(#g14)"/><path d="M1030 330 C1032.5 321.67 1043.33 321.67 1045 330 C1046.67 338.33 1042.5 371.67 1040 380 C1037.5 388.33 1031.67 388.33 1030 380 C1028.33 371.67 1027.5 338.33 1030 330 Z" fill="#b0a690" opacity="0.6" filter="url(#blur2)" clip-path="url(#m13)"/><path d="M1030 420 C1033 414 1045.5 414 1048 420 C1050.5 426 1048 450 1045 456 C1042 462 1032.5 462 1030 456 C1027.5 450 1027 426 1030 420 Z" fill="#a89e8c" opacity="0.45" filter="url(#blur2)" clip-path="url(#m13)"/><path d="M1106.4 327 C1099.53 333.6 1108.23 352.6 1107.5 366.6 C1106.77 380.6 1103.67 399.85 1102 411 C1100.33 422.15 1097.88 425.83 1097.5 433.5 C1097.12 441.17 1089.85 453.08 1099.7 457 C1109.55 460.92 1146.93 464.67 1156.6 457 C1166.27 449.33 1158.63 426.07 1157.7 411 C1156.77 395.93 1152.5 380.6 1151 366.6 C1149.5 352.6 1156.13 333.6 1148.7 327 C1141.27 320.4 1113.27 320.4 1106.4 327 Z" fill="#6a525c"/><path d="M1106.4 327 C1099.53 333.6 1108.23 352.6 1107.5 366.6 C1106.77 380.6 1103.67 399.85 1102 411 C1100.33 422.15 1097.88 425.83 1097.5 433.5 C1097.12 441.17 1089.85 453.08 1099.7 457 C1109.55 460.92 1146.93 464.67 1156.6 457 C1166.27 449.33 1158.63 426.07 1157.7 411 C1156.77 395.93 1152.5 380.6 1151 366.6 C1149.5 352.6 1156.13 333.6 1148.7 327 C1141.27 320.4 1113.27 320.4 1106.4 327 Z" fill="url(#g15)"/><path d="M1100 410 C1109.17 401.5 1145.83 397.33 1155 405 C1164.17 412.67 1164.17 447.5 1155 456 C1145.83 464.5 1109.17 463.67 1100 456 C1090.83 448.33 1090.83 418.5 1100 410 Z" fill="#9a8a80" opacity="0.45" filter="url(#blur2)" clip-path="url(#m13)"/><path d="M1173 327 C1166.85 335.77 1169.35 363.13 1168.4 379.6 C1167.45 396.07 1167.1 412.9 1167.3 425.8 C1167.5 438.7 1160.18 451.8 1169.6 457 C1179.02 462.2 1215.15 466.05 1223.8 457 C1232.45 447.95 1222.65 419.43 1221.5 402.7 C1220.35 385.97 1219.6 369.22 1216.9 356.6 C1214.2 343.98 1212.62 331.93 1205.3 327 C1197.98 322.07 1179.15 318.23 1173 327 Z" fill="#604a52"/><path d="M1173 327 C1166.85 335.77 1169.35 363.13 1168.4 379.6 C1167.45 396.07 1167.1 412.9 1167.3 425.8 C1167.5 438.7 1160.18 451.8 1169.6 457 C1179.02 462.2 1215.15 466.05 1223.8 457 C1232.45 447.95 1222.65 419.43 1221.5 402.7 C1220.35 385.97 1219.6 369.22 1216.9 356.6 C1214.2 343.98 1212.62 331.93 1205.3 327 C1197.98 322.07 1179.15 318.23 1173 327 Z" fill="url(#g16)"/><path d="M1181 360 C1185.17 356.67 1201.83 356.67 1206 360 C1210.17 363.33 1210.17 376.67 1206 380 C1201.83 383.33 1185.17 383.33 1181 380 C1176.83 376.67 1176.83 363.33 1181 360 Z" fill="#a89e8c" opacity="0.45" filter="url(#blur2)" clip-path="url(#m13)"/><path d="M1232 345 C1224.52 355.7 1229.82 375.82 1229.6 391.2 C1229.38 406.58 1230.13 426.33 1230.7 437.3 C1231.27 448.27 1222.82 453.72 1233 457 C1243.18 460.28 1281.8 466.05 1291.8 457 C1301.8 447.95 1294.35 419.43 1293 402.7 C1291.65 385.97 1286.78 369.22 1283.7 356.6 C1280.62 343.98 1283.12 328.93 1274.5 327 C1265.88 325.07 1239.48 334.3 1232 345 Z" fill="#5e464e"/><path d="M1232 345 C1224.52 355.7 1229.82 375.82 1229.6 391.2 C1229.38 406.58 1230.13 426.33 1230.7 437.3 C1231.27 448.27 1222.82 453.72 1233 457 C1243.18 460.28 1281.8 466.05 1291.8 457 C1301.8 447.95 1294.35 419.43 1293 402.7 C1291.65 385.97 1286.78 369.22 1283.7 356.6 C1280.62 343.98 1283.12 328.93 1274.5 327 C1265.88 325.07 1239.48 334.3 1232 345 Z" fill="url(#g17)"/><g clip-path="url(#m13)"><rect x="1017.5" y="325.9" width="280.0999999999999" height="132.60000000000002" fill="#fff" filter="url(#tx2)" opacity="0.4"/></g></g></g><rect x="1018.9" y="327.3" width="277.3" height="129.8" fill="none" stroke="#231815" stroke-width="2.8"/>
<g clip-path="url(#c24)"><rect x="1019.2" y="485" width="278.3" height="132.6" fill="#fff"/><g filter="url(#soft)"><rect x="1019.2" y="485" width="278.29999999999995" height="132.60000000000002" fill="#e0dfd8"/><path d="M1265 486 C1267.83 481.33 1290.83 473.67 1296 486 C1301.17 498.33 1297.67 549.67 1296 560 C1294.33 570.33 1288.83 555.67 1286 548 C1283.17 540.33 1282.5 524.33 1279 514 C1275.5 503.67 1262.17 490.67 1265 486 Z" fill="#d4d4cc" filter="url(#blur2)"/><path d="M1022 486 C1024.5 464.33 1035.5 478.67 1037 486 C1038.5 493.33 1032.5 508.33 1031 530 C1029.5 551.67 1029.5 601.67 1028 616 C1026.5 630.33 1023 637.67 1022 616 C1021 594.33 1019.5 507.67 1022 486 Z" fill="#f3f3ee" filter="url(#blur1)"/><path d="M1118 486 C1121.67 482 1146.33 473.67 1152 486 C1157.67 498.33 1152.33 542.67 1152 560 C1151.67 577.33 1152 593.33 1150 590 C1148 586.67 1143.33 553.33 1140 540 C1136.67 526.67 1133.67 519 1130 510 C1126.33 501 1114.33 490 1118 486 Z" fill="#f3f3ee" filter="url(#blur1)"/><path d="M1196 486 C1200.17 480.33 1233.83 480.33 1240 486 C1246.17 491.67 1234.33 504.33 1233 520 C1231.67 535.67 1231.67 564 1232 580 C1232.33 596 1238.33 610 1235 616 C1231.67 622 1214.17 623.67 1212 616 C1209.83 608.33 1221.5 586 1222 570 C1222.5 554 1219.33 534 1215 520 C1210.67 506 1191.83 491.67 1196 486 Z" fill="#f3f3ee" filter="url(#blur1)"/><path d="M1060 600 C1064.67 595.67 1083.33 587.33 1088 590 C1092.67 592.67 1092.67 611.67 1088 616 C1083.33 620.33 1064.67 618.67 1060 616 C1055.33 613.33 1055.33 604.33 1060 600 Z" fill="#f3f3ee" filter="url(#blur1)"/><path d="M1037.3 486 C1028.93 492.43 1033.18 510.77 1031.7 524.6 C1030.22 538.43 1028.95 553.77 1028.4 569 C1027.85 584.23 1021.35 608.17 1028.4 616 C1035.45 623.83 1062.9 618.23 1070.7 616 C1078.5 613.77 1072.6 608.55 1075.2 602.6 C1077.8 596.65 1084.07 589.57 1086.3 580.3 C1088.53 571.03 1088.6 558.15 1088.6 547 C1088.6 535.85 1087.42 523.57 1086.3 513.4 C1085.18 503.23 1090.07 490.57 1081.9 486 C1073.73 481.43 1045.67 479.57 1037.3 486 Z" fill="#6e5860"/><path d="M1037.3 486 C1028.93 492.43 1033.18 510.77 1031.7 524.6 C1030.22 538.43 1028.95 553.77 1028.4 569 C1027.85 584.23 1021.35 608.17 1028.4 616 C1035.45 623.83 1062.9 618.23 1070.7 616 C1078.5 613.77 1072.6 608.55 1075.2 602.6 C1077.8 596.65 1084.07 589.57 1086.3 580.3 C1088.53 571.03 1088.6 558.15 1088.6 547 C1088.6 535.85 1087.42 523.57 1086.3 513.4 C1085.18 503.23 1090.07 490.57 1081.9 486 C1073.73 481.43 1045.67 479.57 1037.3 486 Z" fill="url(#g20)"/><path d="M1030 540 C1033.33 525.67 1045.83 517.33 1050 530 C1054.17 542.67 1058.33 601.67 1055 616 C1051.67 630.33 1034.17 628.67 1030 616 C1025.83 603.33 1026.67 554.33 1030 540 Z" fill="#a49a90" opacity="0.55" filter="url(#blur2)" clip-path="url(#m19)"/><path d="M1088.6 486 C1083.38 492.43 1087.03 510.77 1087.4 524.6 C1087.77 538.43 1090.8 553.77 1090.8 569 C1090.8 584.23 1077 608.17 1087.4 616 C1097.8 623.83 1142.23 620.08 1153.2 616 C1164.17 611.92 1154.5 601.17 1153.2 591.5 C1151.9 581.83 1148 570.08 1145.4 558 C1142.8 545.92 1142.05 531 1137.6 519 C1133.15 507 1126.87 491.5 1118.7 486 C1110.53 480.5 1093.82 479.57 1088.6 486 Z" fill="#705a64"/><path d="M1088.6 486 C1083.38 492.43 1087.03 510.77 1087.4 524.6 C1087.77 538.43 1090.8 553.77 1090.8 569 C1090.8 584.23 1077 608.17 1087.4 616 C1097.8 623.83 1142.23 620.08 1153.2 616 C1164.17 611.92 1154.5 601.17 1153.2 591.5 C1151.9 581.83 1148 570.08 1145.4 558 C1142.8 545.92 1142.05 531 1137.6 519 C1133.15 507 1126.87 491.5 1118.7 486 C1110.53 480.5 1093.82 479.57 1088.6 486 Z" fill="url(#g21)"/><path d="M1152.3 486 C1145 496.53 1151.53 532.9 1152.3 549.2 C1153.07 565.5 1154.78 572.67 1156.9 583.8 C1159.02 594.93 1156.15 610.63 1165 616 C1173.85 621.37 1200.97 620.42 1210 616 C1219.03 611.58 1216.9 598.72 1219.2 589.5 C1221.5 580.28 1223.8 570.28 1223.8 560.7 C1223.8 551.12 1221.5 540.65 1219.2 532 C1216.9 523.35 1213.85 516.47 1210 508.8 C1206.15 501.13 1205.72 489.8 1196.1 486 C1186.48 482.2 1159.6 475.47 1152.3 486 Z" fill="#6e5660"/><path d="M1152.3 486 C1145 496.53 1151.53 532.9 1152.3 549.2 C1153.07 565.5 1154.78 572.67 1156.9 583.8 C1159.02 594.93 1156.15 610.63 1165 616 C1173.85 621.37 1200.97 620.42 1210 616 C1219.03 611.58 1216.9 598.72 1219.2 589.5 C1221.5 580.28 1223.8 570.28 1223.8 560.7 C1223.8 551.12 1221.5 540.65 1219.2 532 C1216.9 523.35 1213.85 516.47 1210 508.8 C1206.15 501.13 1205.72 489.8 1196.1 486 C1186.48 482.2 1159.6 475.47 1152.3 486 Z" fill="url(#g22)"/><path d="M1155 488 C1160 485.17 1185 485.17 1190 488 C1195 490.83 1190 502.17 1185 505 C1180 507.83 1165 507.83 1160 505 C1155 502.17 1150 490.83 1155 488 Z" fill="#a8a090" opacity="0.5" filter="url(#blur2)" clip-path="url(#m19)"/><path d="M1233 491.5 C1227.23 500.1 1230.5 522.22 1230.7 537.6 C1230.9 552.98 1233.43 570.73 1234.2 583.8 C1234.97 596.87 1225.5 610.63 1235.3 616 C1245.1 621.37 1283.38 621.37 1293 616 C1302.62 610.63 1294.17 594.93 1293 583.8 C1291.83 572.67 1288.32 560.73 1286 549.2 C1283.68 537.67 1282.55 525.13 1279.1 514.6 C1275.65 504.07 1272.98 489.85 1265.3 486 C1257.62 482.15 1238.77 482.9 1233 491.5 Z" fill="#6c5862"/><path d="M1233 491.5 C1227.23 500.1 1230.5 522.22 1230.7 537.6 C1230.9 552.98 1233.43 570.73 1234.2 583.8 C1234.97 596.87 1225.5 610.63 1235.3 616 C1245.1 621.37 1283.38 621.37 1293 616 C1302.62 610.63 1294.17 594.93 1293 583.8 C1291.83 572.67 1288.32 560.73 1286 549.2 C1283.68 537.67 1282.55 525.13 1279.1 514.6 C1275.65 504.07 1272.98 489.85 1265.3 486 C1257.62 482.15 1238.77 482.9 1233 491.5 Z" fill="url(#g23)"/><path d="M1235 495 C1239.17 489.17 1256.67 489.17 1260 495 C1263.33 500.83 1259.17 524.17 1255 530 C1250.83 535.83 1238.33 535.83 1235 530 C1231.67 524.17 1230.83 500.83 1235 495 Z" fill="#a8a090" opacity="0.5" filter="url(#blur2)" clip-path="url(#m19)"/><g clip-path="url(#m19)"><rect x="1019.2" y="485" width="278.29999999999995" height="132.60000000000002" fill="#fff" filter="url(#tx2)" opacity="0.4"/></g></g></g><rect x="1020.6" y="486.4" width="275.5" height="129.8" fill="none" stroke="#231815" stroke-width="2.8"/>
<g clip-path="url(#c25)"><rect x="95" y="811.8" width="170.4" height="176.1" fill="#fff"/><g filter="url(#soft)"><rect x="95" y="811.8" width="170.39999999999998" height="176.10000000000002" fill="#f7f5f7"/><rect x="95" y="811.8" width="170.39999999999998" height="40" fill="#ebe5eb" filter="url(#blur4)"/><path d="M94 907.4 C98.17 895.4 111.9 903.03 119 900 C126.1 896.97 129.83 892.37 136.6 889.2 C143.37 886.03 152.37 883.37 159.6 881 C166.83 878.63 172.77 877.7 180 875 C187.23 872.3 195.57 867.97 203 864.8 C210.43 861.63 217.85 858.13 224.6 856 C231.35 853.87 236.6 854 243.5 852 C250.4 850 262.25 837.17 266 844 C269.75 850.83 270.2 884 266 893 C261.8 902 254.02 892.67 240.8 898 C227.58 903.33 204.73 916.67 186.7 925 C168.67 933.33 148.05 940.17 132.6 948 C117.15 955.83 100.43 978.77 94 972 C87.57 965.23 89.83 919.4 94 907.4 Z" fill="#f0e4f0" /><path d="M94 907.4 C98.17 903.9 111.9 903.03 119 900 C126.1 896.97 129.83 892.37 136.6 889.2 C143.37 886.03 152.37 883.37 159.6 881 C166.83 878.63 172.77 877.7 180 875 C187.23 872.3 195.57 867.97 203 864.8 C210.43 861.63 217.85 858.13 224.6 856 C231.35 853.87 236.6 854 243.5 852 C250.4 850 262.25 843.33 266 844 C269.75 844.67 272.9 851.83 266 856 C259.1 860.17 238.93 863.67 224.6 869 C210.27 874.33 194.67 882.33 180 888 C165.33 893.67 150.93 897.5 136.6 903 C122.27 908.5 101.1 920.27 94 921 C86.9 921.73 89.83 910.9 94 907.4 Z" fill="#d8b4dc" /><path d="M94 948.7 C100.43 943.03 121.22 932.63 132.6 927 C143.98 921.37 153.28 918.5 162.3 914.9 C171.32 911.3 178.12 909.23 186.7 905.4 C195.28 901.57 204.78 896.42 213.8 891.9 C222.82 887.38 232.1 881.78 240.8 878.3 C249.5 874.82 261.8 870.08 266 871 C270.2 871.92 270.2 881 266 883.8 C261.8 886.6 249.5 884.65 240.8 887.8 C232.1 890.95 222.82 898.18 213.8 902.7 C204.78 907.22 195.73 911.52 186.7 914.9 C177.67 918.28 168.62 919.17 159.6 923 C150.58 926.83 143.53 931.57 132.6 937.9 C121.67 944.23 100.43 959.2 94 961 C87.57 962.8 87.57 954.37 94 948.7 Z" fill="#d47cd0" /><path d="M94 907.4 C98.17 906.17 111.9 903.03 119 900 C126.1 896.97 129.83 892.37 136.6 889.2 C143.37 886.03 152.37 883.37 159.6 881 C166.83 878.63 172.77 877.7 180 875 C187.23 872.3 195.57 867.97 203 864.8 C210.43 861.63 217.85 858.13 224.6 856 C231.35 853.87 236.6 854 243.5 852 C250.4 850 262.25 845.33 266 844" fill="none" stroke="#8a3c94" stroke-width="2.2" stroke-linejoin="round" /><ellipse cx="105" cy="913" rx="1.8" ry="1.5" fill="#8a4a9a" transform="rotate(0 105 913)" opacity="1"/><ellipse cx="112" cy="915" rx="1.8" ry="1.5" fill="#8a4a9a" transform="rotate(0 112 915)" opacity="1"/><ellipse cx="124" cy="906" rx="1.8" ry="1.5" fill="#8a4a9a" transform="rotate(0 124 906)" opacity="1"/><ellipse cx="140" cy="898" rx="1.8" ry="1.5" fill="#8a4a9a" transform="rotate(0 140 898)" opacity="1"/><ellipse cx="150" cy="895" rx="1.8" ry="1.5" fill="#8a4a9a" transform="rotate(0 150 895)" opacity="1"/><ellipse cx="170" cy="886" rx="1.8" ry="1.5" fill="#8a4a9a" transform="rotate(0 170 886)" opacity="1"/><ellipse cx="190" cy="878" rx="1.8" ry="1.5" fill="#8a4a9a" transform="rotate(0 190 878)" opacity="1"/><ellipse cx="200" cy="875" rx="1.8" ry="1.5" fill="#8a4a9a" transform="rotate(0 200 875)" opacity="1"/><ellipse cx="214" cy="868" rx="1.8" ry="1.5" fill="#8a4a9a" transform="rotate(0 214 868)" opacity="1"/><ellipse cx="230" cy="862" rx="1.8" ry="1.5" fill="#8a4a9a" transform="rotate(0 230 862)" opacity="1"/><ellipse cx="250" cy="857" rx="1.8" ry="1.5" fill="#8a4a9a" transform="rotate(0 250 857)" opacity="1"/></g></g><rect x="96.4" y="813.2" width="167.6" height="173.3" fill="none" stroke="#231815" stroke-width="2.8"/>
<g clip-path="url(#c26)"><rect x="270.4" y="812.1" width="170.1" height="175.9" fill="#fff"/><g filter="url(#soft)"><rect x="270.4" y="812.1" width="170.10000000000002" height="175.89999999999998" fill="#f6def6"/><path d="M270 812 C278.23 782.67 309.58 808.17 319.4 812 C329.22 815.83 325.3 828.23 328.9 835 C332.5 841.77 337.62 845.83 341 852.6 C344.38 859.37 346.03 871.32 349.2 875.6 C352.37 879.88 355.5 876.93 360 878.3 C364.5 879.67 371.23 881.08 376.2 883.8 C381.17 886.52 385.28 891 389.8 894.6 C394.32 898.2 397.67 902.25 403.3 905.4 C408.93 908.55 417.32 911.23 423.6 913.5 C429.88 915.77 438.1 906.58 441 919 C443.9 931.42 469.5 976.5 441 988 C412.5 999.5 298.5 1017.33 270 988 C241.5 958.67 261.77 841.33 270 812 Z" fill="#f3d2f2" filter="url(#blur2)"/><path d="M270 812 C278.23 804 309.58 808.17 319.4 812 C329.22 815.83 325.3 828.23 328.9 835 C332.5 841.77 337.62 845.83 341 852.6 C344.38 859.37 346.03 871.32 349.2 875.6 C352.37 879.88 355.5 876.93 360 878.3 C364.5 879.67 371.23 881.08 376.2 883.8 C381.17 886.52 385.28 891 389.8 894.6 C394.32 898.2 397.67 902.25 403.3 905.4 C408.93 908.55 417.32 911.23 423.6 913.5 C429.88 915.77 438.1 907.08 441 919 C443.9 930.92 447.83 975.67 441 985 C434.17 994.33 413.17 979.17 400 975 C386.83 970.83 373.67 966.67 362 960 C350.33 953.33 340.33 945 330 935 C319.67 925 310 912.5 300 900 C290 887.5 275 874.67 270 860 C265 845.33 261.77 820 270 812 Z" fill="#f1caf0" filter="url(#blur2)"/><path d="M295 812 C292.07 815.83 296.83 825.52 301.8 835 C306.77 844.48 318.27 858.75 324.8 868.9 C331.33 879.05 334.68 890.27 341 895.9 C347.32 901.53 354.57 899.32 362.7 902.7 C370.83 906.08 381.92 911.68 389.8 916.2 C397.68 920.72 401.47 925 410 929.8 C418.53 934.6 435.83 946.8 441 945 C446.17 943.2 443.9 924.25 441 919 C438.1 913.75 429.88 915.77 423.6 913.5 C417.32 911.23 408.93 908.55 403.3 905.4 C397.67 902.25 394.32 898.2 389.8 894.6 C385.28 891 381.17 886.52 376.2 883.8 C371.23 881.08 364.5 879.67 360 878.3 C355.5 876.93 352.37 879.88 349.2 875.6 C346.03 871.32 344.38 859.37 341 852.6 C337.62 845.83 332.5 841.77 328.9 835 C325.3 828.23 325.05 815.83 319.4 812 C313.75 808.17 297.93 808.17 295 812 Z" fill="#e29ae2" filter="url(#blur1)"/><path d="M319.4 812 C320.98 815.83 325.3 828.23 328.9 835 C332.5 841.77 337.62 845.83 341 852.6 C344.38 859.37 346.03 871.32 349.2 875.6 C352.37 879.88 355.5 876.93 360 878.3 C364.5 879.67 371.23 881.08 376.2 883.8 C381.17 886.52 385.28 891 389.8 894.6 C394.32 898.2 397.67 902.25 403.3 905.4 C408.93 908.55 417.32 911.23 423.6 913.5 C429.88 915.77 438.1 918.08 441 919" fill="none" stroke="#d26ed4" stroke-width="2.2" stroke-linejoin="round" /><ellipse cx="280" cy="835" rx="1.6" ry="4.5" fill="#cc3cc8" transform="rotate(-10 280 835)" opacity="1"/><ellipse cx="288" cy="850" rx="1.6" ry="4.5" fill="#cc3cc8" transform="rotate(-15 288 850)" opacity="1"/><ellipse cx="293" cy="868" rx="1.6" ry="4.5" fill="#cc3cc8" transform="rotate(-15 293 868)" opacity="1"/><ellipse cx="306" cy="840" rx="1.6" ry="4.5" fill="#cc3cc8" transform="rotate(-20 306 840)" opacity="1"/><ellipse cx="312" cy="862" rx="1.6" ry="4.5" fill="#cc3cc8" transform="rotate(-20 312 862)" opacity="1"/><ellipse cx="318" cy="890" rx="1.6" ry="4.5" fill="#cc3cc8" transform="rotate(-20 318 890)" opacity="1"/><ellipse cx="302" cy="900" rx="1.6" ry="4.5" fill="#cc3cc8" transform="rotate(-15 302 900)" opacity="1"/><ellipse cx="328" cy="905" rx="1.6" ry="4.5" fill="#cc3cc8" transform="rotate(-25 328 905)" opacity="1"/><ellipse cx="335" cy="925" rx="1.6" ry="4.5" fill="#cc3cc8" transform="rotate(-25 335 925)" opacity="1"/><ellipse cx="345" cy="915" rx="1.6" ry="4.5" fill="#cc3cc8" transform="rotate(-25 345 915)" opacity="1"/><ellipse cx="360" cy="925" rx="1.6" ry="4.5" fill="#cc3cc8" transform="rotate(-20 360 925)" opacity="1"/><ellipse cx="375" cy="925" rx="1.6" ry="4.5" fill="#cc3cc8" transform="rotate(-20 375 925)" opacity="1"/><ellipse cx="392" cy="935" rx="1.6" ry="4.5" fill="#cc3cc8" transform="rotate(-20 392 935)" opacity="1"/><ellipse cx="402" cy="945" rx="1.6" ry="4.5" fill="#cc3cc8" transform="rotate(-20 402 945)" opacity="1"/><ellipse cx="418" cy="945" rx="1.6" ry="4.5" fill="#cc3cc8" transform="rotate(-20 418 945)" opacity="1"/><ellipse cx="430" cy="955" rx="1.6" ry="4.5" fill="#cc3cc8" transform="rotate(-20 430 955)" opacity="1"/><ellipse cx="283" cy="880" rx="1.6" ry="4.5" fill="#cc3cc8" transform="rotate(-10 283 880)" opacity="1"/><ellipse cx="276" cy="900" rx="1.6" ry="4.5" fill="#cc3cc8" transform="rotate(0 276 900)" opacity="1"/><ellipse cx="387.58" cy="953.61" rx="1.5" ry="1.7" fill="#c838c8" transform="rotate(0 387.58 953.61)" opacity="1"/><ellipse cx="398.14" cy="955.42" rx="1.5" ry="1.7" fill="#c838c8" transform="rotate(0 398.14 955.42)" opacity="1"/><ellipse cx="376.39" cy="964.06" rx="1.5" ry="1.7" fill="#c838c8" transform="rotate(0 376.39 964.06)" opacity="1"/><ellipse cx="432.59" cy="978.02" rx="1.5" ry="1.7" fill="#c838c8" transform="rotate(0 432.59 978.02)" opacity="1"/><ellipse cx="422.5" cy="957.77" rx="1.5" ry="1.7" fill="#c838c8" transform="rotate(0 422.5 957.77)" opacity="1"/><ellipse cx="407.42" cy="959.68" rx="1.5" ry="1.7" fill="#c838c8" transform="rotate(0 407.42 959.68)" opacity="1"/><ellipse cx="383.4" cy="953.72" rx="1.5" ry="1.7" fill="#c838c8" transform="rotate(0 383.4 953.72)" opacity="1"/><ellipse cx="386.15" cy="982.46" rx="1.5" ry="1.7" fill="#c838c8" transform="rotate(0 386.15 982.46)" opacity="1"/><ellipse cx="426.71" cy="978.23" rx="1.5" ry="1.7" fill="#c838c8" transform="rotate(0 426.71 978.23)" opacity="1"/><ellipse cx="424.83" cy="956.77" rx="1.5" ry="1.7" fill="#c838c8" transform="rotate(0 424.83 956.77)" opacity="1"/><ellipse cx="392.45" cy="971.94" rx="1.5" ry="1.7" fill="#c838c8" transform="rotate(0 392.45 971.94)" opacity="1"/><ellipse cx="420.31" cy="979.91" rx="1.5" ry="1.7" fill="#c838c8" transform="rotate(0 420.31 979.91)" opacity="1"/><ellipse cx="430.08" cy="953.04" rx="1.5" ry="1.7" fill="#c838c8" transform="rotate(0 430.08 953.04)" opacity="1"/><ellipse cx="411.99" cy="973.51" rx="1.5" ry="1.7" fill="#c838c8" transform="rotate(0 411.99 973.51)" opacity="1"/><ellipse cx="405.39" cy="956.22" rx="1.5" ry="1.7" fill="#c838c8" transform="rotate(0 405.39 956.22)" opacity="1"/><ellipse cx="403.26" cy="953.13" rx="1.5" ry="1.7" fill="#c838c8" transform="rotate(0 403.26 953.13)" opacity="1"/><ellipse cx="433.68" cy="980.29" rx="1.5" ry="1.7" fill="#c838c8" transform="rotate(0 433.68 980.29)" opacity="1"/><ellipse cx="408.14" cy="960.51" rx="1.5" ry="1.7" fill="#c838c8" transform="rotate(0 408.14 960.51)" opacity="1"/><ellipse cx="431.99" cy="970.03" rx="1.5" ry="1.7" fill="#c838c8" transform="rotate(0 431.99 970.03)" opacity="1"/><ellipse cx="430.23" cy="979.68" rx="1.5" ry="1.7" fill="#c838c8" transform="rotate(0 430.23 979.68)" opacity="1"/><ellipse cx="405.55" cy="964.49" rx="1.5" ry="1.7" fill="#c838c8" transform="rotate(0 405.55 964.49)" opacity="1"/><ellipse cx="411.53" cy="965.09" rx="1.5" ry="1.7" fill="#c838c8" transform="rotate(0 411.53 965.09)" opacity="1"/><ellipse cx="382.65" cy="960.68" rx="1.5" ry="1.7" fill="#c838c8" transform="rotate(0 382.65 960.68)" opacity="1"/><ellipse cx="425.63" cy="951.51" rx="1.5" ry="1.7" fill="#c838c8" transform="rotate(0 425.63 951.51)" opacity="1"/><ellipse cx="375.06" cy="971.92" rx="1.5" ry="1.7" fill="#c838c8" transform="rotate(0 375.06 971.92)" opacity="1"/><ellipse cx="390.51" cy="968.71" rx="1.5" ry="1.7" fill="#c838c8" transform="rotate(0 390.51 968.71)" opacity="1"/><ellipse cx="403.1" cy="962" rx="1.5" ry="1.7" fill="#c838c8" transform="rotate(0 403.1 962)" opacity="1"/><ellipse cx="437.82" cy="956.85" rx="1.5" ry="1.7" fill="#c838c8" transform="rotate(0 437.82 956.85)" opacity="1"/><ellipse cx="399.24" cy="957.09" rx="1.5" ry="1.7" fill="#c838c8" transform="rotate(0 399.24 957.09)" opacity="1"/><ellipse cx="413.76" cy="959.67" rx="1.5" ry="1.7" fill="#c838c8" transform="rotate(0 413.76 959.67)" opacity="1"/><ellipse cx="395.48" cy="976.14" rx="1.5" ry="1.7" fill="#c838c8" transform="rotate(0 395.48 976.14)" opacity="1"/><ellipse cx="393.16" cy="969.55" rx="1.5" ry="1.7" fill="#c838c8" transform="rotate(0 393.16 969.55)" opacity="1"/><ellipse cx="431.68" cy="953.53" rx="1.5" ry="1.7" fill="#c838c8" transform="rotate(0 431.68 953.53)" opacity="1"/><ellipse cx="376.07" cy="958.01" rx="1.5" ry="1.7" fill="#c838c8" transform="rotate(0 376.07 958.01)" opacity="1"/><ellipse cx="422.5" cy="971.54" rx="1.5" ry="1.7" fill="#c838c8" transform="rotate(0 422.5 971.54)" opacity="1"/><ellipse cx="387.67" cy="961.59" rx="1.5" ry="1.7" fill="#c838c8" transform="rotate(0 387.67 961.59)" opacity="1"/><ellipse cx="383.72" cy="966.07" rx="1.5" ry="1.7" fill="#c838c8" transform="rotate(0 383.72 966.07)" opacity="1"/><ellipse cx="374.83" cy="974.41" rx="1.5" ry="1.7" fill="#c838c8" transform="rotate(0 374.83 974.41)" opacity="1"/><ellipse cx="431.13" cy="983.42" rx="1.5" ry="1.7" fill="#c838c8" transform="rotate(0 431.13 983.42)" opacity="1"/><ellipse cx="420.5" cy="983.6" rx="1.5" ry="1.7" fill="#c838c8" transform="rotate(0 420.5 983.6)" opacity="1"/><ellipse cx="373.2" cy="960.11" rx="1.5" ry="1.7" fill="#c838c8" transform="rotate(0 373.2 960.11)" opacity="1"/><ellipse cx="435.76" cy="977.13" rx="1.5" ry="1.7" fill="#c838c8" transform="rotate(0 435.76 977.13)" opacity="1"/><ellipse cx="399.09" cy="983.02" rx="1.5" ry="1.7" fill="#c838c8" transform="rotate(0 399.09 983.02)" opacity="1"/><ellipse cx="412.95" cy="978.63" rx="1.5" ry="1.7" fill="#c838c8" transform="rotate(0 412.95 978.63)" opacity="1"/><ellipse cx="391.37" cy="956.7" rx="1.5" ry="1.7" fill="#c838c8" transform="rotate(0 391.37 956.7)" opacity="1"/><ellipse cx="353.32" cy="967.73" rx="1.7" ry="1.9" fill="#c838c8" transform="rotate(0 353.32 967.73)" opacity="1"/><ellipse cx="351.45" cy="984.24" rx="1.7" ry="1.9" fill="#c838c8" transform="rotate(0 351.45 984.24)" opacity="1"/><ellipse cx="349.94" cy="965.19" rx="1.7" ry="1.9" fill="#c838c8" transform="rotate(0 349.94 965.19)" opacity="1"/><ellipse cx="341.34" cy="968.39" rx="1.7" ry="1.9" fill="#c838c8" transform="rotate(0 341.34 968.39)" opacity="1"/><ellipse cx="363.51" cy="972.25" rx="1.7" ry="1.9" fill="#c838c8" transform="rotate(0 363.51 972.25)" opacity="1"/><ellipse cx="348.71" cy="966.94" rx="1.7" ry="1.9" fill="#c838c8" transform="rotate(0 348.71 966.94)" opacity="1"/><ellipse cx="280" cy="930" rx="3" ry="7" fill="none" stroke="#c850c8" stroke-width="1" transform="rotate(-20 280 930)"/></g></g><rect x="271.8" y="813.5" width="167.3" height="173.1" fill="none" stroke="#231815" stroke-width="2.8"/>
<g clip-path="url(#c27)"><rect x="446" y="813.4" width="170.2" height="175.8" fill="#fff"/><g filter="url(#soft)"><rect x="446" y="813.4" width="170.20000000000005" height="175.80000000000007" fill="#f6ebf4"/><path d="M449.1 812 C450.63 808.72 453.73 825.9 455.2 830.3 C456.67 834.7 455.43 834.78 457.9 838.4 C460.37 842.02 466.17 848.62 470 852 C473.83 855.38 475.93 855.33 480.9 858.7 C485.87 862.07 494.4 868.15 499.8 872.2 C505.2 876.25 506.98 880.52 513.3 883 C519.62 885.48 530.25 885.28 537.7 887.1 C545.15 888.92 552.37 891.42 558 893.9 C563.63 896.38 567 899.75 571.5 902 C576 904.25 579.37 904.7 585 907.4 C590.63 910.1 599.97 915.43 605.3 918.2 C610.63 920.97 615.05 916.7 617 924 C618.95 931.3 623.45 959 617 962 C610.55 965 589.27 947.67 578.3 942 C567.33 936.33 560.22 932.83 551.2 928 C542.18 923.17 533.22 918.33 524.2 913 C515.18 907.67 506.13 902 497.1 896 C488.07 890 478.52 884.67 470 877 C461.48 869.33 449.48 860.83 446 850 C442.52 839.17 447.57 815.28 449.1 812 Z" fill="#ecd4ee" /><path d="M449.1 812 C450.63 810.05 453.73 825.9 455.2 830.3 C456.67 834.7 455.43 834.78 457.9 838.4 C460.37 842.02 466.17 848.62 470 852 C473.83 855.38 475.93 855.33 480.9 858.7 C485.87 862.07 494.4 868.15 499.8 872.2 C505.2 876.25 506.98 880.52 513.3 883 C519.62 885.48 530.25 885.28 537.7 887.1 C545.15 888.92 552.37 891.42 558 893.9 C563.63 896.38 567 899.75 571.5 902 C576 904.25 579.37 904.7 585 907.4 C590.63 910.1 599.97 915.43 605.3 918.2 C610.63 920.97 615.05 919.53 617 924 C618.95 928.47 623.45 944.33 617 945 C610.55 945.67 589.27 933 578.3 928 C567.33 923 560.22 919.33 551.2 915 C542.18 910.67 533.22 906.83 524.2 902 C515.18 897.17 506.13 891.67 497.1 886 C488.07 880.33 478.52 875.33 470 868 C461.48 860.67 449.48 851.33 446 842 C442.52 832.67 447.57 813.95 449.1 812 Z" fill="#d596dc" /><path d="M449.1 812 C450.12 815.05 453.73 825.9 455.2 830.3 C456.67 834.7 455.43 834.78 457.9 838.4 C460.37 842.02 466.17 848.62 470 852 C473.83 855.38 475.93 855.33 480.9 858.7 C485.87 862.07 494.4 868.15 499.8 872.2 C505.2 876.25 506.98 880.52 513.3 883 C519.62 885.48 530.25 885.28 537.7 887.1 C545.15 888.92 552.37 891.42 558 893.9 C563.63 896.38 567 899.75 571.5 902 C576 904.25 579.37 904.7 585 907.4 C590.63 910.1 599.97 915.43 605.3 918.2 C610.63 920.97 615.05 923.03 617 924" fill="none" stroke="#c050d2" stroke-width="4" stroke-linejoin="round" /><path d="M470 895 C468.67 900.83 460.33 916.67 462 930 C463.67 943.33 473.67 965 480 975 C486.33 985 496.67 987.5 500 990" fill="none" stroke="#e0c0e0" stroke-width="1"/></g></g><rect x="447.4" y="814.8" width="167.4" height="173" fill="none" stroke="#231815" stroke-width="2.8"/>
<g clip-path="url(#c28)"><rect x="621.4" y="813.4" width="169.8" height="176.3" fill="#fff"/><g filter="url(#soft)"><rect x="621.4" y="813.4" width="169.80000000000007" height="176.30000000000007" fill="#f4eaf2"/><path d="M621 843.1 C623.88 837 633.62 847.28 638.3 849.2 C642.98 851.12 645.72 852.57 649.1 854.6 C652.48 856.63 653.63 859.13 658.6 861.4 C663.57 863.67 672.13 864.82 678.9 868.2 C685.67 871.58 692.43 877.42 699.2 881.7 C705.97 885.98 712.73 890.52 719.5 893.9 C726.27 897.28 733.05 899.75 739.8 902 C746.55 904.25 751.3 904.7 760 907.4 C768.7 910.1 786.67 911.43 792 918.2 C797.33 924.97 800.7 945.73 792 948 C783.3 950.27 755.27 936.77 739.8 931.8 C724.33 926.83 712.73 923.17 699.2 918.2 C685.67 913.23 671.63 907.4 658.6 902 C645.57 896.6 627.27 895.62 621 885.8 C614.73 875.98 618.12 849.2 621 843.1 Z" fill="#e6d2e4" /><path d="M621 843.1 C623.88 838.8 633.62 847.28 638.3 849.2 C642.98 851.12 645.72 852.57 649.1 854.6 C652.48 856.63 653.63 859.13 658.6 861.4 C663.57 863.67 672.13 864.82 678.9 868.2 C685.67 871.58 692.43 877.42 699.2 881.7 C705.97 885.98 712.73 890.52 719.5 893.9 C726.27 897.28 733.05 899.75 739.8 902 C746.55 904.25 751.3 904.7 760 907.4 C768.7 910.1 786.67 914.13 792 918.2 C797.33 922.27 798.45 930.9 792 931.8 C785.55 932.7 764.27 926.77 753.3 923.6 C742.33 920.43 735.22 916.4 726.2 912.8 C717.18 909.2 708.22 905.6 699.2 902 C690.18 898.4 681.13 894.82 672.1 891.2 C663.07 887.58 653.52 883 645 880.3 C636.48 877.6 625 881.2 621 875 C617 868.8 618.12 847.4 621 843.1 Z" fill="#d2b4d6" /><path d="M621 843.1 C623.88 844.12 633.62 847.28 638.3 849.2 C642.98 851.12 645.72 852.57 649.1 854.6 C652.48 856.63 653.63 859.13 658.6 861.4 C663.57 863.67 672.13 864.82 678.9 868.2 C685.67 871.58 692.43 877.42 699.2 881.7 C705.97 885.98 712.73 890.52 719.5 893.9 C726.27 897.28 733.05 899.75 739.8 902 C746.55 904.25 751.3 904.7 760 907.4 C768.7 910.1 786.67 916.4 792 918.2" fill="none" stroke="#7e4a8c" stroke-width="2.4" stroke-linejoin="round" /><ellipse cx="679.05" cy="881.03" rx="2.3" ry="1.8" fill="#a070aa" transform="rotate(0 679.05 881.03)" opacity="1"/><ellipse cx="729.09" cy="900.11" rx="2.3" ry="1.8" fill="#a070aa" transform="rotate(0 729.09 900.11)" opacity="1"/><ellipse cx="711.49" cy="896.58" rx="2.3" ry="1.8" fill="#a070aa" transform="rotate(0 711.49 896.58)" opacity="1"/><ellipse cx="638.37" cy="869.04" rx="2.3" ry="1.8" fill="#a070aa" transform="rotate(0 638.37 869.04)" opacity="1"/><ellipse cx="635.24" cy="866.9" rx="2.3" ry="1.8" fill="#a070aa" transform="rotate(0 635.24 866.9)" opacity="1"/><ellipse cx="640.19" cy="864.76" rx="2.3" ry="1.8" fill="#a070aa" transform="rotate(0 640.19 864.76)" opacity="1"/><ellipse cx="694.45" cy="895.3" rx="2.3" ry="1.8" fill="#a070aa" transform="rotate(0 694.45 895.3)" opacity="1"/><ellipse cx="648.44" cy="869.66" rx="2.3" ry="1.8" fill="#a070aa" transform="rotate(0 648.44 869.66)" opacity="1"/><ellipse cx="725.5" cy="909.17" rx="2.3" ry="1.8" fill="#a070aa" transform="rotate(0 725.5 909.17)" opacity="1"/><ellipse cx="717.8" cy="899.48" rx="2.3" ry="1.8" fill="#a070aa" transform="rotate(0 717.8 899.48)" opacity="1"/><ellipse cx="778.87" cy="919.71" rx="2.3" ry="1.8" fill="#a070aa" transform="rotate(0 778.87 919.71)" opacity="1"/><ellipse cx="760.85" cy="915.41" rx="2.3" ry="1.8" fill="#a070aa" transform="rotate(0 760.85 915.41)" opacity="1"/><ellipse cx="651.57" cy="869.64" rx="2.3" ry="1.8" fill="#a070aa" transform="rotate(0 651.57 869.64)" opacity="1"/><ellipse cx="676.7" cy="888.07" rx="2.3" ry="1.8" fill="#a070aa" transform="rotate(0 676.7 888.07)" opacity="1"/><ellipse cx="657.15" cy="877.44" rx="2.3" ry="1.8" fill="#a070aa" transform="rotate(0 657.15 877.44)" opacity="1"/><ellipse cx="727.25" cy="902.97" rx="2.3" ry="1.8" fill="#a070aa" transform="rotate(0 727.25 902.97)" opacity="1"/><ellipse cx="713.3" cy="893.68" rx="2.3" ry="1.8" fill="#a070aa" transform="rotate(0 713.3 893.68)" opacity="1"/><ellipse cx="638.62" cy="865.52" rx="2.3" ry="1.8" fill="#a070aa" transform="rotate(0 638.62 865.52)" opacity="1"/><ellipse cx="733.6" cy="906.17" rx="2.3" ry="1.8" fill="#a070aa" transform="rotate(0 733.6 906.17)" opacity="1"/><ellipse cx="677.56" cy="885.65" rx="2.3" ry="1.8" fill="#a070aa" transform="rotate(0 677.56 885.65)" opacity="1"/><ellipse cx="698.84" cy="890.73" rx="2.3" ry="1.8" fill="#a070aa" transform="rotate(0 698.84 890.73)" opacity="1"/><ellipse cx="751.04" cy="916.4" rx="2.3" ry="1.8" fill="#a070aa" transform="rotate(0 751.04 916.4)" opacity="1"/></g></g><rect x="622.8" y="814.8" width="167" height="173.5" fill="none" stroke="#231815" stroke-width="2.8"/>
<g clip-path="url(#c29)"><rect x="94.4" y="1000.7" width="169.8" height="175.9" fill="#fff"/><g filter="url(#soft)"><rect x="94.4" y="1000.7" width="169.79999999999998" height="175.89999999999986" fill="#f6eaf4"/><path d="M94 1038 C98 1029.4 113.08 1042.28 118 1043.4 C122.92 1044.52 121.47 1045.83 123.5 1044.7 C125.53 1043.57 127.05 1038.07 130.2 1036.6 C133.35 1035.13 139.23 1035 142.4 1035.9 C145.57 1036.8 147.17 1040.42 149.2 1042 C151.23 1043.58 152.13 1046.3 154.6 1045.4 C157.07 1044.5 161.07 1038.4 164 1036.6 C166.93 1034.8 169.03 1034.15 172.2 1034.6 C175.37 1035.05 180.07 1038.3 183 1039.3 C185.93 1040.3 187.1 1039.92 189.8 1040.6 C192.5 1041.28 195.37 1043.05 199.2 1043.4 C203.03 1043.75 208.28 1042.93 212.8 1042.7 C217.32 1042.47 221.8 1042.23 226.3 1042 C230.8 1041.77 233.35 1041.53 239.8 1041.3 C246.25 1041.07 260.8 1031.65 265 1040.6 C269.2 1049.55 293.5 1085.93 265 1095 C236.5 1104.07 122.5 1104.5 94 1095 C65.5 1085.5 90 1046.6 94 1038 Z" fill="#f0d6ee" filter="url(#blur2)"/><path d="M94 1038 C98 1037.57 113.08 1042.28 118 1043.4 C122.92 1044.52 121.47 1045.83 123.5 1044.7 C125.53 1043.57 127.05 1038.07 130.2 1036.6 C133.35 1035.13 139.23 1035 142.4 1035.9 C145.57 1036.8 147.17 1040.42 149.2 1042 C151.23 1043.58 152.13 1046.3 154.6 1045.4 C157.07 1044.5 161.07 1038.4 164 1036.6 C166.93 1034.8 169.03 1034.15 172.2 1034.6 C175.37 1035.05 180.07 1038.3 183 1039.3 C185.93 1040.3 187.1 1039.92 189.8 1040.6 C192.5 1041.28 195.37 1043.05 199.2 1043.4 C203.03 1043.75 208.28 1042.93 212.8 1042.7 C217.32 1042.47 221.8 1042.23 226.3 1042 C230.8 1041.77 233.35 1041.53 239.8 1041.3 C246.25 1041.07 260.8 1039.38 265 1040.6 C269.2 1041.82 269.2 1047.15 265 1048.6 C260.8 1050.05 246.25 1049.07 239.8 1049.3 C233.35 1049.53 230.8 1049.77 226.3 1050 C221.8 1050.23 217.32 1050.47 212.8 1050.7 C208.28 1050.93 203.03 1051.75 199.2 1051.4 C195.37 1051.05 192.5 1049.28 189.8 1048.6 C187.1 1047.92 185.93 1048.3 183 1047.3 C180.07 1046.3 175.37 1043.05 172.2 1042.6 C169.03 1042.15 166.93 1042.8 164 1044.6 C161.07 1046.4 157.07 1052.5 154.6 1053.4 C152.13 1054.3 151.23 1051.58 149.2 1050 C147.17 1048.42 145.57 1044.8 142.4 1043.9 C139.23 1043 133.35 1043.13 130.2 1044.6 C127.05 1046.07 125.53 1051.57 123.5 1052.7 C121.47 1053.83 122.92 1052.52 118 1051.4 C113.08 1050.28 98 1048.23 94 1046 C90 1043.77 90 1038.43 94 1038 Z" fill="#d684d2" /><path d="M94 1038 C98 1038.9 113.08 1042.28 118 1043.4 C122.92 1044.52 121.47 1045.83 123.5 1044.7 C125.53 1043.57 127.05 1038.07 130.2 1036.6 C133.35 1035.13 139.23 1035 142.4 1035.9 C145.57 1036.8 147.17 1040.42 149.2 1042 C151.23 1043.58 152.13 1046.3 154.6 1045.4 C157.07 1044.5 161.07 1038.4 164 1036.6 C166.93 1034.8 169.03 1034.15 172.2 1034.6 C175.37 1035.05 180.07 1038.3 183 1039.3 C185.93 1040.3 187.1 1039.92 189.8 1040.6 C192.5 1041.28 195.37 1043.05 199.2 1043.4 C203.03 1043.75 208.28 1042.93 212.8 1042.7 C217.32 1042.47 221.8 1042.23 226.3 1042 C230.8 1041.77 233.35 1041.53 239.8 1041.3 C246.25 1041.07 260.8 1040.72 265 1040.6" fill="none" stroke="#c82c78" stroke-width="2.4" stroke-linejoin="round" /><path d="M94 1152 C103.33 1147.17 134 1148.33 150 1148 C166 1147.67 170.83 1149.67 190 1150 C209.17 1150.33 252.5 1145.5 265 1150 C277.5 1154.5 293.5 1172.5 265 1177 C236.5 1181.5 122.5 1181.17 94 1177 C65.5 1172.83 84.67 1156.83 94 1152 Z" fill="#e8b4e2"/><rect x="185" y="1146" width="5" height="31" fill="#f6eaf4"/><ellipse cx="135" cy="1084" rx="6" ry="11" fill="#a844a8" transform="rotate(20 135 1084)" opacity="1"/><ellipse cx="165" cy="1090" rx="5" ry="11" fill="#a844a8" transform="rotate(15 165 1090)" opacity="1"/><ellipse cx="207" cy="1118" rx="7" ry="13" fill="#a844a8" transform="rotate(10 207 1118)" opacity="1"/><ellipse cx="225.6" cy="1111" rx="5.5" ry="7" fill="#a844a8" transform="rotate(0 225.6 1111)" opacity="1"/><ellipse cx="105" cy="1099" rx="5.5" ry="5.5" fill="#a844a8" transform="rotate(0 105 1099)" opacity="1"/><ellipse cx="99" cy="1112" rx="4" ry="7" fill="#a844a8" transform="rotate(0 99 1112)" opacity="1"/><ellipse cx="190" cy="1078" rx="18" ry="10" fill="none" stroke="#b860b8" stroke-width="2.5"/></g><g><rect x="94.4" y="1000.7" width="169.79999999999998" height="175.89999999999986" fill="#fff" filter="url(#dotsP)" opacity="0.35"/></g></g><rect x="95.8" y="1002.1" width="167" height="173.1" fill="none" stroke="#231815" stroke-width="2.8"/>
<g clip-path="url(#c30)"><rect x="270.3" y="1000.3" width="170.4" height="175.9" fill="#fff"/><g filter="url(#soft)"><rect x="270.3" y="1000.3" width="170.39999999999998" height="175.9000000000001" fill="#c4b0c4"/><path d="M330 1000 C330.33 986.67 350.33 991.67 362 1000 C373.67 1008.33 388.67 1033.33 400 1050 C411.33 1066.67 424.17 1083.33 430 1100 C435.83 1116.67 440 1141.67 435 1150 C430 1158.33 412.5 1161.67 400 1150 C387.5 1138.33 371.67 1105 360 1080 C348.33 1055 329.67 1013.33 330 1000 Z" fill="#a898bc" filter="url(#blur4)"/><path d="M272 1000 C276.67 983.33 292 990 300 1000 C308 1010 320 1043.33 320 1060 C320 1076.67 308 1093.33 300 1100 C292 1106.67 276.67 1116.67 272 1100 C267.33 1083.33 267.33 1016.67 272 1000 Z" fill="#cbb8c8" filter="url(#blur4)"/><path d="M272 1060 C276.67 1043.83 293.67 1066.67 300 1080 C306.33 1093.33 310 1123.83 310 1140 C310 1156.17 306.33 1170.83 300 1177 C293.67 1183.17 276.67 1196.5 272 1177 C267.33 1157.5 267.33 1076.17 272 1060 Z" fill="#d4c0cc" filter="url(#blur4)"/><path d="M361.8 999 C351.2 1003 371.47 1017.52 378.4 1024 C385.33 1030.48 396.93 1031.9 403.4 1037.9 C409.87 1043.9 411.67 1050.55 417.2 1060 C422.73 1069.45 432.47 1087.93 436.6 1094.6 C440.73 1101.27 441.1 1115.77 442 1100 C442.9 1084.23 455.37 1016.83 442 1000 C428.63 983.17 372.4 995 361.8 999 Z" fill="#f0e2d4"/><path d="M361.8 999 C364.57 1003.17 371.47 1017.52 378.4 1024 C385.33 1030.48 396.93 1031.9 403.4 1037.9 C409.87 1043.9 411.67 1050.55 417.2 1060 C422.73 1069.45 432.47 1087.93 436.6 1094.6 C440.73 1101.27 441.1 1099.1 442 1100" fill="none" stroke="#c86088" stroke-width="1.6" stroke-linejoin="round" /><ellipse cx="289" cy="1083" rx="4" ry="10" fill="#6c5aa0" transform="rotate(15 289 1083)" opacity="1"/><ellipse cx="302" cy="1105" rx="4.5" ry="12" fill="#6c5aa0" transform="rotate(20 302 1105)" opacity="1"/><ellipse cx="318" cy="1122" rx="4.5" ry="12" fill="#6c5aa0" transform="rotate(20 318 1122)" opacity="1"/><ellipse cx="336" cy="1142" rx="4" ry="11" fill="#6c5aa0" transform="rotate(15 336 1142)" opacity="1"/><ellipse cx="290" cy="1134" rx="5" ry="5" fill="#6c5aa0" transform="rotate(0 290 1134)" opacity="1"/><ellipse cx="299" cy="1139" rx="5" ry="5" fill="#6c5aa0" transform="rotate(0 299 1139)" opacity="1"/><ellipse cx="298" cy="1152" rx="4.5" ry="4.5" fill="#6c5aa0" transform="rotate(0 298 1152)" opacity="1"/><ellipse cx="305" cy="1163" rx="5" ry="5" fill="#6c5aa0" transform="rotate(0 305 1163)" opacity="1"/><ellipse cx="315" cy="1170" rx="5" ry="5" fill="#6c5aa0" transform="rotate(0 315 1170)" opacity="1"/><ellipse cx="343" cy="1168" rx="4" ry="4" fill="#6c5aa0" transform="rotate(0 343 1168)" opacity="1"/><ellipse cx="344" cy="1160" rx="4" ry="7" fill="#6c5aa0" transform="rotate(0 344 1160)" opacity="1"/><ellipse cx="362" cy="1162" rx="4" ry="7" fill="#6c5aa0" transform="rotate(20 362 1162)" opacity="1"/><ellipse cx="386" cy="1158" rx="4" ry="6" fill="#6c5aa0" transform="rotate(30 386 1158)" opacity="1"/><ellipse cx="396" cy="1165" rx="5" ry="7" fill="#6c5aa0" transform="rotate(0 396 1165)" opacity="1"/><ellipse cx="340" cy="1090" rx="3" ry="8" fill="#6c5aa0" transform="rotate(20 340 1090)" opacity="1"/><ellipse cx="360" cy="1110" rx="3" ry="8" fill="#6c5aa0" transform="rotate(20 360 1110)" opacity="1"/><ellipse cx="374" cy="1102" rx="2" ry="3.5" fill="#a01838" transform="rotate(0 374 1102)" opacity="1"/></g><g><rect x="270.3" y="1000.3" width="170.39999999999998" height="175.9000000000001" fill="#fff" filter="url(#dotsP)" opacity="0.45"/></g></g><rect x="271.7" y="1001.7" width="167.6" height="173.1" fill="none" stroke="#231815" stroke-width="2.8"/>
<g clip-path="url(#c31)"><rect x="446" y="1000.5" width="169.7" height="174.3" fill="#fff"/><g filter="url(#soft)"><rect x="446" y="1000.5" width="169.70000000000005" height="174.29999999999995" fill="#f5edf1"/><path d="M476 999 C486.07 1003.03 499.48 1015.48 506.4 1023.2 C513.32 1030.92 512.43 1038.85 517.5 1045.3 C522.57 1051.75 529.88 1056.37 536.8 1061.9 C543.72 1067.43 552.07 1072.03 559 1078.5 C565.93 1084.97 571.95 1092.38 578.4 1100.7 C584.85 1109.02 592.17 1117.35 597.7 1128.4 C603.23 1139.45 608.88 1159.07 611.6 1167 C614.32 1174.93 641.6 1174.5 614 1176 C586.4 1177.5 474 1205.5 446 1176 C418 1146.5 441 1028.5 446 999 C451 969.5 465.93 994.97 476 999 Z" fill="#c8acd6"/><path d="M446 1060 C450 1043.17 457.67 1065 470 1075 C482.33 1085 505 1103.17 520 1120 C535 1136.83 572.33 1166.67 560 1176 C547.67 1185.33 465 1195.33 446 1176 C427 1156.67 442 1076.83 446 1060 Z" fill="#e6d6ea" filter="url(#blur2)"/><path d="M446 1120 C450 1112.33 461 1120.67 470 1130 C479 1139.33 504 1168.33 500 1176 C496 1183.67 455 1185.33 446 1176 C437 1166.67 442 1127.67 446 1120 Z" fill="#ecd6e6" filter="url(#blur2)"/><path d="M476 999 C481.07 1003.03 499.48 1015.48 506.4 1023.2 C513.32 1030.92 512.43 1038.85 517.5 1045.3 C522.57 1051.75 529.88 1056.37 536.8 1061.9 C543.72 1067.43 552.07 1072.03 559 1078.5 C565.93 1084.97 571.95 1092.38 578.4 1100.7 C584.85 1109.02 592.17 1117.35 597.7 1128.4 C603.23 1139.45 608.88 1159.07 611.6 1167 C614.32 1174.93 613.6 1174.5 614 1176" fill="none" stroke="#9a58b4" stroke-width="7" stroke-linejoin="round" opacity="0.85"/></g><g><rect x="446" y="1000.5" width="169.70000000000005" height="174.29999999999995" fill="#fff" filter="url(#dotsP)" opacity="0.35"/></g></g><rect x="447.4" y="1001.9" width="166.9" height="171.5" fill="none" stroke="#231815" stroke-width="2.8"/>
<g clip-path="url(#c32)"><rect x="621.2" y="1000.5" width="170.2" height="174.3" fill="#fff"/><g filter="url(#soft)"><rect x="621.2" y="1000.5" width="170.19999999999993" height="174.29999999999995" fill="#f2e6ee"/><path d="M621 1013.5 C624.17 996.5 633.5 1014.58 640 1016 C646.5 1017.42 653.33 1020.33 660 1022 C666.67 1023.67 673.33 1024.67 680 1026 C686.67 1027.33 693.33 1028.33 700 1030 C706.67 1031.67 713.33 1033.83 720 1036 C726.67 1038.17 734.17 1041 740 1043 C745.83 1045 750.83 1047.33 755 1048 C759.17 1048.67 761.67 1047.83 765 1047 C768.33 1046.17 770.5 1042.67 775 1043 C779.5 1043.33 789.17 1036.5 792 1049 C794.83 1061.5 807.33 1107.5 792 1118 C776.67 1128.5 728.5 1112 700 1112 C671.5 1112 634.17 1134.42 621 1118 C607.83 1101.58 617.83 1030.5 621 1013.5 Z" fill="#dcc6e2"/><path d="M621 1013.5 C624.17 1011.42 633.5 1014.58 640 1016 C646.5 1017.42 653.33 1020.33 660 1022 C666.67 1023.67 673.33 1024.67 680 1026 C686.67 1027.33 693.33 1028.33 700 1030 C706.67 1031.67 713.33 1033.83 720 1036 C726.67 1038.17 734.17 1041 740 1043 C745.83 1045 750.83 1047.33 755 1048 C759.17 1048.67 761.67 1047.83 765 1047 C768.33 1046.17 770.5 1042.67 775 1043 C779.5 1043.33 789.17 1045.5 792 1049 C794.83 1052.5 794.83 1062.5 792 1064 C789.17 1065.5 779.5 1058.33 775 1058 C770.5 1057.67 768.33 1061.17 765 1062 C761.67 1062.83 759.17 1063.67 755 1063 C750.83 1062.33 745.83 1060 740 1058 C734.17 1056 726.67 1053.17 720 1051 C713.33 1048.83 706.67 1046.67 700 1045 C693.33 1043.33 686.67 1042.33 680 1041 C673.33 1039.67 666.67 1038.67 660 1037 C653.33 1035.33 646.5 1032.42 640 1031 C633.5 1029.58 624.17 1031.42 621 1028.5 C617.83 1025.58 617.83 1015.58 621 1013.5 Z" fill="#a47cbc" /><path d="M621 1013.5 C624.17 1013.92 633.5 1014.58 640 1016 C646.5 1017.42 653.33 1020.33 660 1022 C666.67 1023.67 673.33 1024.67 680 1026 C686.67 1027.33 693.33 1028.33 700 1030 C706.67 1031.67 713.33 1033.83 720 1036 C726.67 1038.17 734.17 1041 740 1043 C745.83 1045 750.83 1047.33 755 1048 C759.17 1048.67 761.67 1047.83 765 1047 C768.33 1046.17 770.5 1042.67 775 1043 C779.5 1043.33 789.17 1048 792 1049" fill="none" stroke="#c04890" stroke-width="1.4" stroke-linejoin="round" /><path d="M621 1117 C627.5 1111.17 646.83 1113.83 660 1113 C673.17 1112.17 686.67 1111.17 700 1112 C713.33 1112.83 724.67 1115.33 740 1118 C755.33 1120.67 783.33 1122.67 792 1128 C800.67 1133.33 807.33 1147 792 1150 C776.67 1153 728.5 1146.33 700 1146 C671.5 1145.67 634.17 1152.83 621 1148 C607.83 1143.17 614.5 1122.83 621 1117 Z" fill="#e6c8e0"/><ellipse cx="699.29" cy="1089.11" rx="3.8" ry="4.5" fill="#9678bc" transform="rotate(0 699.29 1089.11)" opacity="1"/><ellipse cx="775.72" cy="1084.21" rx="3.8" ry="4.5" fill="#9678bc" transform="rotate(0 775.72 1084.21)" opacity="1"/><ellipse cx="708.27" cy="1090.54" rx="3.8" ry="4.5" fill="#9678bc" transform="rotate(0 708.27 1090.54)" opacity="1"/><ellipse cx="655.91" cy="1086.62" rx="3.8" ry="4.5" fill="#9678bc" transform="rotate(0 655.91 1086.62)" opacity="1"/><ellipse cx="728.04" cy="1101.23" rx="3.8" ry="4.5" fill="#9678bc" transform="rotate(0 728.04 1101.23)" opacity="1"/><ellipse cx="641.25" cy="1075.78" rx="3.8" ry="4.5" fill="#9678bc" transform="rotate(0 641.25 1075.78)" opacity="1"/><ellipse cx="640.69" cy="1102.1" rx="3.8" ry="4.5" fill="#9678bc" transform="rotate(0 640.69 1102.1)" opacity="1"/><ellipse cx="738.34" cy="1062.18" rx="3.8" ry="4.5" fill="#9678bc" transform="rotate(0 738.34 1062.18)" opacity="1"/><ellipse cx="785.12" cy="1110.17" rx="3.8" ry="4.5" fill="#9678bc" transform="rotate(0 785.12 1110.17)" opacity="1"/><ellipse cx="731.94" cy="1092.01" rx="3.8" ry="4.5" fill="#9678bc" transform="rotate(0 731.94 1092.01)" opacity="1"/><ellipse cx="651.51" cy="1060.78" rx="3.8" ry="4.5" fill="#9678bc" transform="rotate(0 651.51 1060.78)" opacity="1"/><ellipse cx="711.6" cy="1063.1" rx="3.8" ry="4.5" fill="#9678bc" transform="rotate(0 711.6 1063.1)" opacity="1"/><ellipse cx="656.81" cy="1072.58" rx="3.8" ry="4.5" fill="#9678bc" transform="rotate(0 656.81 1072.58)" opacity="1"/><ellipse cx="630.87" cy="1084.12" rx="3.8" ry="4.5" fill="#9678bc" transform="rotate(0 630.87 1084.12)" opacity="1"/><ellipse cx="697.37" cy="1103.81" rx="3.8" ry="4.5" fill="#9678bc" transform="rotate(0 697.37 1103.81)" opacity="1"/><ellipse cx="710.1" cy="1093.3" rx="3.8" ry="4.5" fill="#9678bc" transform="rotate(0 710.1 1093.3)" opacity="1"/><ellipse cx="706.96" cy="1094.45" rx="3.8" ry="4.5" fill="#9678bc" transform="rotate(0 706.96 1094.45)" opacity="1"/><ellipse cx="700.09" cy="1074.46" rx="3.8" ry="4.5" fill="#9678bc" transform="rotate(0 700.09 1074.46)" opacity="1"/><ellipse cx="787.62" cy="1111.78" rx="3.8" ry="4.5" fill="#9678bc" transform="rotate(0 787.62 1111.78)" opacity="1"/><ellipse cx="762.11" cy="1096.81" rx="3.8" ry="4.5" fill="#9678bc" transform="rotate(0 762.11 1096.81)" opacity="1"/><ellipse cx="677.07" cy="1071.94" rx="3.8" ry="4.5" fill="#9678bc" transform="rotate(0 677.07 1071.94)" opacity="1"/><ellipse cx="672.82" cy="1063.65" rx="3.8" ry="4.5" fill="#9678bc" transform="rotate(0 672.82 1063.65)" opacity="1"/><ellipse cx="750.14" cy="1080.82" rx="3.8" ry="4.5" fill="#9678bc" transform="rotate(0 750.14 1080.82)" opacity="1"/><ellipse cx="763.15" cy="1080.1" rx="3.8" ry="4.5" fill="#9678bc" transform="rotate(0 763.15 1080.1)" opacity="1"/><ellipse cx="781.2" cy="1104.06" rx="3.8" ry="4.5" fill="#9678bc" transform="rotate(0 781.2 1104.06)" opacity="1"/><ellipse cx="626.09" cy="1070.91" rx="3.8" ry="4.5" fill="#9678bc" transform="rotate(0 626.09 1070.91)" opacity="1"/><ellipse cx="773.46" cy="1084.44" rx="3.8" ry="4.5" fill="#9678bc" transform="rotate(0 773.46 1084.44)" opacity="1"/><ellipse cx="784.82" cy="1080.67" rx="3.8" ry="4.5" fill="#9678bc" transform="rotate(0 784.82 1080.67)" opacity="1"/><ellipse cx="637.83" cy="1092.73" rx="3.8" ry="4.5" fill="#9678bc" transform="rotate(0 637.83 1092.73)" opacity="1"/><ellipse cx="752.12" cy="1074.03" rx="3.8" ry="4.5" fill="#9678bc" transform="rotate(0 752.12 1074.03)" opacity="1"/></g><g><rect x="621.2" y="1000.5" width="170.19999999999993" height="174.29999999999995" fill="#fff" filter="url(#dotsP)" opacity="0.35"/></g></g><rect x="622.6" y="1001.9" width="167.4" height="171.5" fill="none" stroke="#231815" stroke-width="2.8"/>
<g clip-path="url(#c33)"><rect x="94.4" y="1274.1" width="170" height="175.9" fill="#fff"/><g filter="url(#soft)"><rect x="94.4" y="1274.1" width="169.99999999999997" height="175.9000000000001" fill="#f2e4c8"/><rect x="94.4" y="1274.1" width="169.99999999999997" height="36" fill="#f6ecd8"/><rect x="94.4" y="1274.1" width="169.99999999999997" height="175.9000000000001" fill="#fff" filter="url(#brown)" opacity="0.5"/><path d="M94 1316.6 C97.5 1316.83 108.73 1317.55 115 1318 C121.27 1318.45 125.77 1319.47 131.6 1319.3 C137.43 1319.13 143.23 1317.45 150 1317 C156.77 1316.55 166.2 1315.77 172.2 1316.6 C178.2 1317.43 181.5 1320.2 186 1322 C190.5 1323.8 194.87 1327.4 199.2 1327.4 C203.53 1327.4 207.48 1323.8 212 1322 C216.52 1320.2 218.3 1317.5 226.3 1316.6 C234.3 1315.7 253.55 1316.53 260 1316.6 C266.45 1316.67 264.17 1316.93 265 1317" fill="none" stroke="#aeacd8" stroke-width="10" stroke-linejoin="round" opacity="0.7"/><ellipse cx="110" cy="1370" rx="7" ry="28" fill="none" stroke="#a8a8d8" stroke-width="2.5" opacity="0.7" transform="rotate(15 110 1370)"/><ellipse cx="140" cy="1365" rx="8" ry="26" fill="none" stroke="#a8a8d8" stroke-width="2.5" opacity="0.7" transform="rotate(20 140 1365)"/><ellipse cx="172" cy="1385" rx="7" ry="20" fill="none" stroke="#a8a8d8" stroke-width="2.5" opacity="0.7" transform="rotate(10 172 1385)"/><ellipse cx="195" cy="1375" rx="8" ry="26" fill="none" stroke="#a8a8d8" stroke-width="2.5" opacity="0.7" transform="rotate(-5 195 1375)"/><ellipse cx="232" cy="1370" rx="9" ry="28" fill="none" stroke="#a8a8d8" stroke-width="2.5" opacity="0.7" transform="rotate(5 232 1370)"/><ellipse cx="120" cy="1430" rx="11.5" ry="13" fill="#6a6cb8" transform="rotate(0 120 1430)" opacity="0.9"/><ellipse cx="143.8" cy="1427" rx="9.5" ry="12.5" fill="#6a6cb8" transform="rotate(0 143.8 1427)" opacity="0.9"/><ellipse cx="176.2" cy="1409" rx="9.5" ry="9" fill="#6a6cb8" transform="rotate(0 176.2 1409)" opacity="0.9"/><ellipse cx="193.8" cy="1421.5" rx="9.5" ry="8" fill="#6a6cb8" transform="rotate(0 193.8 1421.5)" opacity="0.9"/><ellipse cx="227.6" cy="1415.5" rx="11" ry="10" fill="#6a6cb8" transform="rotate(0 227.6 1415.5)" opacity="0.9"/><ellipse cx="261" cy="1423.5" rx="4" ry="9" fill="#6a6cb8" transform="rotate(0 261 1423.5)" opacity="0.9"/></g><g><rect x="94.4" y="1274.1" width="169.99999999999997" height="175.9000000000001" fill="#fff" filter="url(#dotsB)" opacity="0.6"/></g></g><rect x="95.8" y="1275.5" width="167.2" height="173.1" fill="none" stroke="#231815" stroke-width="2.8"/>
<g clip-path="url(#c34)"><rect x="270.4" y="1274.1" width="170" height="175.9" fill="#fff"/><g filter="url(#soft)"><rect x="270.4" y="1274.1" width="170.0" height="175.9000000000001" fill="#eedcbc"/><rect x="270.4" y="1274.1" width="170.0" height="175.9000000000001" fill="#fff" filter="url(#brown)" opacity="0.6"/><path d="M300.8 1276 C298.1 1281.77 305.35 1300.77 307.6 1310.6 C309.85 1320.43 309.8 1330.05 314.3 1335 C318.8 1339.95 327.82 1337.6 334.6 1340.3 C341.38 1343 348.23 1350.28 355 1351.2 C361.77 1352.12 367.32 1347.38 375.2 1345.8 C383.08 1344.22 391.17 1344.18 402.3 1341.7 C413.43 1339.22 435.38 1338.35 442 1330.9 C448.62 1323.45 444.57 1301.28 442 1297 C439.43 1292.72 430.97 1302.93 426.6 1305.2 C422.23 1307.47 419.85 1311.28 415.8 1310.6 C411.75 1309.92 406.8 1303.37 402.3 1301.1 C397.8 1298.83 393.32 1298.8 388.8 1297 C384.28 1295.2 379.72 1292.1 375.2 1290.3 C370.68 1288.5 366.2 1286.65 361.7 1286.2 C357.2 1285.75 353.15 1287.6 348.2 1287.6 C343.25 1287.6 336.07 1288.13 332 1286.2 C327.93 1284.27 329 1277.7 323.8 1276 C318.6 1274.3 303.5 1270.23 300.8 1276 Z" fill="#bcbcdc" opacity="0.92"/><path d="M323.8 1276 C305.47 1277.7 327.93 1284.27 332 1286.2 C336.07 1288.13 343.25 1287.6 348.2 1287.6 C353.15 1287.6 357.2 1285.75 361.7 1286.2 C366.2 1286.65 370.68 1288.5 375.2 1290.3 C379.72 1292.1 384.28 1295.2 388.8 1297 C393.32 1298.8 397.8 1298.83 402.3 1301.1 C406.8 1303.37 411.75 1309.92 415.8 1310.6 C419.85 1311.28 422.23 1307.47 426.6 1305.2 C430.97 1302.93 439.43 1301.87 442 1297 C444.57 1292.13 461.7 1279.5 442 1276 C422.3 1272.5 342.13 1274.3 323.8 1276 Z" fill="#f6ecd8"/><ellipse cx="285" cy="1380" rx="8" ry="26" fill="#b4b4dc" transform="rotate(10 285 1380)" opacity="0.75"/><ellipse cx="310" cy="1395" rx="7" ry="22" fill="#b4b4dc" transform="rotate(5 310 1395)" opacity="0.75"/><ellipse cx="333" cy="1395" rx="6" ry="22" fill="#b4b4dc" transform="rotate(-5 333 1395)" opacity="0.75"/><ellipse cx="365" cy="1395" rx="8" ry="20" fill="#b4b4dc" transform="rotate(0 365 1395)" opacity="0.75"/><ellipse cx="408" cy="1420" rx="8" ry="22" fill="#b4b4dc" transform="rotate(0 408 1420)" opacity="0.75"/><ellipse cx="430" cy="1380" rx="5" ry="14" fill="#b4b4dc" transform="rotate(0 430 1380)" opacity="0.75"/></g><g><rect x="270.4" y="1274.1" width="170.0" height="175.9000000000001" fill="#fff" filter="url(#dotsB)" opacity="0.8"/></g></g><rect x="271.8" y="1275.5" width="167.2" height="173.1" fill="none" stroke="#231815" stroke-width="2.8"/>
<g clip-path="url(#c35)"><rect x="445.4" y="1274.1" width="170" height="175.9" fill="#fff"/><g filter="url(#soft)"><rect x="445.4" y="1274.1" width="170.0" height="175.9000000000001" fill="#f3e7cc"/><rect x="445.4" y="1274.1" width="170.0" height="175.9000000000001" fill="#fff" filter="url(#brown)" opacity="0.35"/><rect x="445.4" y="1355" width="170.0" height="95" fill="#fff" filter="url(#brown)" opacity="0.45"/><rect x="445.4" y="1274.1" width="170.0" height="40" fill="#dcd6e0" opacity="0.55" filter="url(#blur4)"/><ellipse cx="478" cy="1335" rx="10" ry="22" fill="#d2cedc" transform="rotate(0 478 1335)" opacity="0.45"/><ellipse cx="508" cy="1330" rx="9" ry="25" fill="#d2cedc" transform="rotate(0 508 1330)" opacity="0.45"/><ellipse cx="545" cy="1330" rx="9" ry="22" fill="#d2cedc" transform="rotate(0 545 1330)" opacity="0.45"/><ellipse cx="590" cy="1330" rx="10" ry="25" fill="#d2cedc" transform="rotate(0 590 1330)" opacity="0.45"/></g><g><rect x="445.4" y="1274.1" width="170.0" height="175.9000000000001" fill="#fff" filter="url(#dotsB)" opacity="0.5"/></g></g><rect x="446.8" y="1275.5" width="167.2" height="173.1" fill="none" stroke="#231815" stroke-width="2.8"/>
<g clip-path="url(#c36)"><rect x="620.2" y="1274.1" width="170.7" height="175.9" fill="#fff"/><g filter="url(#soft)"><rect x="620.2" y="1274.1" width="170.69999999999993" height="175.9000000000001" fill="#f3e7cc"/><rect x="620.2" y="1274.1" width="170.69999999999993" height="175.9000000000001" fill="#fff" filter="url(#brown)" opacity="0.4"/><rect x="620.2" y="1340" width="170.69999999999993" height="110" fill="#fff" filter="url(#brown)" opacity="0.4"/><rect x="620.2" y="1274.1" width="170.69999999999993" height="40" fill="#dcd6e0" opacity="0.5" filter="url(#blur4)"/><ellipse cx="672" cy="1330" rx="9" ry="22" fill="#d2cedc" transform="rotate(0 672 1330)" opacity="0.4"/><ellipse cx="735" cy="1360" rx="12" ry="25" fill="#d2cedc" transform="rotate(0 735 1360)" opacity="0.4"/><ellipse cx="765" cy="1360" rx="10" ry="20" fill="#d2cedc" transform="rotate(0 765 1360)" opacity="0.4"/><ellipse cx="668" cy="1395" rx="5" ry="5" fill="#5860b0" transform="rotate(0 668 1395)" opacity="1"/><ellipse cx="683" cy="1400" rx="2.5" ry="2.5" fill="#5860b0" transform="rotate(0 683 1400)" opacity="1"/></g><g><rect x="620.2" y="1274.1" width="170.69999999999993" height="175.9000000000001" fill="#fff" filter="url(#dotsB)" opacity="0.5"/></g></g><rect x="621.6" y="1275.5" width="167.9" height="173.1" fill="none" stroke="#231815" stroke-width="2.8"/>
<text transform="translate(716.13 964.1) scale(0.89 1)" font-family='"Liberation Sans", Arial, sans-serif' font-weight="bold" font-size="25" fill="#000" >500μm</text>
<rect x="743.4" y="966.8" width="41.8" height="2.8" fill="#000"/>
<text transform="translate(716.01 1150.9) scale(0.91 1)" font-family='"Liberation Sans", Arial, sans-serif' font-weight="bold" font-size="24.8" fill="#000" >200μm</text>
<rect x="744.1" y="1154.7" width="41.1" height="2.6" fill="#000"/>
<text transform="translate(711.21 1426.6) scale(0.91 1)" font-family='"Liberation Sans", Arial, sans-serif' font-weight="bold" font-size="25.5" fill="#000" >100μm</text>
<rect x="713.3" y="1432" width="72.3" height="2.6" fill="#000"/>
<line x1="377" y1="1025" x2="337" y2="1078" stroke="#000" stroke-width="2"/><line x1="377" y1="1025" x2="369.71" y2="1028.29" stroke="#000" stroke-width="2"/><line x1="377" y1="1025" x2="375.83" y2="1032.91" stroke="#000" stroke-width="2"/><line x1="337" y1="1078" x2="344.29" y2="1074.71" stroke="#000" stroke-width="2"/><line x1="337" y1="1078" x2="338.17" y2="1070.09" stroke="#000" stroke-width="2"/>
<line x1="535" y1="1062" x2="518" y2="1084" stroke="#000" stroke-width="1.8"/><line x1="535" y1="1062" x2="530.42" y2="1064.01" stroke="#000" stroke-width="1.8"/><line x1="535" y1="1062" x2="534.21" y2="1066.94" stroke="#000" stroke-width="1.8"/><line x1="518" y1="1084" x2="522.58" y2="1081.99" stroke="#000" stroke-width="1.8"/><line x1="518" y1="1084" x2="518.79" y2="1079.06" stroke="#000" stroke-width="1.8"/>
<line x1="728" y1="1040" x2="723" y2="1055" stroke="#000" stroke-width="1.6"/><line x1="728" y1="1040" x2="725.44" y2="1042.38" stroke="#000" stroke-width="1.6"/><line x1="728" y1="1040" x2="728.62" y2="1043.44" stroke="#000" stroke-width="1.6"/><line x1="723" y1="1055" x2="725.56" y2="1052.62" stroke="#000" stroke-width="1.6"/><line x1="723" y1="1055" x2="722.38" y2="1051.56" stroke="#000" stroke-width="1.6"/>
<path d="M289.1 1306 L300.1 1295 M291.1 1296.5 L300.1 1295 L301.6 1304" fill="none" stroke="#cc1f2c" stroke-width="2.2"/>
<path d="M315.5 1333.1 L326.5 1322.1 M317.5 1323.6 L326.5 1322.1 L328 1331.1" fill="none" stroke="#cc1f2c" stroke-width="2.2"/>
<path d="M354.8 1350.7 L365.8 1339.7 M356.8 1341.2 L365.8 1339.7 L367.3 1348.7" fill="none" stroke="#cc1f2c" stroke-width="2.2"/>
<path d="M380.5 1341.9 L391.5 1330.9 M382.5 1332.4 L391.5 1330.9 L393 1339.9" fill="none" stroke="#cc1f2c" stroke-width="2.2"/>
<path d="M408.9 1352.7 L419.9 1341.7 M410.9 1343.2 L419.9 1341.7 L421.4 1350.7" fill="none" stroke="#cc1f2c" stroke-width="2.2"/>
<path d="M458 1318.9 L469 1307.9 M460 1309.4 L469 1307.9 L470.5 1316.9" fill="none" stroke="#cc1f2c" stroke-width="2.2"/>
<text transform="translate(980.4 1223.9) rotate(-90) scale(0.94 1)" font-family='"Liberation Sans", Arial, sans-serif' font-weight="bold" font-size="37.5" fill="#000">Epidermal Thickness(μm)</text>
<path d="M1056.2 1118.7 H1276.1 M1068.6 1120.5 V894.5 M1068.6 896.3 H1056.2" fill="none" stroke="#000" stroke-width="3.8"/>
<line x1="1056.2" y1="1044.8" x2="1068.6" y2="1044.8" stroke="#000" stroke-width="3.8"/>
<line x1="1056.2" y1="970.3" x2="1068.6" y2="970.3" stroke="#000" stroke-width="3.8"/>
<text transform="translate(1000.94 906.8) scale(1 1)" font-family='"Liberation Sans", Arial, sans-serif' font-weight="bold" font-size="30.5" fill="#000" >150</text>
<text transform="translate(1000.94 980.8) scale(1 1)" font-family='"Liberation Sans", Arial, sans-serif' font-weight="bold" font-size="30.5" fill="#000" >100</text>
<text transform="translate(1017.87 1055.3) scale(1 1)" font-family='"Liberation Sans", Arial, sans-serif' font-weight="bold" font-size="30.5" fill="#000" >50</text>
<text transform="translate(1034.79 1129.2) scale(1 1)" font-family='"Liberation Sans", Arial, sans-serif' font-weight="bold" font-size="30.5" fill="#000" >0</text>
<rect x="1076.9" y="1067.5" width="34.3" height="51.2" fill="#151110"/>
<line x1="1094.05" y1="1067.5" x2="1094.05" y2="1064.2" stroke="#000" stroke-width="1.8"/>
<line x1="1085.3" y1="1064.2" x2="1102.3" y2="1064.2" stroke="#000" stroke-width="2.2"/>
<rect x="1127.9" y="975.0" width="34.6" height="143.7" fill="#151110"/>
<line x1="1145.2" y1="975.0" x2="1145.2" y2="972.0" stroke="#000" stroke-width="1.8"/>
<line x1="1137" y1="972.0" x2="1153.8" y2="972.0" stroke="#000" stroke-width="2.2"/>
<rect x="1179.0" y="1019.6" width="35" height="99.1" fill="#151110"/>
<line x1="1196.5" y1="1019.6" x2="1196.5" y2="1011.8" stroke="#000" stroke-width="1.8"/>
<line x1="1188.1" y1="1011.8" x2="1205" y2="1011.8" stroke="#000" stroke-width="2.2"/>
<rect x="1230.6" y="1026.2" width="34.6" height="92.5" fill="#151110"/>
<line x1="1247.9" y1="1026.2" x2="1247.9" y2="1023.7" stroke="#000" stroke-width="1.8"/>
<line x1="1239.8" y1="1023.7" x2="1256.7" y2="1023.7" stroke="#000" stroke-width="2.2"/>
<path d="M1091.2 965.1 V958.5 H1143 V965.1" fill="none" stroke="#000" stroke-width="2"/>
<path d="M1148.7 964.3 V958 H1200.3 V964.3" fill="none" stroke="#000" stroke-width="2"/>
<path d="M1150.3 935.4 V928.8 H1248.2 V935.4" fill="none" stroke="#000" stroke-width="2"/>
<text transform="translate(1088.19 962.8) scale(0.92 1)" font-family='"Liberation Serif", "Times New Roman", serif' font-weight="normal" font-size="37" fill="#000" >***</text>
<text transform="translate(1151.79 962.8) scale(0.92 1)" font-family='"Liberation Serif", "Times New Roman", serif' font-weight="normal" font-size="37" fill="#000" >***</text>
<text transform="translate(1178.99 932.1) scale(0.92 1)" font-family='"Liberation Serif", "Times New Roman", serif' font-weight="normal" font-size="37" fill="#000" >***</text>
<text transform="translate(1104 1145.5) rotate(-45)" text-anchor="end" font-family='"Liberation Sans", Arial, sans-serif' font-weight="bold" font-size="30.5">Con.</text>
<text transform="translate(1155.2 1145.5) rotate(-45)" text-anchor="end" font-family='"Liberation Sans", Arial, sans-serif' font-weight="bold" font-size="30.5">IMQ</text>
<text transform="translate(1206.5 1145.5) rotate(-45)" text-anchor="end" font-family='"Liberation Sans", Arial, sans-serif' font-weight="bold" font-size="30.5">DHA-L</text>
<text transform="translate(1257.9 1145.5) rotate(-45)" text-anchor="end" font-family='"Liberation Sans", Arial, sans-serif' font-weight="bold" font-size="30.5">DHA-H</text>
</svg></body></html>
